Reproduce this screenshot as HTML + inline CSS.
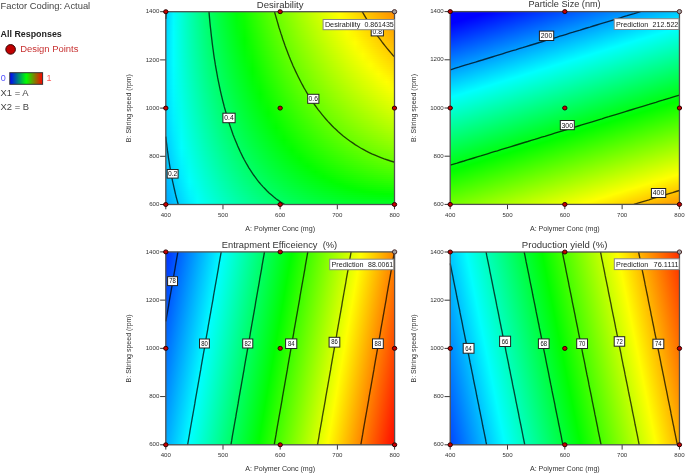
<!DOCTYPE html>
<html><head><meta charset="utf-8"><style>html,body{margin:0;padding:0;background:#fff;}svg{display:block;font-family:"Liberation Sans", sans-serif;filter:blur(0.35px);}</style></head>
<body><svg width="685" height="473" viewBox="0 0 685 473"><defs><linearGradient id="gd0" x1="0" x2="1" y1="0" y2="0"><stop offset="0.000" stop-color="#00c8ff"/><stop offset="0.034" stop-color="#00fbff"/><stop offset="0.069" stop-color="#00ffd9"/><stop offset="0.103" stop-color="#00ffb5"/><stop offset="0.138" stop-color="#00ff93"/><stop offset="0.172" stop-color="#00ff74"/><stop offset="0.207" stop-color="#00ff57"/><stop offset="0.241" stop-color="#00ff3b"/><stop offset="0.276" stop-color="#00ff21"/><stop offset="0.310" stop-color="#00ff08"/><stop offset="0.345" stop-color="#11ff00"/><stop offset="0.379" stop-color="#28ff00"/><stop offset="0.414" stop-color="#3fff00"/><stop offset="0.448" stop-color="#55ff00"/><stop offset="0.483" stop-color="#6aff00"/><stop offset="0.517" stop-color="#7fff00"/><stop offset="0.552" stop-color="#93ff00"/><stop offset="0.586" stop-color="#a7ff00"/><stop offset="0.621" stop-color="#baff00"/><stop offset="0.655" stop-color="#ccff00"/><stop offset="0.690" stop-color="#dfff00"/><stop offset="0.724" stop-color="#f0ff00"/><stop offset="0.759" stop-color="#fffd00"/><stop offset="0.793" stop-color="#ffec00"/><stop offset="0.828" stop-color="#ffdb00"/><stop offset="0.862" stop-color="#ffcb00"/><stop offset="0.897" stop-color="#ffbb00"/><stop offset="0.931" stop-color="#ffac00"/><stop offset="0.966" stop-color="#ff9d00"/><stop offset="1.000" stop-color="#ff8e00"/></linearGradient><linearGradient id="gd1" x1="0" x2="1" y1="0" y2="0"><stop offset="0.000" stop-color="#00c9ff"/><stop offset="0.034" stop-color="#00fbff"/><stop offset="0.069" stop-color="#00ffd9"/><stop offset="0.103" stop-color="#00ffb5"/><stop offset="0.138" stop-color="#00ff94"/><stop offset="0.172" stop-color="#00ff75"/><stop offset="0.207" stop-color="#00ff58"/><stop offset="0.241" stop-color="#00ff3c"/><stop offset="0.276" stop-color="#00ff22"/><stop offset="0.310" stop-color="#00ff09"/><stop offset="0.345" stop-color="#10ff00"/><stop offset="0.379" stop-color="#27ff00"/><stop offset="0.414" stop-color="#3eff00"/><stop offset="0.448" stop-color="#54ff00"/><stop offset="0.483" stop-color="#69ff00"/><stop offset="0.517" stop-color="#7dff00"/><stop offset="0.552" stop-color="#91ff00"/><stop offset="0.586" stop-color="#a5ff00"/><stop offset="0.621" stop-color="#b8ff00"/><stop offset="0.655" stop-color="#cbff00"/><stop offset="0.690" stop-color="#ddff00"/><stop offset="0.724" stop-color="#eeff00"/><stop offset="0.759" stop-color="#ffff00"/><stop offset="0.793" stop-color="#ffee00"/><stop offset="0.828" stop-color="#ffdd00"/><stop offset="0.862" stop-color="#ffcd00"/><stop offset="0.897" stop-color="#ffbe00"/><stop offset="0.931" stop-color="#ffae00"/><stop offset="0.966" stop-color="#ff9f00"/><stop offset="1.000" stop-color="#ff9100"/></linearGradient><linearGradient id="gd2" x1="0" x2="1" y1="0" y2="0"><stop offset="0.000" stop-color="#00caff"/><stop offset="0.034" stop-color="#00fcff"/><stop offset="0.069" stop-color="#00ffd9"/><stop offset="0.103" stop-color="#00ffb5"/><stop offset="0.138" stop-color="#00ff94"/><stop offset="0.172" stop-color="#00ff75"/><stop offset="0.207" stop-color="#00ff58"/><stop offset="0.241" stop-color="#00ff3d"/><stop offset="0.276" stop-color="#00ff23"/><stop offset="0.310" stop-color="#00ff0a"/><stop offset="0.345" stop-color="#0eff00"/><stop offset="0.379" stop-color="#26ff00"/><stop offset="0.414" stop-color="#3cff00"/><stop offset="0.448" stop-color="#52ff00"/><stop offset="0.483" stop-color="#67ff00"/><stop offset="0.517" stop-color="#7cff00"/><stop offset="0.552" stop-color="#90ff00"/><stop offset="0.586" stop-color="#a3ff00"/><stop offset="0.621" stop-color="#b6ff00"/><stop offset="0.655" stop-color="#c9ff00"/><stop offset="0.690" stop-color="#dbff00"/><stop offset="0.724" stop-color="#ecff00"/><stop offset="0.759" stop-color="#fdff00"/><stop offset="0.793" stop-color="#fff000"/><stop offset="0.828" stop-color="#ffe000"/><stop offset="0.862" stop-color="#ffd000"/><stop offset="0.897" stop-color="#ffc000"/><stop offset="0.931" stop-color="#ffb100"/><stop offset="0.966" stop-color="#ffa200"/><stop offset="1.000" stop-color="#ff9300"/></linearGradient><linearGradient id="gd3" x1="0" x2="1" y1="0" y2="0"><stop offset="0.000" stop-color="#00cbff"/><stop offset="0.034" stop-color="#00fcff"/><stop offset="0.069" stop-color="#00ffd9"/><stop offset="0.103" stop-color="#00ffb5"/><stop offset="0.138" stop-color="#00ff94"/><stop offset="0.172" stop-color="#00ff76"/><stop offset="0.207" stop-color="#00ff59"/><stop offset="0.241" stop-color="#00ff3e"/><stop offset="0.276" stop-color="#00ff24"/><stop offset="0.310" stop-color="#00ff0b"/><stop offset="0.345" stop-color="#0dff00"/><stop offset="0.379" stop-color="#25ff00"/><stop offset="0.414" stop-color="#3bff00"/><stop offset="0.448" stop-color="#51ff00"/><stop offset="0.483" stop-color="#66ff00"/><stop offset="0.517" stop-color="#7aff00"/><stop offset="0.552" stop-color="#8eff00"/><stop offset="0.586" stop-color="#a2ff00"/><stop offset="0.621" stop-color="#b4ff00"/><stop offset="0.655" stop-color="#c7ff00"/><stop offset="0.690" stop-color="#d9ff00"/><stop offset="0.724" stop-color="#eaff00"/><stop offset="0.759" stop-color="#fbff00"/><stop offset="0.793" stop-color="#fff200"/><stop offset="0.828" stop-color="#ffe200"/><stop offset="0.862" stop-color="#ffd200"/><stop offset="0.897" stop-color="#ffc200"/><stop offset="0.931" stop-color="#ffb300"/><stop offset="0.966" stop-color="#ffa400"/><stop offset="1.000" stop-color="#ff9600"/></linearGradient><linearGradient id="gd4" x1="0" x2="1" y1="0" y2="0"><stop offset="0.000" stop-color="#00cdff"/><stop offset="0.034" stop-color="#00fdff"/><stop offset="0.069" stop-color="#00ffd9"/><stop offset="0.103" stop-color="#00ffb6"/><stop offset="0.138" stop-color="#00ff95"/><stop offset="0.172" stop-color="#00ff77"/><stop offset="0.207" stop-color="#00ff5a"/><stop offset="0.241" stop-color="#00ff3f"/><stop offset="0.276" stop-color="#00ff25"/><stop offset="0.310" stop-color="#00ff0c"/><stop offset="0.345" stop-color="#0cff00"/><stop offset="0.379" stop-color="#23ff00"/><stop offset="0.414" stop-color="#3aff00"/><stop offset="0.448" stop-color="#4fff00"/><stop offset="0.483" stop-color="#64ff00"/><stop offset="0.517" stop-color="#79ff00"/><stop offset="0.552" stop-color="#8dff00"/><stop offset="0.586" stop-color="#a0ff00"/><stop offset="0.621" stop-color="#b3ff00"/><stop offset="0.655" stop-color="#c5ff00"/><stop offset="0.690" stop-color="#d7ff00"/><stop offset="0.724" stop-color="#e8ff00"/><stop offset="0.759" stop-color="#f9ff00"/><stop offset="0.793" stop-color="#fff400"/><stop offset="0.828" stop-color="#ffe400"/><stop offset="0.862" stop-color="#ffd400"/><stop offset="0.897" stop-color="#ffc500"/><stop offset="0.931" stop-color="#ffb600"/><stop offset="0.966" stop-color="#ffa700"/><stop offset="1.000" stop-color="#ff9900"/></linearGradient><linearGradient id="gd5" x1="0" x2="1" y1="0" y2="0"><stop offset="0.000" stop-color="#00ceff"/><stop offset="0.034" stop-color="#00fdff"/><stop offset="0.069" stop-color="#00ffd9"/><stop offset="0.103" stop-color="#00ffb6"/><stop offset="0.138" stop-color="#00ff95"/><stop offset="0.172" stop-color="#00ff77"/><stop offset="0.207" stop-color="#00ff5b"/><stop offset="0.241" stop-color="#00ff40"/><stop offset="0.276" stop-color="#00ff26"/><stop offset="0.310" stop-color="#00ff0d"/><stop offset="0.345" stop-color="#0bff00"/><stop offset="0.379" stop-color="#22ff00"/><stop offset="0.414" stop-color="#38ff00"/><stop offset="0.448" stop-color="#4eff00"/><stop offset="0.483" stop-color="#63ff00"/><stop offset="0.517" stop-color="#77ff00"/><stop offset="0.552" stop-color="#8bff00"/><stop offset="0.586" stop-color="#9eff00"/><stop offset="0.621" stop-color="#b1ff00"/><stop offset="0.655" stop-color="#c3ff00"/><stop offset="0.690" stop-color="#d5ff00"/><stop offset="0.724" stop-color="#e6ff00"/><stop offset="0.759" stop-color="#f7ff00"/><stop offset="0.793" stop-color="#fff600"/><stop offset="0.828" stop-color="#ffe600"/><stop offset="0.862" stop-color="#ffd700"/><stop offset="0.897" stop-color="#ffc700"/><stop offset="0.931" stop-color="#ffb800"/><stop offset="0.966" stop-color="#ffaa00"/><stop offset="1.000" stop-color="#ff9b00"/></linearGradient><linearGradient id="gd6" x1="0" x2="1" y1="0" y2="0"><stop offset="0.000" stop-color="#00cfff"/><stop offset="0.034" stop-color="#00fdff"/><stop offset="0.069" stop-color="#00ffd9"/><stop offset="0.103" stop-color="#00ffb6"/><stop offset="0.138" stop-color="#00ff96"/><stop offset="0.172" stop-color="#00ff78"/><stop offset="0.207" stop-color="#00ff5b"/><stop offset="0.241" stop-color="#00ff40"/><stop offset="0.276" stop-color="#00ff27"/><stop offset="0.310" stop-color="#00ff0e"/><stop offset="0.345" stop-color="#0aff00"/><stop offset="0.379" stop-color="#21ff00"/><stop offset="0.414" stop-color="#37ff00"/><stop offset="0.448" stop-color="#4dff00"/><stop offset="0.483" stop-color="#61ff00"/><stop offset="0.517" stop-color="#76ff00"/><stop offset="0.552" stop-color="#89ff00"/><stop offset="0.586" stop-color="#9cff00"/><stop offset="0.621" stop-color="#afff00"/><stop offset="0.655" stop-color="#c1ff00"/><stop offset="0.690" stop-color="#d3ff00"/><stop offset="0.724" stop-color="#e4ff00"/><stop offset="0.759" stop-color="#f5ff00"/><stop offset="0.793" stop-color="#fff900"/><stop offset="0.828" stop-color="#ffe900"/><stop offset="0.862" stop-color="#ffd900"/><stop offset="0.897" stop-color="#ffca00"/><stop offset="0.931" stop-color="#ffbb00"/><stop offset="0.966" stop-color="#ffac00"/><stop offset="1.000" stop-color="#ff9e00"/></linearGradient><linearGradient id="gd7" x1="0" x2="1" y1="0" y2="0"><stop offset="0.000" stop-color="#00d0ff"/><stop offset="0.034" stop-color="#00feff"/><stop offset="0.069" stop-color="#00ffd9"/><stop offset="0.103" stop-color="#00ffb6"/><stop offset="0.138" stop-color="#00ff96"/><stop offset="0.172" stop-color="#00ff78"/><stop offset="0.207" stop-color="#00ff5c"/><stop offset="0.241" stop-color="#00ff41"/><stop offset="0.276" stop-color="#00ff28"/><stop offset="0.310" stop-color="#00ff0f"/><stop offset="0.345" stop-color="#09ff00"/><stop offset="0.379" stop-color="#20ff00"/><stop offset="0.414" stop-color="#36ff00"/><stop offset="0.448" stop-color="#4bff00"/><stop offset="0.483" stop-color="#60ff00"/><stop offset="0.517" stop-color="#74ff00"/><stop offset="0.552" stop-color="#88ff00"/><stop offset="0.586" stop-color="#9bff00"/><stop offset="0.621" stop-color="#adff00"/><stop offset="0.655" stop-color="#bfff00"/><stop offset="0.690" stop-color="#d1ff00"/><stop offset="0.724" stop-color="#e2ff00"/><stop offset="0.759" stop-color="#f3ff00"/><stop offset="0.793" stop-color="#fffb00"/><stop offset="0.828" stop-color="#ffeb00"/><stop offset="0.862" stop-color="#ffdb00"/><stop offset="0.897" stop-color="#ffcc00"/><stop offset="0.931" stop-color="#ffbd00"/><stop offset="0.966" stop-color="#ffaf00"/><stop offset="1.000" stop-color="#ffa000"/></linearGradient><linearGradient id="gd8" x1="0" x2="1" y1="0" y2="0"><stop offset="0.000" stop-color="#00d1ff"/><stop offset="0.034" stop-color="#00feff"/><stop offset="0.069" stop-color="#00ffd9"/><stop offset="0.103" stop-color="#00ffb7"/><stop offset="0.138" stop-color="#00ff97"/><stop offset="0.172" stop-color="#00ff79"/><stop offset="0.207" stop-color="#00ff5d"/><stop offset="0.241" stop-color="#00ff42"/><stop offset="0.276" stop-color="#00ff29"/><stop offset="0.310" stop-color="#00ff10"/><stop offset="0.345" stop-color="#08ff00"/><stop offset="0.379" stop-color="#1eff00"/><stop offset="0.414" stop-color="#34ff00"/><stop offset="0.448" stop-color="#4aff00"/><stop offset="0.483" stop-color="#5eff00"/><stop offset="0.517" stop-color="#72ff00"/><stop offset="0.552" stop-color="#86ff00"/><stop offset="0.586" stop-color="#99ff00"/><stop offset="0.621" stop-color="#abff00"/><stop offset="0.655" stop-color="#bdff00"/><stop offset="0.690" stop-color="#cfff00"/><stop offset="0.724" stop-color="#e0ff00"/><stop offset="0.759" stop-color="#f1ff00"/><stop offset="0.793" stop-color="#fffd00"/><stop offset="0.828" stop-color="#ffed00"/><stop offset="0.862" stop-color="#ffde00"/><stop offset="0.897" stop-color="#ffce00"/><stop offset="0.931" stop-color="#ffc000"/><stop offset="0.966" stop-color="#ffb100"/><stop offset="1.000" stop-color="#ffa300"/></linearGradient><linearGradient id="gd9" x1="0" x2="1" y1="0" y2="0"><stop offset="0.000" stop-color="#00d1ff"/><stop offset="0.034" stop-color="#00feff"/><stop offset="0.069" stop-color="#00ffd9"/><stop offset="0.103" stop-color="#00ffb7"/><stop offset="0.138" stop-color="#00ff97"/><stop offset="0.172" stop-color="#00ff7a"/><stop offset="0.207" stop-color="#00ff5e"/><stop offset="0.241" stop-color="#00ff43"/><stop offset="0.276" stop-color="#00ff2a"/><stop offset="0.310" stop-color="#00ff11"/><stop offset="0.345" stop-color="#06ff00"/><stop offset="0.379" stop-color="#1dff00"/><stop offset="0.414" stop-color="#33ff00"/><stop offset="0.448" stop-color="#48ff00"/><stop offset="0.483" stop-color="#5dff00"/><stop offset="0.517" stop-color="#71ff00"/><stop offset="0.552" stop-color="#84ff00"/><stop offset="0.586" stop-color="#97ff00"/><stop offset="0.621" stop-color="#aaff00"/><stop offset="0.655" stop-color="#bbff00"/><stop offset="0.690" stop-color="#cdff00"/><stop offset="0.724" stop-color="#deff00"/><stop offset="0.759" stop-color="#efff00"/><stop offset="0.793" stop-color="#ffff00"/><stop offset="0.828" stop-color="#ffef00"/><stop offset="0.862" stop-color="#ffe000"/><stop offset="0.897" stop-color="#ffd100"/><stop offset="0.931" stop-color="#ffc200"/><stop offset="0.966" stop-color="#ffb400"/><stop offset="1.000" stop-color="#ffa600"/></linearGradient><linearGradient id="gd10" x1="0" x2="1" y1="0" y2="0"><stop offset="0.000" stop-color="#00d2ff"/><stop offset="0.034" stop-color="#00ffff"/><stop offset="0.069" stop-color="#00ffd9"/><stop offset="0.103" stop-color="#00ffb7"/><stop offset="0.138" stop-color="#00ff98"/><stop offset="0.172" stop-color="#00ff7a"/><stop offset="0.207" stop-color="#00ff5e"/><stop offset="0.241" stop-color="#00ff44"/><stop offset="0.276" stop-color="#00ff2b"/><stop offset="0.310" stop-color="#00ff12"/><stop offset="0.345" stop-color="#05ff00"/><stop offset="0.379" stop-color="#1cff00"/><stop offset="0.414" stop-color="#32ff00"/><stop offset="0.448" stop-color="#47ff00"/><stop offset="0.483" stop-color="#5bff00"/><stop offset="0.517" stop-color="#6fff00"/><stop offset="0.552" stop-color="#82ff00"/><stop offset="0.586" stop-color="#95ff00"/><stop offset="0.621" stop-color="#a8ff00"/><stop offset="0.655" stop-color="#b9ff00"/><stop offset="0.690" stop-color="#cbff00"/><stop offset="0.724" stop-color="#dcff00"/><stop offset="0.759" stop-color="#ecff00"/><stop offset="0.793" stop-color="#fcff00"/><stop offset="0.828" stop-color="#fff200"/><stop offset="0.862" stop-color="#ffe200"/><stop offset="0.897" stop-color="#ffd300"/><stop offset="0.931" stop-color="#ffc500"/><stop offset="0.966" stop-color="#ffb700"/><stop offset="1.000" stop-color="#ffa900"/></linearGradient><linearGradient id="gd11" x1="0" x2="1" y1="0" y2="0"><stop offset="0.000" stop-color="#00d3ff"/><stop offset="0.034" stop-color="#00ffff"/><stop offset="0.069" stop-color="#00ffd9"/><stop offset="0.103" stop-color="#00ffb8"/><stop offset="0.138" stop-color="#00ff98"/><stop offset="0.172" stop-color="#00ff7b"/><stop offset="0.207" stop-color="#00ff5f"/><stop offset="0.241" stop-color="#00ff45"/><stop offset="0.276" stop-color="#00ff2c"/><stop offset="0.310" stop-color="#00ff13"/><stop offset="0.345" stop-color="#04ff00"/><stop offset="0.379" stop-color="#1aff00"/><stop offset="0.414" stop-color="#30ff00"/><stop offset="0.448" stop-color="#45ff00"/><stop offset="0.483" stop-color="#5aff00"/><stop offset="0.517" stop-color="#6dff00"/><stop offset="0.552" stop-color="#81ff00"/><stop offset="0.586" stop-color="#94ff00"/><stop offset="0.621" stop-color="#a6ff00"/><stop offset="0.655" stop-color="#b8ff00"/><stop offset="0.690" stop-color="#c9ff00"/><stop offset="0.724" stop-color="#daff00"/><stop offset="0.759" stop-color="#eaff00"/><stop offset="0.793" stop-color="#faff00"/><stop offset="0.828" stop-color="#fff400"/><stop offset="0.862" stop-color="#ffe500"/><stop offset="0.897" stop-color="#ffd600"/><stop offset="0.931" stop-color="#ffc700"/><stop offset="0.966" stop-color="#ffb900"/><stop offset="1.000" stop-color="#ffab00"/></linearGradient><linearGradient id="gd12" x1="0" x2="1" y1="0" y2="0"><stop offset="0.000" stop-color="#00d4ff"/><stop offset="0.034" stop-color="#00ffff"/><stop offset="0.069" stop-color="#00ffda"/><stop offset="0.103" stop-color="#00ffb8"/><stop offset="0.138" stop-color="#00ff99"/><stop offset="0.172" stop-color="#00ff7c"/><stop offset="0.207" stop-color="#00ff60"/><stop offset="0.241" stop-color="#00ff46"/><stop offset="0.276" stop-color="#00ff2d"/><stop offset="0.310" stop-color="#00ff15"/><stop offset="0.345" stop-color="#03ff00"/><stop offset="0.379" stop-color="#19ff00"/><stop offset="0.414" stop-color="#2fff00"/><stop offset="0.448" stop-color="#44ff00"/><stop offset="0.483" stop-color="#58ff00"/><stop offset="0.517" stop-color="#6cff00"/><stop offset="0.552" stop-color="#7fff00"/><stop offset="0.586" stop-color="#92ff00"/><stop offset="0.621" stop-color="#a4ff00"/><stop offset="0.655" stop-color="#b6ff00"/><stop offset="0.690" stop-color="#c7ff00"/><stop offset="0.724" stop-color="#d8ff00"/><stop offset="0.759" stop-color="#e8ff00"/><stop offset="0.793" stop-color="#f8ff00"/><stop offset="0.828" stop-color="#fff600"/><stop offset="0.862" stop-color="#ffe700"/><stop offset="0.897" stop-color="#ffd800"/><stop offset="0.931" stop-color="#ffca00"/><stop offset="0.966" stop-color="#ffbc00"/><stop offset="1.000" stop-color="#ffae00"/></linearGradient><linearGradient id="gd13" x1="0" x2="1" y1="0" y2="0"><stop offset="0.000" stop-color="#00d4ff"/><stop offset="0.034" stop-color="#00ffff"/><stop offset="0.069" stop-color="#00ffda"/><stop offset="0.103" stop-color="#00ffb8"/><stop offset="0.138" stop-color="#00ff99"/><stop offset="0.172" stop-color="#00ff7c"/><stop offset="0.207" stop-color="#00ff61"/><stop offset="0.241" stop-color="#00ff47"/><stop offset="0.276" stop-color="#00ff2e"/><stop offset="0.310" stop-color="#00ff16"/><stop offset="0.345" stop-color="#01ff00"/><stop offset="0.379" stop-color="#18ff00"/><stop offset="0.414" stop-color="#2dff00"/><stop offset="0.448" stop-color="#42ff00"/><stop offset="0.483" stop-color="#56ff00"/><stop offset="0.517" stop-color="#6aff00"/><stop offset="0.552" stop-color="#7dff00"/><stop offset="0.586" stop-color="#90ff00"/><stop offset="0.621" stop-color="#a2ff00"/><stop offset="0.655" stop-color="#b4ff00"/><stop offset="0.690" stop-color="#c5ff00"/><stop offset="0.724" stop-color="#d5ff00"/><stop offset="0.759" stop-color="#e6ff00"/><stop offset="0.793" stop-color="#f6ff00"/><stop offset="0.828" stop-color="#fff900"/><stop offset="0.862" stop-color="#ffea00"/><stop offset="0.897" stop-color="#ffdb00"/><stop offset="0.931" stop-color="#ffcd00"/><stop offset="0.966" stop-color="#ffbf00"/><stop offset="1.000" stop-color="#ffb100"/></linearGradient><linearGradient id="gd14" x1="0" x2="1" y1="0" y2="0"><stop offset="0.000" stop-color="#00d5ff"/><stop offset="0.034" stop-color="#00ffff"/><stop offset="0.069" stop-color="#00ffda"/><stop offset="0.103" stop-color="#00ffb9"/><stop offset="0.138" stop-color="#00ff9a"/><stop offset="0.172" stop-color="#00ff7d"/><stop offset="0.207" stop-color="#00ff62"/><stop offset="0.241" stop-color="#00ff48"/><stop offset="0.276" stop-color="#00ff2f"/><stop offset="0.310" stop-color="#00ff17"/><stop offset="0.345" stop-color="#00ff00"/><stop offset="0.379" stop-color="#16ff00"/><stop offset="0.414" stop-color="#2cff00"/><stop offset="0.448" stop-color="#41ff00"/><stop offset="0.483" stop-color="#55ff00"/><stop offset="0.517" stop-color="#68ff00"/><stop offset="0.552" stop-color="#7cff00"/><stop offset="0.586" stop-color="#8eff00"/><stop offset="0.621" stop-color="#a0ff00"/><stop offset="0.655" stop-color="#b2ff00"/><stop offset="0.690" stop-color="#c3ff00"/><stop offset="0.724" stop-color="#d3ff00"/><stop offset="0.759" stop-color="#e4ff00"/><stop offset="0.793" stop-color="#f3ff00"/><stop offset="0.828" stop-color="#fffb00"/><stop offset="0.862" stop-color="#ffec00"/><stop offset="0.897" stop-color="#ffde00"/><stop offset="0.931" stop-color="#ffcf00"/><stop offset="0.966" stop-color="#ffc100"/><stop offset="1.000" stop-color="#ffb400"/></linearGradient><linearGradient id="gd15" x1="0" x2="1" y1="0" y2="0"><stop offset="0.000" stop-color="#00d5ff"/><stop offset="0.034" stop-color="#00ffff"/><stop offset="0.069" stop-color="#00ffda"/><stop offset="0.103" stop-color="#00ffb9"/><stop offset="0.138" stop-color="#00ff9a"/><stop offset="0.172" stop-color="#00ff7e"/><stop offset="0.207" stop-color="#00ff63"/><stop offset="0.241" stop-color="#00ff49"/><stop offset="0.276" stop-color="#00ff30"/><stop offset="0.310" stop-color="#00ff18"/><stop offset="0.345" stop-color="#00ff01"/><stop offset="0.379" stop-color="#15ff00"/><stop offset="0.414" stop-color="#2aff00"/><stop offset="0.448" stop-color="#3fff00"/><stop offset="0.483" stop-color="#53ff00"/><stop offset="0.517" stop-color="#67ff00"/><stop offset="0.552" stop-color="#7aff00"/><stop offset="0.586" stop-color="#8cff00"/><stop offset="0.621" stop-color="#9eff00"/><stop offset="0.655" stop-color="#b0ff00"/><stop offset="0.690" stop-color="#c1ff00"/><stop offset="0.724" stop-color="#d1ff00"/><stop offset="0.759" stop-color="#e1ff00"/><stop offset="0.793" stop-color="#f1ff00"/><stop offset="0.828" stop-color="#fffe00"/><stop offset="0.862" stop-color="#ffef00"/><stop offset="0.897" stop-color="#ffe000"/><stop offset="0.931" stop-color="#ffd200"/><stop offset="0.966" stop-color="#ffc400"/><stop offset="1.000" stop-color="#ffb600"/></linearGradient><linearGradient id="gd16" x1="0" x2="1" y1="0" y2="0"><stop offset="0.000" stop-color="#00d6ff"/><stop offset="0.034" stop-color="#00ffff"/><stop offset="0.069" stop-color="#00ffda"/><stop offset="0.103" stop-color="#00ffba"/><stop offset="0.138" stop-color="#00ff9b"/><stop offset="0.172" stop-color="#00ff7e"/><stop offset="0.207" stop-color="#00ff63"/><stop offset="0.241" stop-color="#00ff4a"/><stop offset="0.276" stop-color="#00ff31"/><stop offset="0.310" stop-color="#00ff19"/><stop offset="0.345" stop-color="#00ff02"/><stop offset="0.379" stop-color="#14ff00"/><stop offset="0.414" stop-color="#29ff00"/><stop offset="0.448" stop-color="#3eff00"/><stop offset="0.483" stop-color="#52ff00"/><stop offset="0.517" stop-color="#65ff00"/><stop offset="0.552" stop-color="#78ff00"/><stop offset="0.586" stop-color="#8aff00"/><stop offset="0.621" stop-color="#9cff00"/><stop offset="0.655" stop-color="#aeff00"/><stop offset="0.690" stop-color="#beff00"/><stop offset="0.724" stop-color="#cfff00"/><stop offset="0.759" stop-color="#dfff00"/><stop offset="0.793" stop-color="#efff00"/><stop offset="0.828" stop-color="#feff00"/><stop offset="0.862" stop-color="#fff100"/><stop offset="0.897" stop-color="#ffe300"/><stop offset="0.931" stop-color="#ffd500"/><stop offset="0.966" stop-color="#ffc700"/><stop offset="1.000" stop-color="#ffb900"/></linearGradient><linearGradient id="gd17" x1="0" x2="1" y1="0" y2="0"><stop offset="0.000" stop-color="#00d7ff"/><stop offset="0.034" stop-color="#00ffff"/><stop offset="0.069" stop-color="#00ffdb"/><stop offset="0.103" stop-color="#00ffba"/><stop offset="0.138" stop-color="#00ff9c"/><stop offset="0.172" stop-color="#00ff7f"/><stop offset="0.207" stop-color="#00ff64"/><stop offset="0.241" stop-color="#00ff4b"/><stop offset="0.276" stop-color="#00ff32"/><stop offset="0.310" stop-color="#00ff1a"/><stop offset="0.345" stop-color="#00ff04"/><stop offset="0.379" stop-color="#12ff00"/><stop offset="0.414" stop-color="#28ff00"/><stop offset="0.448" stop-color="#3cff00"/><stop offset="0.483" stop-color="#50ff00"/><stop offset="0.517" stop-color="#63ff00"/><stop offset="0.552" stop-color="#76ff00"/><stop offset="0.586" stop-color="#88ff00"/><stop offset="0.621" stop-color="#9aff00"/><stop offset="0.655" stop-color="#abff00"/><stop offset="0.690" stop-color="#bcff00"/><stop offset="0.724" stop-color="#cdff00"/><stop offset="0.759" stop-color="#ddff00"/><stop offset="0.793" stop-color="#ecff00"/><stop offset="0.828" stop-color="#fbff00"/><stop offset="0.862" stop-color="#fff400"/><stop offset="0.897" stop-color="#ffe500"/><stop offset="0.931" stop-color="#ffd700"/><stop offset="0.966" stop-color="#ffc900"/><stop offset="1.000" stop-color="#ffbc00"/></linearGradient><linearGradient id="gd18" x1="0" x2="1" y1="0" y2="0"><stop offset="0.000" stop-color="#00d7ff"/><stop offset="0.034" stop-color="#00fffe"/><stop offset="0.069" stop-color="#00ffdb"/><stop offset="0.103" stop-color="#00ffba"/><stop offset="0.138" stop-color="#00ff9c"/><stop offset="0.172" stop-color="#00ff80"/><stop offset="0.207" stop-color="#00ff65"/><stop offset="0.241" stop-color="#00ff4c"/><stop offset="0.276" stop-color="#00ff33"/><stop offset="0.310" stop-color="#00ff1c"/><stop offset="0.345" stop-color="#00ff05"/><stop offset="0.379" stop-color="#11ff00"/><stop offset="0.414" stop-color="#26ff00"/><stop offset="0.448" stop-color="#3aff00"/><stop offset="0.483" stop-color="#4eff00"/><stop offset="0.517" stop-color="#62ff00"/><stop offset="0.552" stop-color="#74ff00"/><stop offset="0.586" stop-color="#86ff00"/><stop offset="0.621" stop-color="#98ff00"/><stop offset="0.655" stop-color="#a9ff00"/><stop offset="0.690" stop-color="#baff00"/><stop offset="0.724" stop-color="#caff00"/><stop offset="0.759" stop-color="#daff00"/><stop offset="0.793" stop-color="#eaff00"/><stop offset="0.828" stop-color="#f9ff00"/><stop offset="0.862" stop-color="#fff600"/><stop offset="0.897" stop-color="#ffe800"/><stop offset="0.931" stop-color="#ffda00"/><stop offset="0.966" stop-color="#ffcc00"/><stop offset="1.000" stop-color="#ffbf00"/></linearGradient><linearGradient id="gd19" x1="0" x2="1" y1="0" y2="0"><stop offset="0.000" stop-color="#00d7ff"/><stop offset="0.034" stop-color="#00ffff"/><stop offset="0.069" stop-color="#00ffdb"/><stop offset="0.103" stop-color="#00ffbb"/><stop offset="0.138" stop-color="#00ff9d"/><stop offset="0.172" stop-color="#00ff81"/><stop offset="0.207" stop-color="#00ff66"/><stop offset="0.241" stop-color="#00ff4d"/><stop offset="0.276" stop-color="#00ff34"/><stop offset="0.310" stop-color="#00ff1d"/><stop offset="0.345" stop-color="#00ff06"/><stop offset="0.379" stop-color="#0fff00"/><stop offset="0.414" stop-color="#25ff00"/><stop offset="0.448" stop-color="#39ff00"/><stop offset="0.483" stop-color="#4dff00"/><stop offset="0.517" stop-color="#60ff00"/><stop offset="0.552" stop-color="#72ff00"/><stop offset="0.586" stop-color="#85ff00"/><stop offset="0.621" stop-color="#96ff00"/><stop offset="0.655" stop-color="#a7ff00"/><stop offset="0.690" stop-color="#b8ff00"/><stop offset="0.724" stop-color="#c8ff00"/><stop offset="0.759" stop-color="#d8ff00"/><stop offset="0.793" stop-color="#e7ff00"/><stop offset="0.828" stop-color="#f7ff00"/><stop offset="0.862" stop-color="#fff900"/><stop offset="0.897" stop-color="#ffeb00"/><stop offset="0.931" stop-color="#ffdd00"/><stop offset="0.966" stop-color="#ffcf00"/><stop offset="1.000" stop-color="#ffc200"/></linearGradient><linearGradient id="gd20" x1="0" x2="1" y1="0" y2="0"><stop offset="0.000" stop-color="#00d8ff"/><stop offset="0.034" stop-color="#00ffff"/><stop offset="0.069" stop-color="#00ffdb"/><stop offset="0.103" stop-color="#00ffbb"/><stop offset="0.138" stop-color="#00ff9e"/><stop offset="0.172" stop-color="#00ff82"/><stop offset="0.207" stop-color="#00ff67"/><stop offset="0.241" stop-color="#00ff4e"/><stop offset="0.276" stop-color="#00ff35"/><stop offset="0.310" stop-color="#00ff1e"/><stop offset="0.345" stop-color="#00ff08"/><stop offset="0.379" stop-color="#0eff00"/><stop offset="0.414" stop-color="#23ff00"/><stop offset="0.448" stop-color="#37ff00"/><stop offset="0.483" stop-color="#4bff00"/><stop offset="0.517" stop-color="#5eff00"/><stop offset="0.552" stop-color="#71ff00"/><stop offset="0.586" stop-color="#83ff00"/><stop offset="0.621" stop-color="#94ff00"/><stop offset="0.655" stop-color="#a5ff00"/><stop offset="0.690" stop-color="#b6ff00"/><stop offset="0.724" stop-color="#c6ff00"/><stop offset="0.759" stop-color="#d6ff00"/><stop offset="0.793" stop-color="#e5ff00"/><stop offset="0.828" stop-color="#f4ff00"/><stop offset="0.862" stop-color="#fffb00"/><stop offset="0.897" stop-color="#ffed00"/><stop offset="0.931" stop-color="#ffdf00"/><stop offset="0.966" stop-color="#ffd200"/><stop offset="1.000" stop-color="#ffc500"/></linearGradient><linearGradient id="gd21" x1="0" x2="1" y1="0" y2="0"><stop offset="0.000" stop-color="#00d8ff"/><stop offset="0.034" stop-color="#00ffff"/><stop offset="0.069" stop-color="#00ffdc"/><stop offset="0.103" stop-color="#00ffbc"/><stop offset="0.138" stop-color="#00ff9e"/><stop offset="0.172" stop-color="#00ff82"/><stop offset="0.207" stop-color="#00ff68"/><stop offset="0.241" stop-color="#00ff4f"/><stop offset="0.276" stop-color="#00ff37"/><stop offset="0.310" stop-color="#00ff1f"/><stop offset="0.345" stop-color="#00ff09"/><stop offset="0.379" stop-color="#0dff00"/><stop offset="0.414" stop-color="#22ff00"/><stop offset="0.448" stop-color="#36ff00"/><stop offset="0.483" stop-color="#49ff00"/><stop offset="0.517" stop-color="#5cff00"/><stop offset="0.552" stop-color="#6fff00"/><stop offset="0.586" stop-color="#81ff00"/><stop offset="0.621" stop-color="#92ff00"/><stop offset="0.655" stop-color="#a3ff00"/><stop offset="0.690" stop-color="#b4ff00"/><stop offset="0.724" stop-color="#c4ff00"/><stop offset="0.759" stop-color="#d3ff00"/><stop offset="0.793" stop-color="#e3ff00"/><stop offset="0.828" stop-color="#f2ff00"/><stop offset="0.862" stop-color="#fffe00"/><stop offset="0.897" stop-color="#fff000"/><stop offset="0.931" stop-color="#ffe200"/><stop offset="0.966" stop-color="#ffd500"/><stop offset="1.000" stop-color="#ffc800"/></linearGradient><linearGradient id="gd22" x1="0" x2="1" y1="0" y2="0"><stop offset="0.000" stop-color="#00d8ff"/><stop offset="0.034" stop-color="#00ffff"/><stop offset="0.069" stop-color="#00ffdc"/><stop offset="0.103" stop-color="#00ffbc"/><stop offset="0.138" stop-color="#00ff9f"/><stop offset="0.172" stop-color="#00ff83"/><stop offset="0.207" stop-color="#00ff69"/><stop offset="0.241" stop-color="#00ff50"/><stop offset="0.276" stop-color="#00ff38"/><stop offset="0.310" stop-color="#00ff21"/><stop offset="0.345" stop-color="#00ff0a"/><stop offset="0.379" stop-color="#0bff00"/><stop offset="0.414" stop-color="#20ff00"/><stop offset="0.448" stop-color="#34ff00"/><stop offset="0.483" stop-color="#48ff00"/><stop offset="0.517" stop-color="#5bff00"/><stop offset="0.552" stop-color="#6dff00"/><stop offset="0.586" stop-color="#7fff00"/><stop offset="0.621" stop-color="#90ff00"/><stop offset="0.655" stop-color="#a1ff00"/><stop offset="0.690" stop-color="#b1ff00"/><stop offset="0.724" stop-color="#c1ff00"/><stop offset="0.759" stop-color="#d1ff00"/><stop offset="0.793" stop-color="#e0ff00"/><stop offset="0.828" stop-color="#efff00"/><stop offset="0.862" stop-color="#fdff00"/><stop offset="0.897" stop-color="#fff300"/><stop offset="0.931" stop-color="#ffe500"/><stop offset="0.966" stop-color="#ffd800"/><stop offset="1.000" stop-color="#ffcb00"/></linearGradient><linearGradient id="gd23" x1="0" x2="1" y1="0" y2="0"><stop offset="0.000" stop-color="#00d9ff"/><stop offset="0.034" stop-color="#00ffff"/><stop offset="0.069" stop-color="#00ffdc"/><stop offset="0.103" stop-color="#00ffbd"/><stop offset="0.138" stop-color="#00ffa0"/><stop offset="0.172" stop-color="#00ff84"/><stop offset="0.207" stop-color="#00ff6a"/><stop offset="0.241" stop-color="#00ff51"/><stop offset="0.276" stop-color="#00ff39"/><stop offset="0.310" stop-color="#00ff22"/><stop offset="0.345" stop-color="#00ff0c"/><stop offset="0.379" stop-color="#0aff00"/><stop offset="0.414" stop-color="#1eff00"/><stop offset="0.448" stop-color="#32ff00"/><stop offset="0.483" stop-color="#46ff00"/><stop offset="0.517" stop-color="#59ff00"/><stop offset="0.552" stop-color="#6bff00"/><stop offset="0.586" stop-color="#7dff00"/><stop offset="0.621" stop-color="#8eff00"/><stop offset="0.655" stop-color="#9fff00"/><stop offset="0.690" stop-color="#afff00"/><stop offset="0.724" stop-color="#bfff00"/><stop offset="0.759" stop-color="#cfff00"/><stop offset="0.793" stop-color="#deff00"/><stop offset="0.828" stop-color="#ecff00"/><stop offset="0.862" stop-color="#fbff00"/><stop offset="0.897" stop-color="#fff500"/><stop offset="0.931" stop-color="#ffe800"/><stop offset="0.966" stop-color="#ffdb00"/><stop offset="1.000" stop-color="#ffce00"/></linearGradient><linearGradient id="gd24" x1="0" x2="1" y1="0" y2="0"><stop offset="0.000" stop-color="#00d9ff"/><stop offset="0.034" stop-color="#00ffff"/><stop offset="0.069" stop-color="#00ffdd"/><stop offset="0.103" stop-color="#00ffbe"/><stop offset="0.138" stop-color="#00ffa0"/><stop offset="0.172" stop-color="#00ff85"/><stop offset="0.207" stop-color="#00ff6b"/><stop offset="0.241" stop-color="#00ff52"/><stop offset="0.276" stop-color="#00ff3a"/><stop offset="0.310" stop-color="#00ff23"/><stop offset="0.345" stop-color="#00ff0d"/><stop offset="0.379" stop-color="#08ff00"/><stop offset="0.414" stop-color="#1dff00"/><stop offset="0.448" stop-color="#31ff00"/><stop offset="0.483" stop-color="#44ff00"/><stop offset="0.517" stop-color="#57ff00"/><stop offset="0.552" stop-color="#69ff00"/><stop offset="0.586" stop-color="#7bff00"/><stop offset="0.621" stop-color="#8cff00"/><stop offset="0.655" stop-color="#9dff00"/><stop offset="0.690" stop-color="#adff00"/><stop offset="0.724" stop-color="#bdff00"/><stop offset="0.759" stop-color="#ccff00"/><stop offset="0.793" stop-color="#dbff00"/><stop offset="0.828" stop-color="#eaff00"/><stop offset="0.862" stop-color="#f8ff00"/><stop offset="0.897" stop-color="#fff800"/><stop offset="0.931" stop-color="#ffeb00"/><stop offset="0.966" stop-color="#ffdd00"/><stop offset="1.000" stop-color="#ffd100"/></linearGradient><linearGradient id="gd25" x1="0" x2="1" y1="0" y2="0"><stop offset="0.000" stop-color="#00d9ff"/><stop offset="0.034" stop-color="#00ffff"/><stop offset="0.069" stop-color="#00ffdd"/><stop offset="0.103" stop-color="#00ffbe"/><stop offset="0.138" stop-color="#00ffa1"/><stop offset="0.172" stop-color="#00ff86"/><stop offset="0.207" stop-color="#00ff6c"/><stop offset="0.241" stop-color="#00ff53"/><stop offset="0.276" stop-color="#00ff3b"/><stop offset="0.310" stop-color="#00ff24"/><stop offset="0.345" stop-color="#00ff0e"/><stop offset="0.379" stop-color="#07ff00"/><stop offset="0.414" stop-color="#1bff00"/><stop offset="0.448" stop-color="#2fff00"/><stop offset="0.483" stop-color="#42ff00"/><stop offset="0.517" stop-color="#55ff00"/><stop offset="0.552" stop-color="#67ff00"/><stop offset="0.586" stop-color="#79ff00"/><stop offset="0.621" stop-color="#8aff00"/><stop offset="0.655" stop-color="#9bff00"/><stop offset="0.690" stop-color="#abff00"/><stop offset="0.724" stop-color="#baff00"/><stop offset="0.759" stop-color="#caff00"/><stop offset="0.793" stop-color="#d9ff00"/><stop offset="0.828" stop-color="#e7ff00"/><stop offset="0.862" stop-color="#f5ff00"/><stop offset="0.897" stop-color="#fffb00"/><stop offset="0.931" stop-color="#ffed00"/><stop offset="0.966" stop-color="#ffe000"/><stop offset="1.000" stop-color="#ffd400"/></linearGradient><linearGradient id="gd26" x1="0" x2="1" y1="0" y2="0"><stop offset="0.000" stop-color="#00d9ff"/><stop offset="0.034" stop-color="#00ffff"/><stop offset="0.069" stop-color="#00ffde"/><stop offset="0.103" stop-color="#00ffbf"/><stop offset="0.138" stop-color="#00ffa2"/><stop offset="0.172" stop-color="#00ff87"/><stop offset="0.207" stop-color="#00ff6d"/><stop offset="0.241" stop-color="#00ff54"/><stop offset="0.276" stop-color="#00ff3c"/><stop offset="0.310" stop-color="#00ff26"/><stop offset="0.345" stop-color="#00ff10"/><stop offset="0.379" stop-color="#05ff00"/><stop offset="0.414" stop-color="#1aff00"/><stop offset="0.448" stop-color="#2dff00"/><stop offset="0.483" stop-color="#41ff00"/><stop offset="0.517" stop-color="#53ff00"/><stop offset="0.552" stop-color="#65ff00"/><stop offset="0.586" stop-color="#77ff00"/><stop offset="0.621" stop-color="#88ff00"/><stop offset="0.655" stop-color="#98ff00"/><stop offset="0.690" stop-color="#a8ff00"/><stop offset="0.724" stop-color="#b8ff00"/><stop offset="0.759" stop-color="#c7ff00"/><stop offset="0.793" stop-color="#d6ff00"/><stop offset="0.828" stop-color="#e5ff00"/><stop offset="0.862" stop-color="#f3ff00"/><stop offset="0.897" stop-color="#fffe00"/><stop offset="0.931" stop-color="#fff000"/><stop offset="0.966" stop-color="#ffe300"/><stop offset="1.000" stop-color="#ffd700"/></linearGradient><linearGradient id="gd27" x1="0" x2="1" y1="0" y2="0"><stop offset="0.000" stop-color="#00d9ff"/><stop offset="0.034" stop-color="#00ffff"/><stop offset="0.069" stop-color="#00ffde"/><stop offset="0.103" stop-color="#00ffbf"/><stop offset="0.138" stop-color="#00ffa3"/><stop offset="0.172" stop-color="#00ff88"/><stop offset="0.207" stop-color="#00ff6e"/><stop offset="0.241" stop-color="#00ff55"/><stop offset="0.276" stop-color="#00ff3e"/><stop offset="0.310" stop-color="#00ff27"/><stop offset="0.345" stop-color="#00ff11"/><stop offset="0.379" stop-color="#04ff00"/><stop offset="0.414" stop-color="#18ff00"/><stop offset="0.448" stop-color="#2cff00"/><stop offset="0.483" stop-color="#3fff00"/><stop offset="0.517" stop-color="#51ff00"/><stop offset="0.552" stop-color="#63ff00"/><stop offset="0.586" stop-color="#75ff00"/><stop offset="0.621" stop-color="#86ff00"/><stop offset="0.655" stop-color="#96ff00"/><stop offset="0.690" stop-color="#a6ff00"/><stop offset="0.724" stop-color="#b6ff00"/><stop offset="0.759" stop-color="#c5ff00"/><stop offset="0.793" stop-color="#d4ff00"/><stop offset="0.828" stop-color="#e2ff00"/><stop offset="0.862" stop-color="#f0ff00"/><stop offset="0.897" stop-color="#feff00"/><stop offset="0.931" stop-color="#fff300"/><stop offset="0.966" stop-color="#ffe600"/><stop offset="1.000" stop-color="#ffda00"/></linearGradient><linearGradient id="gd28" x1="0" x2="1" y1="0" y2="0"><stop offset="0.000" stop-color="#00d9ff"/><stop offset="0.034" stop-color="#00feff"/><stop offset="0.069" stop-color="#00ffdf"/><stop offset="0.103" stop-color="#00ffc0"/><stop offset="0.138" stop-color="#00ffa3"/><stop offset="0.172" stop-color="#00ff88"/><stop offset="0.207" stop-color="#00ff6f"/><stop offset="0.241" stop-color="#00ff56"/><stop offset="0.276" stop-color="#00ff3f"/><stop offset="0.310" stop-color="#00ff28"/><stop offset="0.345" stop-color="#00ff13"/><stop offset="0.379" stop-color="#02ff00"/><stop offset="0.414" stop-color="#16ff00"/><stop offset="0.448" stop-color="#2aff00"/><stop offset="0.483" stop-color="#3dff00"/><stop offset="0.517" stop-color="#4fff00"/><stop offset="0.552" stop-color="#61ff00"/><stop offset="0.586" stop-color="#73ff00"/><stop offset="0.621" stop-color="#84ff00"/><stop offset="0.655" stop-color="#94ff00"/><stop offset="0.690" stop-color="#a4ff00"/><stop offset="0.724" stop-color="#b3ff00"/><stop offset="0.759" stop-color="#c2ff00"/><stop offset="0.793" stop-color="#d1ff00"/><stop offset="0.828" stop-color="#dfff00"/><stop offset="0.862" stop-color="#edff00"/><stop offset="0.897" stop-color="#fbff00"/><stop offset="0.931" stop-color="#fff600"/><stop offset="0.966" stop-color="#ffe900"/><stop offset="1.000" stop-color="#ffdd00"/></linearGradient><linearGradient id="gd29" x1="0" x2="1" y1="0" y2="0"><stop offset="0.000" stop-color="#00d9ff"/><stop offset="0.034" stop-color="#00feff"/><stop offset="0.069" stop-color="#00ffdf"/><stop offset="0.103" stop-color="#00ffc1"/><stop offset="0.138" stop-color="#00ffa4"/><stop offset="0.172" stop-color="#00ff89"/><stop offset="0.207" stop-color="#00ff70"/><stop offset="0.241" stop-color="#00ff58"/><stop offset="0.276" stop-color="#00ff40"/><stop offset="0.310" stop-color="#00ff2a"/><stop offset="0.345" stop-color="#00ff14"/><stop offset="0.379" stop-color="#01ff00"/><stop offset="0.414" stop-color="#15ff00"/><stop offset="0.448" stop-color="#28ff00"/><stop offset="0.483" stop-color="#3bff00"/><stop offset="0.517" stop-color="#4eff00"/><stop offset="0.552" stop-color="#5fff00"/><stop offset="0.586" stop-color="#71ff00"/><stop offset="0.621" stop-color="#81ff00"/><stop offset="0.655" stop-color="#92ff00"/><stop offset="0.690" stop-color="#a2ff00"/><stop offset="0.724" stop-color="#b1ff00"/><stop offset="0.759" stop-color="#c0ff00"/><stop offset="0.793" stop-color="#cfff00"/><stop offset="0.828" stop-color="#ddff00"/><stop offset="0.862" stop-color="#eaff00"/><stop offset="0.897" stop-color="#f8ff00"/><stop offset="0.931" stop-color="#fff900"/><stop offset="0.966" stop-color="#ffec00"/><stop offset="1.000" stop-color="#ffe000"/></linearGradient><linearGradient id="gd30" x1="0" x2="1" y1="0" y2="0"><stop offset="0.000" stop-color="#00d9ff"/><stop offset="0.034" stop-color="#00feff"/><stop offset="0.069" stop-color="#00ffe0"/><stop offset="0.103" stop-color="#00ffc1"/><stop offset="0.138" stop-color="#00ffa5"/><stop offset="0.172" stop-color="#00ff8a"/><stop offset="0.207" stop-color="#00ff71"/><stop offset="0.241" stop-color="#00ff59"/><stop offset="0.276" stop-color="#00ff41"/><stop offset="0.310" stop-color="#00ff2b"/><stop offset="0.345" stop-color="#00ff16"/><stop offset="0.379" stop-color="#00ff01"/><stop offset="0.414" stop-color="#13ff00"/><stop offset="0.448" stop-color="#27ff00"/><stop offset="0.483" stop-color="#39ff00"/><stop offset="0.517" stop-color="#4cff00"/><stop offset="0.552" stop-color="#5dff00"/><stop offset="0.586" stop-color="#6fff00"/><stop offset="0.621" stop-color="#7fff00"/><stop offset="0.655" stop-color="#8fff00"/><stop offset="0.690" stop-color="#9fff00"/><stop offset="0.724" stop-color="#afff00"/><stop offset="0.759" stop-color="#bdff00"/><stop offset="0.793" stop-color="#ccff00"/><stop offset="0.828" stop-color="#daff00"/><stop offset="0.862" stop-color="#e8ff00"/><stop offset="0.897" stop-color="#f5ff00"/><stop offset="0.931" stop-color="#fffc00"/><stop offset="0.966" stop-color="#ffef00"/><stop offset="1.000" stop-color="#ffe300"/></linearGradient><linearGradient id="gd31" x1="0" x2="1" y1="0" y2="0"><stop offset="0.000" stop-color="#00d9ff"/><stop offset="0.034" stop-color="#00fdff"/><stop offset="0.069" stop-color="#00ffe0"/><stop offset="0.103" stop-color="#00ffc2"/><stop offset="0.138" stop-color="#00ffa6"/><stop offset="0.172" stop-color="#00ff8b"/><stop offset="0.207" stop-color="#00ff72"/><stop offset="0.241" stop-color="#00ff5a"/><stop offset="0.276" stop-color="#00ff43"/><stop offset="0.310" stop-color="#00ff2c"/><stop offset="0.345" stop-color="#00ff17"/><stop offset="0.379" stop-color="#00ff02"/><stop offset="0.414" stop-color="#12ff00"/><stop offset="0.448" stop-color="#25ff00"/><stop offset="0.483" stop-color="#38ff00"/><stop offset="0.517" stop-color="#4aff00"/><stop offset="0.552" stop-color="#5bff00"/><stop offset="0.586" stop-color="#6cff00"/><stop offset="0.621" stop-color="#7dff00"/><stop offset="0.655" stop-color="#8dff00"/><stop offset="0.690" stop-color="#9dff00"/><stop offset="0.724" stop-color="#acff00"/><stop offset="0.759" stop-color="#bbff00"/><stop offset="0.793" stop-color="#c9ff00"/><stop offset="0.828" stop-color="#d7ff00"/><stop offset="0.862" stop-color="#e5ff00"/><stop offset="0.897" stop-color="#f2ff00"/><stop offset="0.931" stop-color="#ffff00"/><stop offset="0.966" stop-color="#fff200"/><stop offset="1.000" stop-color="#ffe600"/></linearGradient><linearGradient id="gd32" x1="0" x2="1" y1="0" y2="0"><stop offset="0.000" stop-color="#00d9ff"/><stop offset="0.034" stop-color="#00fdff"/><stop offset="0.069" stop-color="#00ffe1"/><stop offset="0.103" stop-color="#00ffc3"/><stop offset="0.138" stop-color="#00ffa7"/><stop offset="0.172" stop-color="#00ff8c"/><stop offset="0.207" stop-color="#00ff73"/><stop offset="0.241" stop-color="#00ff5b"/><stop offset="0.276" stop-color="#00ff44"/><stop offset="0.310" stop-color="#00ff2e"/><stop offset="0.345" stop-color="#00ff19"/><stop offset="0.379" stop-color="#00ff04"/><stop offset="0.414" stop-color="#10ff00"/><stop offset="0.448" stop-color="#23ff00"/><stop offset="0.483" stop-color="#36ff00"/><stop offset="0.517" stop-color="#48ff00"/><stop offset="0.552" stop-color="#59ff00"/><stop offset="0.586" stop-color="#6aff00"/><stop offset="0.621" stop-color="#7bff00"/><stop offset="0.655" stop-color="#8bff00"/><stop offset="0.690" stop-color="#9aff00"/><stop offset="0.724" stop-color="#aaff00"/><stop offset="0.759" stop-color="#b8ff00"/><stop offset="0.793" stop-color="#c7ff00"/><stop offset="0.828" stop-color="#d5ff00"/><stop offset="0.862" stop-color="#e2ff00"/><stop offset="0.897" stop-color="#efff00"/><stop offset="0.931" stop-color="#fcff00"/><stop offset="0.966" stop-color="#fff600"/><stop offset="1.000" stop-color="#ffea00"/></linearGradient><linearGradient id="gd33" x1="0" x2="1" y1="0" y2="0"><stop offset="0.000" stop-color="#00d9ff"/><stop offset="0.034" stop-color="#00fdff"/><stop offset="0.069" stop-color="#00ffe1"/><stop offset="0.103" stop-color="#00ffc3"/><stop offset="0.138" stop-color="#00ffa8"/><stop offset="0.172" stop-color="#00ff8d"/><stop offset="0.207" stop-color="#00ff74"/><stop offset="0.241" stop-color="#00ff5c"/><stop offset="0.276" stop-color="#00ff45"/><stop offset="0.310" stop-color="#00ff2f"/><stop offset="0.345" stop-color="#00ff1a"/><stop offset="0.379" stop-color="#00ff06"/><stop offset="0.414" stop-color="#0eff00"/><stop offset="0.448" stop-color="#21ff00"/><stop offset="0.483" stop-color="#34ff00"/><stop offset="0.517" stop-color="#46ff00"/><stop offset="0.552" stop-color="#57ff00"/><stop offset="0.586" stop-color="#68ff00"/><stop offset="0.621" stop-color="#79ff00"/><stop offset="0.655" stop-color="#89ff00"/><stop offset="0.690" stop-color="#98ff00"/><stop offset="0.724" stop-color="#a7ff00"/><stop offset="0.759" stop-color="#b6ff00"/><stop offset="0.793" stop-color="#c4ff00"/><stop offset="0.828" stop-color="#d2ff00"/><stop offset="0.862" stop-color="#dfff00"/><stop offset="0.897" stop-color="#ecff00"/><stop offset="0.931" stop-color="#f9ff00"/><stop offset="0.966" stop-color="#fff900"/><stop offset="1.000" stop-color="#ffed00"/></linearGradient><linearGradient id="gd34" x1="0" x2="1" y1="0" y2="0"><stop offset="0.000" stop-color="#00d9ff"/><stop offset="0.034" stop-color="#00fcff"/><stop offset="0.069" stop-color="#00ffe2"/><stop offset="0.103" stop-color="#00ffc4"/><stop offset="0.138" stop-color="#00ffa8"/><stop offset="0.172" stop-color="#00ff8e"/><stop offset="0.207" stop-color="#00ff75"/><stop offset="0.241" stop-color="#00ff5d"/><stop offset="0.276" stop-color="#00ff47"/><stop offset="0.310" stop-color="#00ff31"/><stop offset="0.345" stop-color="#00ff1c"/><stop offset="0.379" stop-color="#00ff07"/><stop offset="0.414" stop-color="#0dff00"/><stop offset="0.448" stop-color="#20ff00"/><stop offset="0.483" stop-color="#32ff00"/><stop offset="0.517" stop-color="#44ff00"/><stop offset="0.552" stop-color="#55ff00"/><stop offset="0.586" stop-color="#66ff00"/><stop offset="0.621" stop-color="#76ff00"/><stop offset="0.655" stop-color="#86ff00"/><stop offset="0.690" stop-color="#96ff00"/><stop offset="0.724" stop-color="#a5ff00"/><stop offset="0.759" stop-color="#b3ff00"/><stop offset="0.793" stop-color="#c1ff00"/><stop offset="0.828" stop-color="#cfff00"/><stop offset="0.862" stop-color="#dcff00"/><stop offset="0.897" stop-color="#e9ff00"/><stop offset="0.931" stop-color="#f6ff00"/><stop offset="0.966" stop-color="#fffc00"/><stop offset="1.000" stop-color="#fff000"/></linearGradient><linearGradient id="gd35" x1="0" x2="1" y1="0" y2="0"><stop offset="0.000" stop-color="#00d9ff"/><stop offset="0.034" stop-color="#00fcff"/><stop offset="0.069" stop-color="#00ffe2"/><stop offset="0.103" stop-color="#00ffc5"/><stop offset="0.138" stop-color="#00ffa9"/><stop offset="0.172" stop-color="#00ff8f"/><stop offset="0.207" stop-color="#00ff76"/><stop offset="0.241" stop-color="#00ff5f"/><stop offset="0.276" stop-color="#00ff48"/><stop offset="0.310" stop-color="#00ff32"/><stop offset="0.345" stop-color="#00ff1d"/><stop offset="0.379" stop-color="#00ff09"/><stop offset="0.414" stop-color="#0bff00"/><stop offset="0.448" stop-color="#1eff00"/><stop offset="0.483" stop-color="#30ff00"/><stop offset="0.517" stop-color="#42ff00"/><stop offset="0.552" stop-color="#53ff00"/><stop offset="0.586" stop-color="#64ff00"/><stop offset="0.621" stop-color="#74ff00"/><stop offset="0.655" stop-color="#84ff00"/><stop offset="0.690" stop-color="#93ff00"/><stop offset="0.724" stop-color="#a2ff00"/><stop offset="0.759" stop-color="#b1ff00"/><stop offset="0.793" stop-color="#bfff00"/><stop offset="0.828" stop-color="#ccff00"/><stop offset="0.862" stop-color="#d9ff00"/><stop offset="0.897" stop-color="#e6ff00"/><stop offset="0.931" stop-color="#f3ff00"/><stop offset="0.966" stop-color="#ffff00"/><stop offset="1.000" stop-color="#fff300"/></linearGradient><linearGradient id="gd36" x1="0" x2="1" y1="0" y2="0"><stop offset="0.000" stop-color="#00d9ff"/><stop offset="0.034" stop-color="#00fcff"/><stop offset="0.069" stop-color="#00ffe3"/><stop offset="0.103" stop-color="#00ffc6"/><stop offset="0.138" stop-color="#00ffaa"/><stop offset="0.172" stop-color="#00ff90"/><stop offset="0.207" stop-color="#00ff78"/><stop offset="0.241" stop-color="#00ff60"/><stop offset="0.276" stop-color="#00ff49"/><stop offset="0.310" stop-color="#00ff34"/><stop offset="0.345" stop-color="#00ff1f"/><stop offset="0.379" stop-color="#00ff0a"/><stop offset="0.414" stop-color="#09ff00"/><stop offset="0.448" stop-color="#1cff00"/><stop offset="0.483" stop-color="#2eff00"/><stop offset="0.517" stop-color="#40ff00"/><stop offset="0.552" stop-color="#51ff00"/><stop offset="0.586" stop-color="#62ff00"/><stop offset="0.621" stop-color="#72ff00"/><stop offset="0.655" stop-color="#82ff00"/><stop offset="0.690" stop-color="#91ff00"/><stop offset="0.724" stop-color="#a0ff00"/><stop offset="0.759" stop-color="#aeff00"/><stop offset="0.793" stop-color="#bcff00"/><stop offset="0.828" stop-color="#c9ff00"/><stop offset="0.862" stop-color="#d7ff00"/><stop offset="0.897" stop-color="#e3ff00"/><stop offset="0.931" stop-color="#f0ff00"/><stop offset="0.966" stop-color="#fcff00"/><stop offset="1.000" stop-color="#fff700"/></linearGradient><linearGradient id="gd37" x1="0" x2="1" y1="0" y2="0"><stop offset="0.000" stop-color="#00d9ff"/><stop offset="0.034" stop-color="#00fbff"/><stop offset="0.069" stop-color="#00ffe3"/><stop offset="0.103" stop-color="#00ffc6"/><stop offset="0.138" stop-color="#00ffab"/><stop offset="0.172" stop-color="#00ff91"/><stop offset="0.207" stop-color="#00ff79"/><stop offset="0.241" stop-color="#00ff61"/><stop offset="0.276" stop-color="#00ff4b"/><stop offset="0.310" stop-color="#00ff35"/><stop offset="0.345" stop-color="#00ff20"/><stop offset="0.379" stop-color="#00ff0c"/><stop offset="0.414" stop-color="#07ff00"/><stop offset="0.448" stop-color="#1aff00"/><stop offset="0.483" stop-color="#2cff00"/><stop offset="0.517" stop-color="#3eff00"/><stop offset="0.552" stop-color="#4fff00"/><stop offset="0.586" stop-color="#5fff00"/><stop offset="0.621" stop-color="#70ff00"/><stop offset="0.655" stop-color="#7fff00"/><stop offset="0.690" stop-color="#8eff00"/><stop offset="0.724" stop-color="#9dff00"/><stop offset="0.759" stop-color="#abff00"/><stop offset="0.793" stop-color="#b9ff00"/><stop offset="0.828" stop-color="#c7ff00"/><stop offset="0.862" stop-color="#d4ff00"/><stop offset="0.897" stop-color="#e0ff00"/><stop offset="0.931" stop-color="#edff00"/><stop offset="0.966" stop-color="#f8ff00"/><stop offset="1.000" stop-color="#fffa00"/></linearGradient><linearGradient id="gd38" x1="0" x2="1" y1="0" y2="0"><stop offset="0.000" stop-color="#00d9ff"/><stop offset="0.034" stop-color="#00fbff"/><stop offset="0.069" stop-color="#00ffe4"/><stop offset="0.103" stop-color="#00ffc7"/><stop offset="0.138" stop-color="#00ffac"/><stop offset="0.172" stop-color="#00ff92"/><stop offset="0.207" stop-color="#00ff7a"/><stop offset="0.241" stop-color="#00ff62"/><stop offset="0.276" stop-color="#00ff4c"/><stop offset="0.310" stop-color="#00ff37"/><stop offset="0.345" stop-color="#00ff22"/><stop offset="0.379" stop-color="#00ff0e"/><stop offset="0.414" stop-color="#06ff00"/><stop offset="0.448" stop-color="#18ff00"/><stop offset="0.483" stop-color="#2aff00"/><stop offset="0.517" stop-color="#3cff00"/><stop offset="0.552" stop-color="#4dff00"/><stop offset="0.586" stop-color="#5dff00"/><stop offset="0.621" stop-color="#6dff00"/><stop offset="0.655" stop-color="#7dff00"/><stop offset="0.690" stop-color="#8cff00"/><stop offset="0.724" stop-color="#9aff00"/><stop offset="0.759" stop-color="#a9ff00"/><stop offset="0.793" stop-color="#b6ff00"/><stop offset="0.828" stop-color="#c4ff00"/><stop offset="0.862" stop-color="#d1ff00"/><stop offset="0.897" stop-color="#ddff00"/><stop offset="0.931" stop-color="#e9ff00"/><stop offset="0.966" stop-color="#f5ff00"/><stop offset="1.000" stop-color="#fffd00"/></linearGradient><linearGradient id="gd39" x1="0" x2="1" y1="0" y2="0"><stop offset="0.000" stop-color="#00d8ff"/><stop offset="0.034" stop-color="#00faff"/><stop offset="0.069" stop-color="#00ffe5"/><stop offset="0.103" stop-color="#00ffc8"/><stop offset="0.138" stop-color="#00ffad"/><stop offset="0.172" stop-color="#00ff93"/><stop offset="0.207" stop-color="#00ff7b"/><stop offset="0.241" stop-color="#00ff64"/><stop offset="0.276" stop-color="#00ff4d"/><stop offset="0.310" stop-color="#00ff38"/><stop offset="0.345" stop-color="#00ff23"/><stop offset="0.379" stop-color="#00ff0f"/><stop offset="0.414" stop-color="#04ff00"/><stop offset="0.448" stop-color="#16ff00"/><stop offset="0.483" stop-color="#28ff00"/><stop offset="0.517" stop-color="#3aff00"/><stop offset="0.552" stop-color="#4bff00"/><stop offset="0.586" stop-color="#5bff00"/><stop offset="0.621" stop-color="#6bff00"/><stop offset="0.655" stop-color="#7aff00"/><stop offset="0.690" stop-color="#89ff00"/><stop offset="0.724" stop-color="#98ff00"/><stop offset="0.759" stop-color="#a6ff00"/><stop offset="0.793" stop-color="#b4ff00"/><stop offset="0.828" stop-color="#c1ff00"/><stop offset="0.862" stop-color="#ceff00"/><stop offset="0.897" stop-color="#daff00"/><stop offset="0.931" stop-color="#e6ff00"/><stop offset="0.966" stop-color="#f2ff00"/><stop offset="1.000" stop-color="#fdff00"/></linearGradient><linearGradient id="gd40" x1="0" x2="1" y1="0" y2="0"><stop offset="0.000" stop-color="#00d8ff"/><stop offset="0.034" stop-color="#00faff"/><stop offset="0.069" stop-color="#00ffe5"/><stop offset="0.103" stop-color="#00ffc9"/><stop offset="0.138" stop-color="#00ffae"/><stop offset="0.172" stop-color="#00ff94"/><stop offset="0.207" stop-color="#00ff7c"/><stop offset="0.241" stop-color="#00ff65"/><stop offset="0.276" stop-color="#00ff4f"/><stop offset="0.310" stop-color="#00ff39"/><stop offset="0.345" stop-color="#00ff25"/><stop offset="0.379" stop-color="#00ff11"/><stop offset="0.414" stop-color="#02ff00"/><stop offset="0.448" stop-color="#14ff00"/><stop offset="0.483" stop-color="#26ff00"/><stop offset="0.517" stop-color="#38ff00"/><stop offset="0.552" stop-color="#49ff00"/><stop offset="0.586" stop-color="#59ff00"/><stop offset="0.621" stop-color="#69ff00"/><stop offset="0.655" stop-color="#78ff00"/><stop offset="0.690" stop-color="#87ff00"/><stop offset="0.724" stop-color="#95ff00"/><stop offset="0.759" stop-color="#a3ff00"/><stop offset="0.793" stop-color="#b1ff00"/><stop offset="0.828" stop-color="#beff00"/><stop offset="0.862" stop-color="#cbff00"/><stop offset="0.897" stop-color="#d7ff00"/><stop offset="0.931" stop-color="#e3ff00"/><stop offset="0.966" stop-color="#efff00"/><stop offset="1.000" stop-color="#faff00"/></linearGradient><linearGradient id="gd41" x1="0" x2="1" y1="0" y2="0"><stop offset="0.000" stop-color="#00d8ff"/><stop offset="0.034" stop-color="#00f9ff"/><stop offset="0.069" stop-color="#00ffe6"/><stop offset="0.103" stop-color="#00ffca"/><stop offset="0.138" stop-color="#00ffaf"/><stop offset="0.172" stop-color="#00ff96"/><stop offset="0.207" stop-color="#00ff7d"/><stop offset="0.241" stop-color="#00ff66"/><stop offset="0.276" stop-color="#00ff50"/><stop offset="0.310" stop-color="#00ff3b"/><stop offset="0.345" stop-color="#00ff27"/><stop offset="0.379" stop-color="#00ff13"/><stop offset="0.414" stop-color="#00ff00"/><stop offset="0.448" stop-color="#13ff00"/><stop offset="0.483" stop-color="#24ff00"/><stop offset="0.517" stop-color="#36ff00"/><stop offset="0.552" stop-color="#46ff00"/><stop offset="0.586" stop-color="#57ff00"/><stop offset="0.621" stop-color="#66ff00"/><stop offset="0.655" stop-color="#75ff00"/><stop offset="0.690" stop-color="#84ff00"/><stop offset="0.724" stop-color="#92ff00"/><stop offset="0.759" stop-color="#a0ff00"/><stop offset="0.793" stop-color="#aeff00"/><stop offset="0.828" stop-color="#bbff00"/><stop offset="0.862" stop-color="#c8ff00"/><stop offset="0.897" stop-color="#d4ff00"/><stop offset="0.931" stop-color="#e0ff00"/><stop offset="0.966" stop-color="#ebff00"/><stop offset="1.000" stop-color="#f6ff00"/></linearGradient><linearGradient id="gd42" x1="0" x2="1" y1="0" y2="0"><stop offset="0.000" stop-color="#00d8ff"/><stop offset="0.034" stop-color="#00f9ff"/><stop offset="0.069" stop-color="#00ffe7"/><stop offset="0.103" stop-color="#00ffcb"/><stop offset="0.138" stop-color="#00ffb0"/><stop offset="0.172" stop-color="#00ff97"/><stop offset="0.207" stop-color="#00ff7f"/><stop offset="0.241" stop-color="#00ff68"/><stop offset="0.276" stop-color="#00ff52"/><stop offset="0.310" stop-color="#00ff3d"/><stop offset="0.345" stop-color="#00ff28"/><stop offset="0.379" stop-color="#00ff15"/><stop offset="0.414" stop-color="#00ff02"/><stop offset="0.448" stop-color="#11ff00"/><stop offset="0.483" stop-color="#22ff00"/><stop offset="0.517" stop-color="#34ff00"/><stop offset="0.552" stop-color="#44ff00"/><stop offset="0.586" stop-color="#54ff00"/><stop offset="0.621" stop-color="#64ff00"/><stop offset="0.655" stop-color="#73ff00"/><stop offset="0.690" stop-color="#82ff00"/><stop offset="0.724" stop-color="#90ff00"/><stop offset="0.759" stop-color="#9eff00"/><stop offset="0.793" stop-color="#abff00"/><stop offset="0.828" stop-color="#b8ff00"/><stop offset="0.862" stop-color="#c4ff00"/><stop offset="0.897" stop-color="#d1ff00"/><stop offset="0.931" stop-color="#dcff00"/><stop offset="0.966" stop-color="#e8ff00"/><stop offset="1.000" stop-color="#f3ff00"/></linearGradient><linearGradient id="gd43" x1="0" x2="1" y1="0" y2="0"><stop offset="0.000" stop-color="#00d7ff"/><stop offset="0.034" stop-color="#00f8ff"/><stop offset="0.069" stop-color="#00ffe8"/><stop offset="0.103" stop-color="#00ffcb"/><stop offset="0.138" stop-color="#00ffb1"/><stop offset="0.172" stop-color="#00ff98"/><stop offset="0.207" stop-color="#00ff80"/><stop offset="0.241" stop-color="#00ff69"/><stop offset="0.276" stop-color="#00ff53"/><stop offset="0.310" stop-color="#00ff3e"/><stop offset="0.345" stop-color="#00ff2a"/><stop offset="0.379" stop-color="#00ff16"/><stop offset="0.414" stop-color="#00ff03"/><stop offset="0.448" stop-color="#0fff00"/><stop offset="0.483" stop-color="#20ff00"/><stop offset="0.517" stop-color="#31ff00"/><stop offset="0.552" stop-color="#42ff00"/><stop offset="0.586" stop-color="#52ff00"/><stop offset="0.621" stop-color="#61ff00"/><stop offset="0.655" stop-color="#70ff00"/><stop offset="0.690" stop-color="#7fff00"/><stop offset="0.724" stop-color="#8dff00"/><stop offset="0.759" stop-color="#9bff00"/><stop offset="0.793" stop-color="#a8ff00"/><stop offset="0.828" stop-color="#b5ff00"/><stop offset="0.862" stop-color="#c1ff00"/><stop offset="0.897" stop-color="#cdff00"/><stop offset="0.931" stop-color="#d9ff00"/><stop offset="0.966" stop-color="#e4ff00"/><stop offset="1.000" stop-color="#efff00"/></linearGradient><linearGradient id="gd44" x1="0" x2="1" y1="0" y2="0"><stop offset="0.000" stop-color="#00d7ff"/><stop offset="0.034" stop-color="#00f8ff"/><stop offset="0.069" stop-color="#00ffe8"/><stop offset="0.103" stop-color="#00ffcc"/><stop offset="0.138" stop-color="#00ffb2"/><stop offset="0.172" stop-color="#00ff99"/><stop offset="0.207" stop-color="#00ff81"/><stop offset="0.241" stop-color="#00ff6a"/><stop offset="0.276" stop-color="#00ff55"/><stop offset="0.310" stop-color="#00ff40"/><stop offset="0.345" stop-color="#00ff2b"/><stop offset="0.379" stop-color="#00ff18"/><stop offset="0.414" stop-color="#00ff05"/><stop offset="0.448" stop-color="#0dff00"/><stop offset="0.483" stop-color="#1eff00"/><stop offset="0.517" stop-color="#2fff00"/><stop offset="0.552" stop-color="#40ff00"/><stop offset="0.586" stop-color="#50ff00"/><stop offset="0.621" stop-color="#5fff00"/><stop offset="0.655" stop-color="#6eff00"/><stop offset="0.690" stop-color="#7cff00"/><stop offset="0.724" stop-color="#8aff00"/><stop offset="0.759" stop-color="#98ff00"/><stop offset="0.793" stop-color="#a5ff00"/><stop offset="0.828" stop-color="#b2ff00"/><stop offset="0.862" stop-color="#beff00"/><stop offset="0.897" stop-color="#caff00"/><stop offset="0.931" stop-color="#d6ff00"/><stop offset="0.966" stop-color="#e1ff00"/><stop offset="1.000" stop-color="#ecff00"/></linearGradient><linearGradient id="gd45" x1="0" x2="1" y1="0" y2="0"><stop offset="0.000" stop-color="#00d6ff"/><stop offset="0.034" stop-color="#00f7ff"/><stop offset="0.069" stop-color="#00ffe9"/><stop offset="0.103" stop-color="#00ffcd"/><stop offset="0.138" stop-color="#00ffb3"/><stop offset="0.172" stop-color="#00ff9a"/><stop offset="0.207" stop-color="#00ff82"/><stop offset="0.241" stop-color="#00ff6c"/><stop offset="0.276" stop-color="#00ff56"/><stop offset="0.310" stop-color="#00ff41"/><stop offset="0.345" stop-color="#00ff2d"/><stop offset="0.379" stop-color="#00ff1a"/><stop offset="0.414" stop-color="#00ff07"/><stop offset="0.448" stop-color="#0bff00"/><stop offset="0.483" stop-color="#1cff00"/><stop offset="0.517" stop-color="#2dff00"/><stop offset="0.552" stop-color="#3dff00"/><stop offset="0.586" stop-color="#4dff00"/><stop offset="0.621" stop-color="#5dff00"/><stop offset="0.655" stop-color="#6bff00"/><stop offset="0.690" stop-color="#7aff00"/><stop offset="0.724" stop-color="#88ff00"/><stop offset="0.759" stop-color="#95ff00"/><stop offset="0.793" stop-color="#a2ff00"/><stop offset="0.828" stop-color="#afff00"/><stop offset="0.862" stop-color="#bbff00"/><stop offset="0.897" stop-color="#c7ff00"/><stop offset="0.931" stop-color="#d2ff00"/><stop offset="0.966" stop-color="#ddff00"/><stop offset="1.000" stop-color="#e8ff00"/></linearGradient><linearGradient id="gd46" x1="0" x2="1" y1="0" y2="0"><stop offset="0.000" stop-color="#00d6ff"/><stop offset="0.034" stop-color="#00f6ff"/><stop offset="0.069" stop-color="#00ffea"/><stop offset="0.103" stop-color="#00ffce"/><stop offset="0.138" stop-color="#00ffb4"/><stop offset="0.172" stop-color="#00ff9b"/><stop offset="0.207" stop-color="#00ff84"/><stop offset="0.241" stop-color="#00ff6d"/><stop offset="0.276" stop-color="#00ff58"/><stop offset="0.310" stop-color="#00ff43"/><stop offset="0.345" stop-color="#00ff2f"/><stop offset="0.379" stop-color="#00ff1c"/><stop offset="0.414" stop-color="#00ff09"/><stop offset="0.448" stop-color="#09ff00"/><stop offset="0.483" stop-color="#1aff00"/><stop offset="0.517" stop-color="#2bff00"/><stop offset="0.552" stop-color="#3bff00"/><stop offset="0.586" stop-color="#4bff00"/><stop offset="0.621" stop-color="#5aff00"/><stop offset="0.655" stop-color="#69ff00"/><stop offset="0.690" stop-color="#77ff00"/><stop offset="0.724" stop-color="#85ff00"/><stop offset="0.759" stop-color="#92ff00"/><stop offset="0.793" stop-color="#9fff00"/><stop offset="0.828" stop-color="#acff00"/><stop offset="0.862" stop-color="#b8ff00"/><stop offset="0.897" stop-color="#c4ff00"/><stop offset="0.931" stop-color="#cfff00"/><stop offset="0.966" stop-color="#daff00"/><stop offset="1.000" stop-color="#e5ff00"/></linearGradient><linearGradient id="gd47" x1="0" x2="1" y1="0" y2="0"><stop offset="0.000" stop-color="#00d6ff"/><stop offset="0.034" stop-color="#00f6ff"/><stop offset="0.069" stop-color="#00ffeb"/><stop offset="0.103" stop-color="#00ffcf"/><stop offset="0.138" stop-color="#00ffb5"/><stop offset="0.172" stop-color="#00ff9c"/><stop offset="0.207" stop-color="#00ff85"/><stop offset="0.241" stop-color="#00ff6f"/><stop offset="0.276" stop-color="#00ff59"/><stop offset="0.310" stop-color="#00ff44"/><stop offset="0.345" stop-color="#00ff31"/><stop offset="0.379" stop-color="#00ff1d"/><stop offset="0.414" stop-color="#00ff0b"/><stop offset="0.448" stop-color="#07ff00"/><stop offset="0.483" stop-color="#18ff00"/><stop offset="0.517" stop-color="#29ff00"/><stop offset="0.552" stop-color="#39ff00"/><stop offset="0.586" stop-color="#48ff00"/><stop offset="0.621" stop-color="#58ff00"/><stop offset="0.655" stop-color="#66ff00"/><stop offset="0.690" stop-color="#74ff00"/><stop offset="0.724" stop-color="#82ff00"/><stop offset="0.759" stop-color="#8fff00"/><stop offset="0.793" stop-color="#9cff00"/><stop offset="0.828" stop-color="#a9ff00"/><stop offset="0.862" stop-color="#b5ff00"/><stop offset="0.897" stop-color="#c0ff00"/><stop offset="0.931" stop-color="#ccff00"/><stop offset="0.966" stop-color="#d6ff00"/><stop offset="1.000" stop-color="#e1ff00"/></linearGradient><linearGradient id="gd48" x1="0" x2="1" y1="0" y2="0"><stop offset="0.000" stop-color="#00d5ff"/><stop offset="0.034" stop-color="#00f5ff"/><stop offset="0.069" stop-color="#00ffeb"/><stop offset="0.103" stop-color="#00ffd0"/><stop offset="0.138" stop-color="#00ffb6"/><stop offset="0.172" stop-color="#00ff9e"/><stop offset="0.207" stop-color="#00ff86"/><stop offset="0.241" stop-color="#00ff70"/><stop offset="0.276" stop-color="#00ff5b"/><stop offset="0.310" stop-color="#00ff46"/><stop offset="0.345" stop-color="#00ff32"/><stop offset="0.379" stop-color="#00ff1f"/><stop offset="0.414" stop-color="#00ff0d"/><stop offset="0.448" stop-color="#05ff00"/><stop offset="0.483" stop-color="#16ff00"/><stop offset="0.517" stop-color="#27ff00"/><stop offset="0.552" stop-color="#37ff00"/><stop offset="0.586" stop-color="#46ff00"/><stop offset="0.621" stop-color="#55ff00"/><stop offset="0.655" stop-color="#64ff00"/><stop offset="0.690" stop-color="#72ff00"/><stop offset="0.724" stop-color="#7fff00"/><stop offset="0.759" stop-color="#8cff00"/><stop offset="0.793" stop-color="#99ff00"/><stop offset="0.828" stop-color="#a5ff00"/><stop offset="0.862" stop-color="#b1ff00"/><stop offset="0.897" stop-color="#bdff00"/><stop offset="0.931" stop-color="#c8ff00"/><stop offset="0.966" stop-color="#d3ff00"/><stop offset="1.000" stop-color="#ddff00"/></linearGradient><linearGradient id="gd49" x1="0" x2="1" y1="0" y2="0"><stop offset="0.000" stop-color="#00d5ff"/><stop offset="0.034" stop-color="#00f4ff"/><stop offset="0.069" stop-color="#00ffec"/><stop offset="0.103" stop-color="#00ffd1"/><stop offset="0.138" stop-color="#00ffb7"/><stop offset="0.172" stop-color="#00ff9f"/><stop offset="0.207" stop-color="#00ff88"/><stop offset="0.241" stop-color="#00ff71"/><stop offset="0.276" stop-color="#00ff5c"/><stop offset="0.310" stop-color="#00ff48"/><stop offset="0.345" stop-color="#00ff34"/><stop offset="0.379" stop-color="#00ff21"/><stop offset="0.414" stop-color="#00ff0f"/><stop offset="0.448" stop-color="#03ff00"/><stop offset="0.483" stop-color="#14ff00"/><stop offset="0.517" stop-color="#24ff00"/><stop offset="0.552" stop-color="#34ff00"/><stop offset="0.586" stop-color="#44ff00"/><stop offset="0.621" stop-color="#52ff00"/><stop offset="0.655" stop-color="#61ff00"/><stop offset="0.690" stop-color="#6fff00"/><stop offset="0.724" stop-color="#7cff00"/><stop offset="0.759" stop-color="#89ff00"/><stop offset="0.793" stop-color="#96ff00"/><stop offset="0.828" stop-color="#a2ff00"/><stop offset="0.862" stop-color="#aeff00"/><stop offset="0.897" stop-color="#baff00"/><stop offset="0.931" stop-color="#c5ff00"/><stop offset="0.966" stop-color="#cfff00"/><stop offset="1.000" stop-color="#d9ff00"/></linearGradient><linearGradient id="gd50" x1="0" x2="1" y1="0" y2="0"><stop offset="0.000" stop-color="#00d4ff"/><stop offset="0.034" stop-color="#00f4ff"/><stop offset="0.069" stop-color="#00ffed"/><stop offset="0.103" stop-color="#00ffd2"/><stop offset="0.138" stop-color="#00ffb8"/><stop offset="0.172" stop-color="#00ffa0"/><stop offset="0.207" stop-color="#00ff89"/><stop offset="0.241" stop-color="#00ff73"/><stop offset="0.276" stop-color="#00ff5e"/><stop offset="0.310" stop-color="#00ff49"/><stop offset="0.345" stop-color="#00ff36"/><stop offset="0.379" stop-color="#00ff23"/><stop offset="0.414" stop-color="#00ff11"/><stop offset="0.448" stop-color="#01ff00"/><stop offset="0.483" stop-color="#12ff00"/><stop offset="0.517" stop-color="#22ff00"/><stop offset="0.552" stop-color="#32ff00"/><stop offset="0.586" stop-color="#41ff00"/><stop offset="0.621" stop-color="#50ff00"/><stop offset="0.655" stop-color="#5eff00"/><stop offset="0.690" stop-color="#6cff00"/><stop offset="0.724" stop-color="#7aff00"/><stop offset="0.759" stop-color="#86ff00"/><stop offset="0.793" stop-color="#93ff00"/><stop offset="0.828" stop-color="#9fff00"/><stop offset="0.862" stop-color="#abff00"/><stop offset="0.897" stop-color="#b6ff00"/><stop offset="0.931" stop-color="#c1ff00"/><stop offset="0.966" stop-color="#ccff00"/><stop offset="1.000" stop-color="#d6ff00"/></linearGradient><linearGradient id="gd51" x1="0" x2="1" y1="0" y2="0"><stop offset="0.000" stop-color="#00d4ff"/><stop offset="0.034" stop-color="#00f3ff"/><stop offset="0.069" stop-color="#00ffee"/><stop offset="0.103" stop-color="#00ffd3"/><stop offset="0.138" stop-color="#00ffb9"/><stop offset="0.172" stop-color="#00ffa1"/><stop offset="0.207" stop-color="#00ff8a"/><stop offset="0.241" stop-color="#00ff74"/><stop offset="0.276" stop-color="#00ff5f"/><stop offset="0.310" stop-color="#00ff4b"/><stop offset="0.345" stop-color="#00ff38"/><stop offset="0.379" stop-color="#00ff25"/><stop offset="0.414" stop-color="#00ff13"/><stop offset="0.448" stop-color="#00ff01"/><stop offset="0.483" stop-color="#0fff00"/><stop offset="0.517" stop-color="#20ff00"/><stop offset="0.552" stop-color="#2fff00"/><stop offset="0.586" stop-color="#3fff00"/><stop offset="0.621" stop-color="#4dff00"/><stop offset="0.655" stop-color="#5cff00"/><stop offset="0.690" stop-color="#69ff00"/><stop offset="0.724" stop-color="#77ff00"/><stop offset="0.759" stop-color="#83ff00"/><stop offset="0.793" stop-color="#90ff00"/><stop offset="0.828" stop-color="#9cff00"/><stop offset="0.862" stop-color="#a7ff00"/><stop offset="0.897" stop-color="#b3ff00"/><stop offset="0.931" stop-color="#bdff00"/><stop offset="0.966" stop-color="#c8ff00"/><stop offset="1.000" stop-color="#d2ff00"/></linearGradient><linearGradient id="gd52" x1="0" x2="1" y1="0" y2="0"><stop offset="0.000" stop-color="#00d3ff"/><stop offset="0.034" stop-color="#00f2ff"/><stop offset="0.069" stop-color="#00ffef"/><stop offset="0.103" stop-color="#00ffd4"/><stop offset="0.138" stop-color="#00ffbb"/><stop offset="0.172" stop-color="#00ffa3"/><stop offset="0.207" stop-color="#00ff8c"/><stop offset="0.241" stop-color="#00ff76"/><stop offset="0.276" stop-color="#00ff61"/><stop offset="0.310" stop-color="#00ff4d"/><stop offset="0.345" stop-color="#00ff39"/><stop offset="0.379" stop-color="#00ff27"/><stop offset="0.414" stop-color="#00ff15"/><stop offset="0.448" stop-color="#00ff03"/><stop offset="0.483" stop-color="#0dff00"/><stop offset="0.517" stop-color="#1dff00"/><stop offset="0.552" stop-color="#2dff00"/><stop offset="0.586" stop-color="#3cff00"/><stop offset="0.621" stop-color="#4bff00"/><stop offset="0.655" stop-color="#59ff00"/><stop offset="0.690" stop-color="#66ff00"/><stop offset="0.724" stop-color="#74ff00"/><stop offset="0.759" stop-color="#80ff00"/><stop offset="0.793" stop-color="#8dff00"/><stop offset="0.828" stop-color="#99ff00"/><stop offset="0.862" stop-color="#a4ff00"/><stop offset="0.897" stop-color="#afff00"/><stop offset="0.931" stop-color="#baff00"/><stop offset="0.966" stop-color="#c4ff00"/><stop offset="1.000" stop-color="#ceff00"/></linearGradient><linearGradient id="gd53" x1="0" x2="1" y1="0" y2="0"><stop offset="0.000" stop-color="#00d3ff"/><stop offset="0.034" stop-color="#00f2ff"/><stop offset="0.069" stop-color="#00fff0"/><stop offset="0.103" stop-color="#00ffd5"/><stop offset="0.138" stop-color="#00ffbc"/><stop offset="0.172" stop-color="#00ffa4"/><stop offset="0.207" stop-color="#00ff8d"/><stop offset="0.241" stop-color="#00ff77"/><stop offset="0.276" stop-color="#00ff62"/><stop offset="0.310" stop-color="#00ff4e"/><stop offset="0.345" stop-color="#00ff3b"/><stop offset="0.379" stop-color="#00ff29"/><stop offset="0.414" stop-color="#00ff17"/><stop offset="0.448" stop-color="#00ff06"/><stop offset="0.483" stop-color="#0bff00"/><stop offset="0.517" stop-color="#1bff00"/><stop offset="0.552" stop-color="#2bff00"/><stop offset="0.586" stop-color="#3aff00"/><stop offset="0.621" stop-color="#48ff00"/><stop offset="0.655" stop-color="#56ff00"/><stop offset="0.690" stop-color="#64ff00"/><stop offset="0.724" stop-color="#71ff00"/><stop offset="0.759" stop-color="#7dff00"/><stop offset="0.793" stop-color="#8aff00"/><stop offset="0.828" stop-color="#95ff00"/><stop offset="0.862" stop-color="#a1ff00"/><stop offset="0.897" stop-color="#acff00"/><stop offset="0.931" stop-color="#b6ff00"/><stop offset="0.966" stop-color="#c0ff00"/><stop offset="1.000" stop-color="#caff00"/></linearGradient><linearGradient id="gd54" x1="0" x2="1" y1="0" y2="0"><stop offset="0.000" stop-color="#00d2ff"/><stop offset="0.034" stop-color="#00f1ff"/><stop offset="0.069" stop-color="#00fff1"/><stop offset="0.103" stop-color="#00ffd6"/><stop offset="0.138" stop-color="#00ffbd"/><stop offset="0.172" stop-color="#00ffa5"/><stop offset="0.207" stop-color="#00ff8e"/><stop offset="0.241" stop-color="#00ff79"/><stop offset="0.276" stop-color="#00ff64"/><stop offset="0.310" stop-color="#00ff50"/><stop offset="0.345" stop-color="#00ff3d"/><stop offset="0.379" stop-color="#00ff2b"/><stop offset="0.414" stop-color="#00ff19"/><stop offset="0.448" stop-color="#00ff08"/><stop offset="0.483" stop-color="#09ff00"/><stop offset="0.517" stop-color="#19ff00"/><stop offset="0.552" stop-color="#28ff00"/><stop offset="0.586" stop-color="#37ff00"/><stop offset="0.621" stop-color="#45ff00"/><stop offset="0.655" stop-color="#53ff00"/><stop offset="0.690" stop-color="#61ff00"/><stop offset="0.724" stop-color="#6eff00"/><stop offset="0.759" stop-color="#7aff00"/><stop offset="0.793" stop-color="#86ff00"/><stop offset="0.828" stop-color="#92ff00"/><stop offset="0.862" stop-color="#9dff00"/><stop offset="0.897" stop-color="#a8ff00"/><stop offset="0.931" stop-color="#b2ff00"/><stop offset="0.966" stop-color="#bcff00"/><stop offset="1.000" stop-color="#c6ff00"/></linearGradient><linearGradient id="gd55" x1="0" x2="1" y1="0" y2="0"><stop offset="0.000" stop-color="#00d1ff"/><stop offset="0.034" stop-color="#00f0ff"/><stop offset="0.069" stop-color="#00fff2"/><stop offset="0.103" stop-color="#00ffd7"/><stop offset="0.138" stop-color="#00ffbe"/><stop offset="0.172" stop-color="#00ffa6"/><stop offset="0.207" stop-color="#00ff90"/><stop offset="0.241" stop-color="#00ff7a"/><stop offset="0.276" stop-color="#00ff66"/><stop offset="0.310" stop-color="#00ff52"/><stop offset="0.345" stop-color="#00ff3f"/><stop offset="0.379" stop-color="#00ff2c"/><stop offset="0.414" stop-color="#00ff1b"/><stop offset="0.448" stop-color="#00ff0a"/><stop offset="0.483" stop-color="#07ff00"/><stop offset="0.517" stop-color="#16ff00"/><stop offset="0.552" stop-color="#26ff00"/><stop offset="0.586" stop-color="#34ff00"/><stop offset="0.621" stop-color="#43ff00"/><stop offset="0.655" stop-color="#51ff00"/><stop offset="0.690" stop-color="#5eff00"/><stop offset="0.724" stop-color="#6bff00"/><stop offset="0.759" stop-color="#77ff00"/><stop offset="0.793" stop-color="#83ff00"/><stop offset="0.828" stop-color="#8fff00"/><stop offset="0.862" stop-color="#9aff00"/><stop offset="0.897" stop-color="#a4ff00"/><stop offset="0.931" stop-color="#afff00"/><stop offset="0.966" stop-color="#b9ff00"/><stop offset="1.000" stop-color="#c2ff00"/></linearGradient><linearGradient id="gd56" x1="0" x2="1" y1="0" y2="0"><stop offset="0.000" stop-color="#00d1ff"/><stop offset="0.034" stop-color="#00efff"/><stop offset="0.069" stop-color="#00fff3"/><stop offset="0.103" stop-color="#00ffd8"/><stop offset="0.138" stop-color="#00ffbf"/><stop offset="0.172" stop-color="#00ffa8"/><stop offset="0.207" stop-color="#00ff91"/><stop offset="0.241" stop-color="#00ff7c"/><stop offset="0.276" stop-color="#00ff67"/><stop offset="0.310" stop-color="#00ff54"/><stop offset="0.345" stop-color="#00ff41"/><stop offset="0.379" stop-color="#00ff2e"/><stop offset="0.414" stop-color="#00ff1d"/><stop offset="0.448" stop-color="#00ff0c"/><stop offset="0.483" stop-color="#04ff00"/><stop offset="0.517" stop-color="#14ff00"/><stop offset="0.552" stop-color="#23ff00"/><stop offset="0.586" stop-color="#32ff00"/><stop offset="0.621" stop-color="#40ff00"/><stop offset="0.655" stop-color="#4eff00"/><stop offset="0.690" stop-color="#5bff00"/><stop offset="0.724" stop-color="#68ff00"/><stop offset="0.759" stop-color="#74ff00"/><stop offset="0.793" stop-color="#80ff00"/><stop offset="0.828" stop-color="#8bff00"/><stop offset="0.862" stop-color="#96ff00"/><stop offset="0.897" stop-color="#a1ff00"/><stop offset="0.931" stop-color="#abff00"/><stop offset="0.966" stop-color="#b5ff00"/><stop offset="1.000" stop-color="#beff00"/></linearGradient><linearGradient id="gd57" x1="0" x2="1" y1="0" y2="0"><stop offset="0.000" stop-color="#00d0ff"/><stop offset="0.034" stop-color="#00eeff"/><stop offset="0.069" stop-color="#00fff4"/><stop offset="0.103" stop-color="#00ffd9"/><stop offset="0.138" stop-color="#00ffc1"/><stop offset="0.172" stop-color="#00ffa9"/><stop offset="0.207" stop-color="#00ff93"/><stop offset="0.241" stop-color="#00ff7d"/><stop offset="0.276" stop-color="#00ff69"/><stop offset="0.310" stop-color="#00ff55"/><stop offset="0.345" stop-color="#00ff43"/><stop offset="0.379" stop-color="#00ff30"/><stop offset="0.414" stop-color="#00ff1f"/><stop offset="0.448" stop-color="#00ff0e"/><stop offset="0.483" stop-color="#02ff00"/><stop offset="0.517" stop-color="#12ff00"/><stop offset="0.552" stop-color="#21ff00"/><stop offset="0.586" stop-color="#2fff00"/><stop offset="0.621" stop-color="#3dff00"/><stop offset="0.655" stop-color="#4bff00"/><stop offset="0.690" stop-color="#58ff00"/><stop offset="0.724" stop-color="#65ff00"/><stop offset="0.759" stop-color="#71ff00"/><stop offset="0.793" stop-color="#7cff00"/><stop offset="0.828" stop-color="#88ff00"/><stop offset="0.862" stop-color="#93ff00"/><stop offset="0.897" stop-color="#9dff00"/><stop offset="0.931" stop-color="#a7ff00"/><stop offset="0.966" stop-color="#b1ff00"/><stop offset="1.000" stop-color="#baff00"/></linearGradient><linearGradient id="gd58" x1="0" x2="1" y1="0" y2="0"><stop offset="0.000" stop-color="#00cfff"/><stop offset="0.034" stop-color="#00edff"/><stop offset="0.069" stop-color="#00fff5"/><stop offset="0.103" stop-color="#00ffda"/><stop offset="0.138" stop-color="#00ffc2"/><stop offset="0.172" stop-color="#00ffaa"/><stop offset="0.207" stop-color="#00ff94"/><stop offset="0.241" stop-color="#00ff7f"/><stop offset="0.276" stop-color="#00ff6b"/><stop offset="0.310" stop-color="#00ff57"/><stop offset="0.345" stop-color="#00ff44"/><stop offset="0.379" stop-color="#00ff32"/><stop offset="0.414" stop-color="#00ff21"/><stop offset="0.448" stop-color="#00ff10"/><stop offset="0.483" stop-color="#00ff00"/><stop offset="0.517" stop-color="#0fff00"/><stop offset="0.552" stop-color="#1eff00"/><stop offset="0.586" stop-color="#2dff00"/><stop offset="0.621" stop-color="#3bff00"/><stop offset="0.655" stop-color="#48ff00"/><stop offset="0.690" stop-color="#55ff00"/><stop offset="0.724" stop-color="#61ff00"/><stop offset="0.759" stop-color="#6eff00"/><stop offset="0.793" stop-color="#79ff00"/><stop offset="0.828" stop-color="#84ff00"/><stop offset="0.862" stop-color="#8fff00"/><stop offset="0.897" stop-color="#99ff00"/><stop offset="0.931" stop-color="#a3ff00"/><stop offset="0.966" stop-color="#adff00"/><stop offset="1.000" stop-color="#b6ff00"/></linearGradient><linearGradient id="gd59" x1="0" x2="1" y1="0" y2="0"><stop offset="0.000" stop-color="#00cfff"/><stop offset="0.034" stop-color="#00edff"/><stop offset="0.069" stop-color="#00fff6"/><stop offset="0.103" stop-color="#00ffdc"/><stop offset="0.138" stop-color="#00ffc3"/><stop offset="0.172" stop-color="#00ffac"/><stop offset="0.207" stop-color="#00ff96"/><stop offset="0.241" stop-color="#00ff81"/><stop offset="0.276" stop-color="#00ff6c"/><stop offset="0.310" stop-color="#00ff59"/><stop offset="0.345" stop-color="#00ff46"/><stop offset="0.379" stop-color="#00ff34"/><stop offset="0.414" stop-color="#00ff23"/><stop offset="0.448" stop-color="#00ff13"/><stop offset="0.483" stop-color="#00ff03"/><stop offset="0.517" stop-color="#0dff00"/><stop offset="0.552" stop-color="#1cff00"/><stop offset="0.586" stop-color="#2aff00"/><stop offset="0.621" stop-color="#38ff00"/><stop offset="0.655" stop-color="#45ff00"/><stop offset="0.690" stop-color="#52ff00"/><stop offset="0.724" stop-color="#5eff00"/><stop offset="0.759" stop-color="#6aff00"/><stop offset="0.793" stop-color="#76ff00"/><stop offset="0.828" stop-color="#81ff00"/><stop offset="0.862" stop-color="#8bff00"/><stop offset="0.897" stop-color="#96ff00"/><stop offset="0.931" stop-color="#9fff00"/><stop offset="0.966" stop-color="#a9ff00"/><stop offset="1.000" stop-color="#b2ff00"/></linearGradient><linearGradient id="gd60" x1="0" x2="1" y1="0" y2="0"><stop offset="0.000" stop-color="#00ceff"/><stop offset="0.034" stop-color="#00ecff"/><stop offset="0.069" stop-color="#00fff7"/><stop offset="0.103" stop-color="#00ffdd"/><stop offset="0.138" stop-color="#00ffc4"/><stop offset="0.172" stop-color="#00ffad"/><stop offset="0.207" stop-color="#00ff97"/><stop offset="0.241" stop-color="#00ff82"/><stop offset="0.276" stop-color="#00ff6e"/><stop offset="0.310" stop-color="#00ff5b"/><stop offset="0.345" stop-color="#00ff48"/><stop offset="0.379" stop-color="#00ff37"/><stop offset="0.414" stop-color="#00ff25"/><stop offset="0.448" stop-color="#00ff15"/><stop offset="0.483" stop-color="#00ff05"/><stop offset="0.517" stop-color="#0aff00"/><stop offset="0.552" stop-color="#19ff00"/><stop offset="0.586" stop-color="#27ff00"/><stop offset="0.621" stop-color="#35ff00"/><stop offset="0.655" stop-color="#42ff00"/><stop offset="0.690" stop-color="#4fff00"/><stop offset="0.724" stop-color="#5bff00"/><stop offset="0.759" stop-color="#67ff00"/><stop offset="0.793" stop-color="#72ff00"/><stop offset="0.828" stop-color="#7dff00"/><stop offset="0.862" stop-color="#88ff00"/><stop offset="0.897" stop-color="#92ff00"/><stop offset="0.931" stop-color="#9bff00"/><stop offset="0.966" stop-color="#a5ff00"/><stop offset="1.000" stop-color="#adff00"/></linearGradient><linearGradient id="gd61" x1="0" x2="1" y1="0" y2="0"><stop offset="0.000" stop-color="#00cdff"/><stop offset="0.034" stop-color="#00ebff"/><stop offset="0.069" stop-color="#00fff8"/><stop offset="0.103" stop-color="#00ffde"/><stop offset="0.138" stop-color="#00ffc6"/><stop offset="0.172" stop-color="#00ffaf"/><stop offset="0.207" stop-color="#00ff99"/><stop offset="0.241" stop-color="#00ff84"/><stop offset="0.276" stop-color="#00ff70"/><stop offset="0.310" stop-color="#00ff5d"/><stop offset="0.345" stop-color="#00ff4a"/><stop offset="0.379" stop-color="#00ff39"/><stop offset="0.414" stop-color="#00ff28"/><stop offset="0.448" stop-color="#00ff17"/><stop offset="0.483" stop-color="#00ff07"/><stop offset="0.517" stop-color="#08ff00"/><stop offset="0.552" stop-color="#16ff00"/><stop offset="0.586" stop-color="#24ff00"/><stop offset="0.621" stop-color="#32ff00"/><stop offset="0.655" stop-color="#3fff00"/><stop offset="0.690" stop-color="#4cff00"/><stop offset="0.724" stop-color="#58ff00"/><stop offset="0.759" stop-color="#64ff00"/><stop offset="0.793" stop-color="#6fff00"/><stop offset="0.828" stop-color="#7aff00"/><stop offset="0.862" stop-color="#84ff00"/><stop offset="0.897" stop-color="#8eff00"/><stop offset="0.931" stop-color="#97ff00"/><stop offset="0.966" stop-color="#a0ff00"/><stop offset="1.000" stop-color="#a9ff00"/></linearGradient><linearGradient id="gd62" x1="0" x2="1" y1="0" y2="0"><stop offset="0.000" stop-color="#00ccff"/><stop offset="0.034" stop-color="#00eaff"/><stop offset="0.069" stop-color="#00fff9"/><stop offset="0.103" stop-color="#00ffdf"/><stop offset="0.138" stop-color="#00ffc7"/><stop offset="0.172" stop-color="#00ffb0"/><stop offset="0.207" stop-color="#00ff9a"/><stop offset="0.241" stop-color="#00ff85"/><stop offset="0.276" stop-color="#00ff72"/><stop offset="0.310" stop-color="#00ff5e"/><stop offset="0.345" stop-color="#00ff4c"/><stop offset="0.379" stop-color="#00ff3b"/><stop offset="0.414" stop-color="#00ff2a"/><stop offset="0.448" stop-color="#00ff1a"/><stop offset="0.483" stop-color="#00ff0a"/><stop offset="0.517" stop-color="#05ff00"/><stop offset="0.552" stop-color="#14ff00"/><stop offset="0.586" stop-color="#22ff00"/><stop offset="0.621" stop-color="#2fff00"/><stop offset="0.655" stop-color="#3cff00"/><stop offset="0.690" stop-color="#49ff00"/><stop offset="0.724" stop-color="#55ff00"/><stop offset="0.759" stop-color="#60ff00"/><stop offset="0.793" stop-color="#6bff00"/><stop offset="0.828" stop-color="#76ff00"/><stop offset="0.862" stop-color="#80ff00"/><stop offset="0.897" stop-color="#8aff00"/><stop offset="0.931" stop-color="#93ff00"/><stop offset="0.966" stop-color="#9cff00"/><stop offset="1.000" stop-color="#a5ff00"/></linearGradient><linearGradient id="gd63" x1="0" x2="1" y1="0" y2="0"><stop offset="0.000" stop-color="#00cbff"/><stop offset="0.034" stop-color="#00e9ff"/><stop offset="0.069" stop-color="#00fffa"/><stop offset="0.103" stop-color="#00ffe0"/><stop offset="0.138" stop-color="#00ffc8"/><stop offset="0.172" stop-color="#00ffb1"/><stop offset="0.207" stop-color="#00ff9c"/><stop offset="0.241" stop-color="#00ff87"/><stop offset="0.276" stop-color="#00ff73"/><stop offset="0.310" stop-color="#00ff60"/><stop offset="0.345" stop-color="#00ff4e"/><stop offset="0.379" stop-color="#00ff3d"/><stop offset="0.414" stop-color="#00ff2c"/><stop offset="0.448" stop-color="#00ff1c"/><stop offset="0.483" stop-color="#00ff0c"/><stop offset="0.517" stop-color="#03ff00"/><stop offset="0.552" stop-color="#11ff00"/><stop offset="0.586" stop-color="#1fff00"/><stop offset="0.621" stop-color="#2cff00"/><stop offset="0.655" stop-color="#39ff00"/><stop offset="0.690" stop-color="#46ff00"/><stop offset="0.724" stop-color="#51ff00"/><stop offset="0.759" stop-color="#5dff00"/><stop offset="0.793" stop-color="#68ff00"/><stop offset="0.828" stop-color="#72ff00"/><stop offset="0.862" stop-color="#7cff00"/><stop offset="0.897" stop-color="#86ff00"/><stop offset="0.931" stop-color="#8fff00"/><stop offset="0.966" stop-color="#98ff00"/><stop offset="1.000" stop-color="#a0ff00"/></linearGradient><linearGradient id="gd64" x1="0" x2="1" y1="0" y2="0"><stop offset="0.000" stop-color="#00cbff"/><stop offset="0.034" stop-color="#00e8ff"/><stop offset="0.069" stop-color="#00fffb"/><stop offset="0.103" stop-color="#00ffe1"/><stop offset="0.138" stop-color="#00ffca"/><stop offset="0.172" stop-color="#00ffb3"/><stop offset="0.207" stop-color="#00ff9d"/><stop offset="0.241" stop-color="#00ff89"/><stop offset="0.276" stop-color="#00ff75"/><stop offset="0.310" stop-color="#00ff62"/><stop offset="0.345" stop-color="#00ff50"/><stop offset="0.379" stop-color="#00ff3f"/><stop offset="0.414" stop-color="#00ff2e"/><stop offset="0.448" stop-color="#00ff1e"/><stop offset="0.483" stop-color="#00ff0f"/><stop offset="0.517" stop-color="#00ff00"/><stop offset="0.552" stop-color="#0eff00"/><stop offset="0.586" stop-color="#1cff00"/><stop offset="0.621" stop-color="#29ff00"/><stop offset="0.655" stop-color="#36ff00"/><stop offset="0.690" stop-color="#42ff00"/><stop offset="0.724" stop-color="#4eff00"/><stop offset="0.759" stop-color="#59ff00"/><stop offset="0.793" stop-color="#64ff00"/><stop offset="0.828" stop-color="#6fff00"/><stop offset="0.862" stop-color="#79ff00"/><stop offset="0.897" stop-color="#82ff00"/><stop offset="0.931" stop-color="#8bff00"/><stop offset="0.966" stop-color="#94ff00"/><stop offset="1.000" stop-color="#9cff00"/></linearGradient><linearGradient id="gd65" x1="0" x2="1" y1="0" y2="0"><stop offset="0.000" stop-color="#00caff"/><stop offset="0.034" stop-color="#00e7ff"/><stop offset="0.069" stop-color="#00fffc"/><stop offset="0.103" stop-color="#00ffe3"/><stop offset="0.138" stop-color="#00ffcb"/><stop offset="0.172" stop-color="#00ffb4"/><stop offset="0.207" stop-color="#00ff9f"/><stop offset="0.241" stop-color="#00ff8a"/><stop offset="0.276" stop-color="#00ff77"/><stop offset="0.310" stop-color="#00ff64"/><stop offset="0.345" stop-color="#00ff52"/><stop offset="0.379" stop-color="#00ff41"/><stop offset="0.414" stop-color="#00ff30"/><stop offset="0.448" stop-color="#00ff21"/><stop offset="0.483" stop-color="#00ff11"/><stop offset="0.517" stop-color="#00ff03"/><stop offset="0.552" stop-color="#0cff00"/><stop offset="0.586" stop-color="#19ff00"/><stop offset="0.621" stop-color="#26ff00"/><stop offset="0.655" stop-color="#33ff00"/><stop offset="0.690" stop-color="#3fff00"/><stop offset="0.724" stop-color="#4bff00"/><stop offset="0.759" stop-color="#56ff00"/><stop offset="0.793" stop-color="#61ff00"/><stop offset="0.828" stop-color="#6bff00"/><stop offset="0.862" stop-color="#75ff00"/><stop offset="0.897" stop-color="#7eff00"/><stop offset="0.931" stop-color="#87ff00"/><stop offset="0.966" stop-color="#8fff00"/><stop offset="1.000" stop-color="#97ff00"/></linearGradient><linearGradient id="gd66" x1="0" x2="1" y1="0" y2="0"><stop offset="0.000" stop-color="#00c9ff"/><stop offset="0.034" stop-color="#00e6ff"/><stop offset="0.069" stop-color="#00fffd"/><stop offset="0.103" stop-color="#00ffe4"/><stop offset="0.138" stop-color="#00ffcc"/><stop offset="0.172" stop-color="#00ffb6"/><stop offset="0.207" stop-color="#00ffa0"/><stop offset="0.241" stop-color="#00ff8c"/><stop offset="0.276" stop-color="#00ff79"/><stop offset="0.310" stop-color="#00ff66"/><stop offset="0.345" stop-color="#00ff54"/><stop offset="0.379" stop-color="#00ff43"/><stop offset="0.414" stop-color="#00ff33"/><stop offset="0.448" stop-color="#00ff23"/><stop offset="0.483" stop-color="#00ff14"/><stop offset="0.517" stop-color="#00ff05"/><stop offset="0.552" stop-color="#09ff00"/><stop offset="0.586" stop-color="#16ff00"/><stop offset="0.621" stop-color="#23ff00"/><stop offset="0.655" stop-color="#30ff00"/><stop offset="0.690" stop-color="#3cff00"/><stop offset="0.724" stop-color="#47ff00"/><stop offset="0.759" stop-color="#52ff00"/><stop offset="0.793" stop-color="#5dff00"/><stop offset="0.828" stop-color="#67ff00"/><stop offset="0.862" stop-color="#71ff00"/><stop offset="0.897" stop-color="#7aff00"/><stop offset="0.931" stop-color="#83ff00"/><stop offset="0.966" stop-color="#8bff00"/><stop offset="1.000" stop-color="#93ff00"/></linearGradient><linearGradient id="gd67" x1="0" x2="1" y1="0" y2="0"><stop offset="0.000" stop-color="#00c8ff"/><stop offset="0.034" stop-color="#00e5ff"/><stop offset="0.069" stop-color="#00fffe"/><stop offset="0.103" stop-color="#00ffe5"/><stop offset="0.138" stop-color="#00ffce"/><stop offset="0.172" stop-color="#00ffb7"/><stop offset="0.207" stop-color="#00ffa2"/><stop offset="0.241" stop-color="#00ff8e"/><stop offset="0.276" stop-color="#00ff7b"/><stop offset="0.310" stop-color="#00ff68"/><stop offset="0.345" stop-color="#00ff56"/><stop offset="0.379" stop-color="#00ff45"/><stop offset="0.414" stop-color="#00ff35"/><stop offset="0.448" stop-color="#00ff25"/><stop offset="0.483" stop-color="#00ff16"/><stop offset="0.517" stop-color="#00ff08"/><stop offset="0.552" stop-color="#06ff00"/><stop offset="0.586" stop-color="#13ff00"/><stop offset="0.621" stop-color="#20ff00"/><stop offset="0.655" stop-color="#2dff00"/><stop offset="0.690" stop-color="#39ff00"/><stop offset="0.724" stop-color="#44ff00"/><stop offset="0.759" stop-color="#4fff00"/><stop offset="0.793" stop-color="#59ff00"/><stop offset="0.828" stop-color="#63ff00"/><stop offset="0.862" stop-color="#6dff00"/><stop offset="0.897" stop-color="#76ff00"/><stop offset="0.931" stop-color="#7eff00"/><stop offset="0.966" stop-color="#86ff00"/><stop offset="1.000" stop-color="#8eff00"/></linearGradient><linearGradient id="gd68" x1="0" x2="1" y1="0" y2="0"><stop offset="0.000" stop-color="#00c7ff"/><stop offset="0.034" stop-color="#00e4ff"/><stop offset="0.069" stop-color="#00ffff"/><stop offset="0.103" stop-color="#00ffe7"/><stop offset="0.138" stop-color="#00ffcf"/><stop offset="0.172" stop-color="#00ffb9"/><stop offset="0.207" stop-color="#00ffa4"/><stop offset="0.241" stop-color="#00ff90"/><stop offset="0.276" stop-color="#00ff7c"/><stop offset="0.310" stop-color="#00ff6a"/><stop offset="0.345" stop-color="#00ff58"/><stop offset="0.379" stop-color="#00ff48"/><stop offset="0.414" stop-color="#00ff37"/><stop offset="0.448" stop-color="#00ff28"/><stop offset="0.483" stop-color="#00ff19"/><stop offset="0.517" stop-color="#00ff0b"/><stop offset="0.552" stop-color="#03ff00"/><stop offset="0.586" stop-color="#11ff00"/><stop offset="0.621" stop-color="#1dff00"/><stop offset="0.655" stop-color="#29ff00"/><stop offset="0.690" stop-color="#35ff00"/><stop offset="0.724" stop-color="#40ff00"/><stop offset="0.759" stop-color="#4bff00"/><stop offset="0.793" stop-color="#55ff00"/><stop offset="0.828" stop-color="#5fff00"/><stop offset="0.862" stop-color="#69ff00"/><stop offset="0.897" stop-color="#72ff00"/><stop offset="0.931" stop-color="#7aff00"/><stop offset="0.966" stop-color="#82ff00"/><stop offset="1.000" stop-color="#89ff00"/></linearGradient><linearGradient id="gd69" x1="0" x2="1" y1="0" y2="0"><stop offset="0.000" stop-color="#00c6ff"/><stop offset="0.034" stop-color="#00e3ff"/><stop offset="0.069" stop-color="#00fdff"/><stop offset="0.103" stop-color="#00ffe8"/><stop offset="0.138" stop-color="#00ffd0"/><stop offset="0.172" stop-color="#00ffba"/><stop offset="0.207" stop-color="#00ffa5"/><stop offset="0.241" stop-color="#00ff91"/><stop offset="0.276" stop-color="#00ff7e"/><stop offset="0.310" stop-color="#00ff6c"/><stop offset="0.345" stop-color="#00ff5b"/><stop offset="0.379" stop-color="#00ff4a"/><stop offset="0.414" stop-color="#00ff3a"/><stop offset="0.448" stop-color="#00ff2a"/><stop offset="0.483" stop-color="#00ff1b"/><stop offset="0.517" stop-color="#00ff0d"/><stop offset="0.552" stop-color="#00ff00"/><stop offset="0.586" stop-color="#0eff00"/><stop offset="0.621" stop-color="#1aff00"/><stop offset="0.655" stop-color="#26ff00"/><stop offset="0.690" stop-color="#32ff00"/><stop offset="0.724" stop-color="#3dff00"/><stop offset="0.759" stop-color="#48ff00"/><stop offset="0.793" stop-color="#52ff00"/><stop offset="0.828" stop-color="#5bff00"/><stop offset="0.862" stop-color="#65ff00"/><stop offset="0.897" stop-color="#6dff00"/><stop offset="0.931" stop-color="#76ff00"/><stop offset="0.966" stop-color="#7dff00"/><stop offset="1.000" stop-color="#85ff00"/></linearGradient><linearGradient id="gd70" x1="0" x2="1" y1="0" y2="0"><stop offset="0.000" stop-color="#00c5ff"/><stop offset="0.034" stop-color="#00e2ff"/><stop offset="0.069" stop-color="#00fcff"/><stop offset="0.103" stop-color="#00ffe9"/><stop offset="0.138" stop-color="#00ffd2"/><stop offset="0.172" stop-color="#00ffbc"/><stop offset="0.207" stop-color="#00ffa7"/><stop offset="0.241" stop-color="#00ff93"/><stop offset="0.276" stop-color="#00ff80"/><stop offset="0.310" stop-color="#00ff6e"/><stop offset="0.345" stop-color="#00ff5d"/><stop offset="0.379" stop-color="#00ff4c"/><stop offset="0.414" stop-color="#00ff3c"/><stop offset="0.448" stop-color="#00ff2d"/><stop offset="0.483" stop-color="#00ff1e"/><stop offset="0.517" stop-color="#00ff10"/><stop offset="0.552" stop-color="#00ff02"/><stop offset="0.586" stop-color="#0bff00"/><stop offset="0.621" stop-color="#17ff00"/><stop offset="0.655" stop-color="#23ff00"/><stop offset="0.690" stop-color="#2eff00"/><stop offset="0.724" stop-color="#39ff00"/><stop offset="0.759" stop-color="#44ff00"/><stop offset="0.793" stop-color="#4eff00"/><stop offset="0.828" stop-color="#57ff00"/><stop offset="0.862" stop-color="#60ff00"/><stop offset="0.897" stop-color="#69ff00"/><stop offset="0.931" stop-color="#71ff00"/><stop offset="0.966" stop-color="#79ff00"/><stop offset="1.000" stop-color="#80ff00"/></linearGradient><linearGradient id="gd71" x1="0" x2="1" y1="0" y2="0"><stop offset="0.000" stop-color="#00c4ff"/><stop offset="0.034" stop-color="#00e1ff"/><stop offset="0.069" stop-color="#00fbff"/><stop offset="0.103" stop-color="#00ffea"/><stop offset="0.138" stop-color="#00ffd3"/><stop offset="0.172" stop-color="#00ffbd"/><stop offset="0.207" stop-color="#00ffa9"/><stop offset="0.241" stop-color="#00ff95"/><stop offset="0.276" stop-color="#00ff82"/><stop offset="0.310" stop-color="#00ff70"/><stop offset="0.345" stop-color="#00ff5f"/><stop offset="0.379" stop-color="#00ff4e"/><stop offset="0.414" stop-color="#00ff3f"/><stop offset="0.448" stop-color="#00ff2f"/><stop offset="0.483" stop-color="#00ff21"/><stop offset="0.517" stop-color="#00ff13"/><stop offset="0.552" stop-color="#00ff05"/><stop offset="0.586" stop-color="#07ff00"/><stop offset="0.621" stop-color="#14ff00"/><stop offset="0.655" stop-color="#20ff00"/><stop offset="0.690" stop-color="#2bff00"/><stop offset="0.724" stop-color="#36ff00"/><stop offset="0.759" stop-color="#40ff00"/><stop offset="0.793" stop-color="#4aff00"/><stop offset="0.828" stop-color="#53ff00"/><stop offset="0.862" stop-color="#5cff00"/><stop offset="0.897" stop-color="#65ff00"/><stop offset="0.931" stop-color="#6cff00"/><stop offset="0.966" stop-color="#74ff00"/><stop offset="1.000" stop-color="#7bff00"/></linearGradient><linearGradient id="gd72" x1="0" x2="1" y1="0" y2="0"><stop offset="0.000" stop-color="#00c3ff"/><stop offset="0.034" stop-color="#00dfff"/><stop offset="0.069" stop-color="#00faff"/><stop offset="0.103" stop-color="#00ffec"/><stop offset="0.138" stop-color="#00ffd5"/><stop offset="0.172" stop-color="#00ffbf"/><stop offset="0.207" stop-color="#00ffaa"/><stop offset="0.241" stop-color="#00ff97"/><stop offset="0.276" stop-color="#00ff84"/><stop offset="0.310" stop-color="#00ff72"/><stop offset="0.345" stop-color="#00ff61"/><stop offset="0.379" stop-color="#00ff51"/><stop offset="0.414" stop-color="#00ff41"/><stop offset="0.448" stop-color="#00ff32"/><stop offset="0.483" stop-color="#00ff23"/><stop offset="0.517" stop-color="#00ff16"/><stop offset="0.552" stop-color="#00ff08"/><stop offset="0.586" stop-color="#04ff00"/><stop offset="0.621" stop-color="#11ff00"/><stop offset="0.655" stop-color="#1cff00"/><stop offset="0.690" stop-color="#27ff00"/><stop offset="0.724" stop-color="#32ff00"/><stop offset="0.759" stop-color="#3cff00"/><stop offset="0.793" stop-color="#46ff00"/><stop offset="0.828" stop-color="#4fff00"/><stop offset="0.862" stop-color="#58ff00"/><stop offset="0.897" stop-color="#60ff00"/><stop offset="0.931" stop-color="#68ff00"/><stop offset="0.966" stop-color="#6fff00"/><stop offset="1.000" stop-color="#76ff00"/></linearGradient><linearGradient id="gd73" x1="0" x2="1" y1="0" y2="0"><stop offset="0.000" stop-color="#00c2ff"/><stop offset="0.034" stop-color="#00deff"/><stop offset="0.069" stop-color="#00f8ff"/><stop offset="0.103" stop-color="#00ffed"/><stop offset="0.138" stop-color="#00ffd6"/><stop offset="0.172" stop-color="#00ffc1"/><stop offset="0.207" stop-color="#00ffac"/><stop offset="0.241" stop-color="#00ff99"/><stop offset="0.276" stop-color="#00ff86"/><stop offset="0.310" stop-color="#00ff74"/><stop offset="0.345" stop-color="#00ff63"/><stop offset="0.379" stop-color="#00ff53"/><stop offset="0.414" stop-color="#00ff43"/><stop offset="0.448" stop-color="#00ff34"/><stop offset="0.483" stop-color="#00ff26"/><stop offset="0.517" stop-color="#00ff18"/><stop offset="0.552" stop-color="#00ff0b"/><stop offset="0.586" stop-color="#01ff00"/><stop offset="0.621" stop-color="#0dff00"/><stop offset="0.655" stop-color="#19ff00"/><stop offset="0.690" stop-color="#24ff00"/><stop offset="0.724" stop-color="#2eff00"/><stop offset="0.759" stop-color="#38ff00"/><stop offset="0.793" stop-color="#42ff00"/><stop offset="0.828" stop-color="#4bff00"/><stop offset="0.862" stop-color="#54ff00"/><stop offset="0.897" stop-color="#5cff00"/><stop offset="0.931" stop-color="#63ff00"/><stop offset="0.966" stop-color="#6aff00"/><stop offset="1.000" stop-color="#71ff00"/></linearGradient><linearGradient id="gd74" x1="0" x2="1" y1="0" y2="0"><stop offset="0.000" stop-color="#00c1ff"/><stop offset="0.034" stop-color="#00ddff"/><stop offset="0.069" stop-color="#00f7ff"/><stop offset="0.103" stop-color="#00ffef"/><stop offset="0.138" stop-color="#00ffd8"/><stop offset="0.172" stop-color="#00ffc2"/><stop offset="0.207" stop-color="#00ffae"/><stop offset="0.241" stop-color="#00ff9b"/><stop offset="0.276" stop-color="#00ff88"/><stop offset="0.310" stop-color="#00ff76"/><stop offset="0.345" stop-color="#00ff66"/><stop offset="0.379" stop-color="#00ff55"/><stop offset="0.414" stop-color="#00ff46"/><stop offset="0.448" stop-color="#00ff37"/><stop offset="0.483" stop-color="#00ff29"/><stop offset="0.517" stop-color="#00ff1b"/><stop offset="0.552" stop-color="#00ff0e"/><stop offset="0.586" stop-color="#00ff02"/><stop offset="0.621" stop-color="#0aff00"/><stop offset="0.655" stop-color="#15ff00"/><stop offset="0.690" stop-color="#20ff00"/><stop offset="0.724" stop-color="#2bff00"/><stop offset="0.759" stop-color="#35ff00"/><stop offset="0.793" stop-color="#3eff00"/><stop offset="0.828" stop-color="#47ff00"/><stop offset="0.862" stop-color="#4fff00"/><stop offset="0.897" stop-color="#57ff00"/><stop offset="0.931" stop-color="#5eff00"/><stop offset="0.966" stop-color="#65ff00"/><stop offset="1.000" stop-color="#6cff00"/></linearGradient><linearGradient id="gd75" x1="0" x2="1" y1="0" y2="0"><stop offset="0.000" stop-color="#00c0ff"/><stop offset="0.034" stop-color="#00dcff"/><stop offset="0.069" stop-color="#00f6ff"/><stop offset="0.103" stop-color="#00fff0"/><stop offset="0.138" stop-color="#00ffd9"/><stop offset="0.172" stop-color="#00ffc4"/><stop offset="0.207" stop-color="#00ffb0"/><stop offset="0.241" stop-color="#00ff9c"/><stop offset="0.276" stop-color="#00ff8a"/><stop offset="0.310" stop-color="#00ff79"/><stop offset="0.345" stop-color="#00ff68"/><stop offset="0.379" stop-color="#00ff58"/><stop offset="0.414" stop-color="#00ff48"/><stop offset="0.448" stop-color="#00ff3a"/><stop offset="0.483" stop-color="#00ff2c"/><stop offset="0.517" stop-color="#00ff1e"/><stop offset="0.552" stop-color="#00ff11"/><stop offset="0.586" stop-color="#00ff05"/><stop offset="0.621" stop-color="#07ff00"/><stop offset="0.655" stop-color="#12ff00"/><stop offset="0.690" stop-color="#1dff00"/><stop offset="0.724" stop-color="#27ff00"/><stop offset="0.759" stop-color="#31ff00"/><stop offset="0.793" stop-color="#3aff00"/><stop offset="0.828" stop-color="#42ff00"/><stop offset="0.862" stop-color="#4bff00"/><stop offset="0.897" stop-color="#52ff00"/><stop offset="0.931" stop-color="#5aff00"/><stop offset="0.966" stop-color="#60ff00"/><stop offset="1.000" stop-color="#66ff00"/></linearGradient><linearGradient id="gd76" x1="0" x2="1" y1="0" y2="0"><stop offset="0.000" stop-color="#00bfff"/><stop offset="0.034" stop-color="#00dbff"/><stop offset="0.069" stop-color="#00f5ff"/><stop offset="0.103" stop-color="#00fff1"/><stop offset="0.138" stop-color="#00ffdb"/><stop offset="0.172" stop-color="#00ffc6"/><stop offset="0.207" stop-color="#00ffb1"/><stop offset="0.241" stop-color="#00ff9e"/><stop offset="0.276" stop-color="#00ff8c"/><stop offset="0.310" stop-color="#00ff7b"/><stop offset="0.345" stop-color="#00ff6a"/><stop offset="0.379" stop-color="#00ff5a"/><stop offset="0.414" stop-color="#00ff4b"/><stop offset="0.448" stop-color="#00ff3c"/><stop offset="0.483" stop-color="#00ff2f"/><stop offset="0.517" stop-color="#00ff21"/><stop offset="0.552" stop-color="#00ff14"/><stop offset="0.586" stop-color="#00ff08"/><stop offset="0.621" stop-color="#03ff00"/><stop offset="0.655" stop-color="#0eff00"/><stop offset="0.690" stop-color="#19ff00"/><stop offset="0.724" stop-color="#23ff00"/><stop offset="0.759" stop-color="#2dff00"/><stop offset="0.793" stop-color="#36ff00"/><stop offset="0.828" stop-color="#3eff00"/><stop offset="0.862" stop-color="#46ff00"/><stop offset="0.897" stop-color="#4eff00"/><stop offset="0.931" stop-color="#55ff00"/><stop offset="0.966" stop-color="#5bff00"/><stop offset="1.000" stop-color="#61ff00"/></linearGradient><linearGradient id="gd77" x1="0" x2="1" y1="0" y2="0"><stop offset="0.000" stop-color="#00beff"/><stop offset="0.034" stop-color="#00daff"/><stop offset="0.069" stop-color="#00f3ff"/><stop offset="0.103" stop-color="#00fff3"/><stop offset="0.138" stop-color="#00ffdc"/><stop offset="0.172" stop-color="#00ffc7"/><stop offset="0.207" stop-color="#00ffb3"/><stop offset="0.241" stop-color="#00ffa0"/><stop offset="0.276" stop-color="#00ff8e"/><stop offset="0.310" stop-color="#00ff7d"/><stop offset="0.345" stop-color="#00ff6c"/><stop offset="0.379" stop-color="#00ff5d"/><stop offset="0.414" stop-color="#00ff4e"/><stop offset="0.448" stop-color="#00ff3f"/><stop offset="0.483" stop-color="#00ff31"/><stop offset="0.517" stop-color="#00ff24"/><stop offset="0.552" stop-color="#00ff18"/><stop offset="0.586" stop-color="#00ff0c"/><stop offset="0.621" stop-color="#00ff00"/><stop offset="0.655" stop-color="#0bff00"/><stop offset="0.690" stop-color="#15ff00"/><stop offset="0.724" stop-color="#1fff00"/><stop offset="0.759" stop-color="#28ff00"/><stop offset="0.793" stop-color="#31ff00"/><stop offset="0.828" stop-color="#3aff00"/><stop offset="0.862" stop-color="#41ff00"/><stop offset="0.897" stop-color="#49ff00"/><stop offset="0.931" stop-color="#50ff00"/><stop offset="0.966" stop-color="#56ff00"/><stop offset="1.000" stop-color="#5cff00"/></linearGradient><linearGradient id="gd78" x1="0" x2="1" y1="0" y2="0"><stop offset="0.000" stop-color="#00bdff"/><stop offset="0.034" stop-color="#00d8ff"/><stop offset="0.069" stop-color="#00f2ff"/><stop offset="0.103" stop-color="#00fff4"/><stop offset="0.138" stop-color="#00ffde"/><stop offset="0.172" stop-color="#00ffc9"/><stop offset="0.207" stop-color="#00ffb5"/><stop offset="0.241" stop-color="#00ffa2"/><stop offset="0.276" stop-color="#00ff90"/><stop offset="0.310" stop-color="#00ff7f"/><stop offset="0.345" stop-color="#00ff6f"/><stop offset="0.379" stop-color="#00ff5f"/><stop offset="0.414" stop-color="#00ff50"/><stop offset="0.448" stop-color="#00ff42"/><stop offset="0.483" stop-color="#00ff34"/><stop offset="0.517" stop-color="#00ff27"/><stop offset="0.552" stop-color="#00ff1b"/><stop offset="0.586" stop-color="#00ff0f"/><stop offset="0.621" stop-color="#00ff04"/><stop offset="0.655" stop-color="#07ff00"/><stop offset="0.690" stop-color="#11ff00"/><stop offset="0.724" stop-color="#1bff00"/><stop offset="0.759" stop-color="#24ff00"/><stop offset="0.793" stop-color="#2dff00"/><stop offset="0.828" stop-color="#35ff00"/><stop offset="0.862" stop-color="#3dff00"/><stop offset="0.897" stop-color="#44ff00"/><stop offset="0.931" stop-color="#4bff00"/><stop offset="0.966" stop-color="#51ff00"/><stop offset="1.000" stop-color="#56ff00"/></linearGradient><linearGradient id="gd79" x1="0" x2="1" y1="0" y2="0"><stop offset="0.000" stop-color="#00bbff"/><stop offset="0.034" stop-color="#00d7ff"/><stop offset="0.069" stop-color="#00f0ff"/><stop offset="0.103" stop-color="#00fff6"/><stop offset="0.138" stop-color="#00ffe0"/><stop offset="0.172" stop-color="#00ffcb"/><stop offset="0.207" stop-color="#00ffb7"/><stop offset="0.241" stop-color="#00ffa4"/><stop offset="0.276" stop-color="#00ff92"/><stop offset="0.310" stop-color="#00ff81"/><stop offset="0.345" stop-color="#00ff71"/><stop offset="0.379" stop-color="#00ff62"/><stop offset="0.414" stop-color="#00ff53"/><stop offset="0.448" stop-color="#00ff45"/><stop offset="0.483" stop-color="#00ff37"/><stop offset="0.517" stop-color="#00ff2a"/><stop offset="0.552" stop-color="#00ff1e"/><stop offset="0.586" stop-color="#00ff12"/><stop offset="0.621" stop-color="#00ff07"/><stop offset="0.655" stop-color="#04ff00"/><stop offset="0.690" stop-color="#0eff00"/><stop offset="0.724" stop-color="#17ff00"/><stop offset="0.759" stop-color="#20ff00"/><stop offset="0.793" stop-color="#29ff00"/><stop offset="0.828" stop-color="#31ff00"/><stop offset="0.862" stop-color="#38ff00"/><stop offset="0.897" stop-color="#3fff00"/><stop offset="0.931" stop-color="#45ff00"/><stop offset="0.966" stop-color="#4bff00"/><stop offset="1.000" stop-color="#50ff00"/></linearGradient><linearGradient id="gd80" x1="0" x2="1" y1="0" y2="0"><stop offset="0.000" stop-color="#00baff"/><stop offset="0.034" stop-color="#00d6ff"/><stop offset="0.069" stop-color="#00efff"/><stop offset="0.103" stop-color="#00fff7"/><stop offset="0.138" stop-color="#00ffe1"/><stop offset="0.172" stop-color="#00ffcd"/><stop offset="0.207" stop-color="#00ffb9"/><stop offset="0.241" stop-color="#00ffa6"/><stop offset="0.276" stop-color="#00ff94"/><stop offset="0.310" stop-color="#00ff84"/><stop offset="0.345" stop-color="#00ff73"/><stop offset="0.379" stop-color="#00ff64"/><stop offset="0.414" stop-color="#00ff55"/><stop offset="0.448" stop-color="#00ff47"/><stop offset="0.483" stop-color="#00ff3a"/><stop offset="0.517" stop-color="#00ff2d"/><stop offset="0.552" stop-color="#00ff21"/><stop offset="0.586" stop-color="#00ff16"/><stop offset="0.621" stop-color="#00ff0b"/><stop offset="0.655" stop-color="#00ff00"/><stop offset="0.690" stop-color="#0aff00"/><stop offset="0.724" stop-color="#13ff00"/><stop offset="0.759" stop-color="#1cff00"/><stop offset="0.793" stop-color="#24ff00"/><stop offset="0.828" stop-color="#2cff00"/><stop offset="0.862" stop-color="#33ff00"/><stop offset="0.897" stop-color="#3aff00"/><stop offset="0.931" stop-color="#40ff00"/><stop offset="0.966" stop-color="#46ff00"/><stop offset="1.000" stop-color="#4bff00"/></linearGradient><linearGradient id="gd81" x1="0" x2="1" y1="0" y2="0"><stop offset="0.000" stop-color="#00b9ff"/><stop offset="0.034" stop-color="#00d4ff"/><stop offset="0.069" stop-color="#00eeff"/><stop offset="0.103" stop-color="#00fff9"/><stop offset="0.138" stop-color="#00ffe3"/><stop offset="0.172" stop-color="#00ffce"/><stop offset="0.207" stop-color="#00ffbb"/><stop offset="0.241" stop-color="#00ffa8"/><stop offset="0.276" stop-color="#00ff97"/><stop offset="0.310" stop-color="#00ff86"/><stop offset="0.345" stop-color="#00ff76"/><stop offset="0.379" stop-color="#00ff67"/><stop offset="0.414" stop-color="#00ff58"/><stop offset="0.448" stop-color="#00ff4a"/><stop offset="0.483" stop-color="#00ff3d"/><stop offset="0.517" stop-color="#00ff31"/><stop offset="0.552" stop-color="#00ff25"/><stop offset="0.586" stop-color="#00ff19"/><stop offset="0.621" stop-color="#00ff0e"/><stop offset="0.655" stop-color="#00ff04"/><stop offset="0.690" stop-color="#06ff00"/><stop offset="0.724" stop-color="#0fff00"/><stop offset="0.759" stop-color="#18ff00"/><stop offset="0.793" stop-color="#20ff00"/><stop offset="0.828" stop-color="#27ff00"/><stop offset="0.862" stop-color="#2eff00"/><stop offset="0.897" stop-color="#35ff00"/><stop offset="0.931" stop-color="#3bff00"/><stop offset="0.966" stop-color="#40ff00"/><stop offset="1.000" stop-color="#45ff00"/></linearGradient><linearGradient id="gd82" x1="0" x2="1" y1="0" y2="0"><stop offset="0.000" stop-color="#00b8ff"/><stop offset="0.034" stop-color="#00d3ff"/><stop offset="0.069" stop-color="#00ecff"/><stop offset="0.103" stop-color="#00fffa"/><stop offset="0.138" stop-color="#00ffe5"/><stop offset="0.172" stop-color="#00ffd0"/><stop offset="0.207" stop-color="#00ffbd"/><stop offset="0.241" stop-color="#00ffaa"/><stop offset="0.276" stop-color="#00ff99"/><stop offset="0.310" stop-color="#00ff88"/><stop offset="0.345" stop-color="#00ff78"/><stop offset="0.379" stop-color="#00ff69"/><stop offset="0.414" stop-color="#00ff5b"/><stop offset="0.448" stop-color="#00ff4d"/><stop offset="0.483" stop-color="#00ff40"/><stop offset="0.517" stop-color="#00ff34"/><stop offset="0.552" stop-color="#00ff28"/><stop offset="0.586" stop-color="#00ff1d"/><stop offset="0.621" stop-color="#00ff12"/><stop offset="0.655" stop-color="#00ff08"/><stop offset="0.690" stop-color="#02ff00"/><stop offset="0.724" stop-color="#0bff00"/><stop offset="0.759" stop-color="#13ff00"/><stop offset="0.793" stop-color="#1bff00"/><stop offset="0.828" stop-color="#22ff00"/><stop offset="0.862" stop-color="#29ff00"/><stop offset="0.897" stop-color="#30ff00"/><stop offset="0.931" stop-color="#35ff00"/><stop offset="0.966" stop-color="#3aff00"/><stop offset="1.000" stop-color="#3fff00"/></linearGradient><linearGradient id="gd83" x1="0" x2="1" y1="0" y2="0"><stop offset="0.000" stop-color="#00b6ff"/><stop offset="0.034" stop-color="#00d2ff"/><stop offset="0.069" stop-color="#00ebff"/><stop offset="0.103" stop-color="#00fffc"/><stop offset="0.138" stop-color="#00ffe6"/><stop offset="0.172" stop-color="#00ffd2"/><stop offset="0.207" stop-color="#00ffbf"/><stop offset="0.241" stop-color="#00ffac"/><stop offset="0.276" stop-color="#00ff9b"/><stop offset="0.310" stop-color="#00ff8b"/><stop offset="0.345" stop-color="#00ff7b"/><stop offset="0.379" stop-color="#00ff6c"/><stop offset="0.414" stop-color="#00ff5e"/><stop offset="0.448" stop-color="#00ff50"/><stop offset="0.483" stop-color="#00ff43"/><stop offset="0.517" stop-color="#00ff37"/><stop offset="0.552" stop-color="#00ff2b"/><stop offset="0.586" stop-color="#00ff20"/><stop offset="0.621" stop-color="#00ff16"/><stop offset="0.655" stop-color="#00ff0c"/><stop offset="0.690" stop-color="#00ff02"/><stop offset="0.724" stop-color="#06ff00"/><stop offset="0.759" stop-color="#0fff00"/><stop offset="0.793" stop-color="#16ff00"/><stop offset="0.828" stop-color="#1eff00"/><stop offset="0.862" stop-color="#24ff00"/><stop offset="0.897" stop-color="#2aff00"/><stop offset="0.931" stop-color="#30ff00"/><stop offset="0.966" stop-color="#35ff00"/><stop offset="1.000" stop-color="#39ff00"/></linearGradient><linearGradient id="gd84" x1="0" x2="1" y1="0" y2="0"><stop offset="0.000" stop-color="#00b5ff"/><stop offset="0.034" stop-color="#00d0ff"/><stop offset="0.069" stop-color="#00e9ff"/><stop offset="0.103" stop-color="#00fffe"/><stop offset="0.138" stop-color="#00ffe8"/><stop offset="0.172" stop-color="#00ffd4"/><stop offset="0.207" stop-color="#00ffc1"/><stop offset="0.241" stop-color="#00ffae"/><stop offset="0.276" stop-color="#00ff9d"/><stop offset="0.310" stop-color="#00ff8d"/><stop offset="0.345" stop-color="#00ff7d"/><stop offset="0.379" stop-color="#00ff6f"/><stop offset="0.414" stop-color="#00ff60"/><stop offset="0.448" stop-color="#00ff53"/><stop offset="0.483" stop-color="#00ff46"/><stop offset="0.517" stop-color="#00ff3a"/><stop offset="0.552" stop-color="#00ff2f"/><stop offset="0.586" stop-color="#00ff24"/><stop offset="0.621" stop-color="#00ff19"/><stop offset="0.655" stop-color="#00ff10"/><stop offset="0.690" stop-color="#00ff07"/><stop offset="0.724" stop-color="#02ff00"/><stop offset="0.759" stop-color="#0aff00"/><stop offset="0.793" stop-color="#12ff00"/><stop offset="0.828" stop-color="#19ff00"/><stop offset="0.862" stop-color="#1fff00"/><stop offset="0.897" stop-color="#25ff00"/><stop offset="0.931" stop-color="#2aff00"/><stop offset="0.966" stop-color="#2fff00"/><stop offset="1.000" stop-color="#33ff00"/></linearGradient><linearGradient id="gd85" x1="0" x2="1" y1="0" y2="0"><stop offset="0.000" stop-color="#00b4ff"/><stop offset="0.034" stop-color="#00cfff"/><stop offset="0.069" stop-color="#00e8ff"/><stop offset="0.103" stop-color="#00ffff"/><stop offset="0.138" stop-color="#00ffea"/><stop offset="0.172" stop-color="#00ffd6"/><stop offset="0.207" stop-color="#00ffc3"/><stop offset="0.241" stop-color="#00ffb1"/><stop offset="0.276" stop-color="#00ffa0"/><stop offset="0.310" stop-color="#00ff8f"/><stop offset="0.345" stop-color="#00ff80"/><stop offset="0.379" stop-color="#00ff71"/><stop offset="0.414" stop-color="#00ff63"/><stop offset="0.448" stop-color="#00ff56"/><stop offset="0.483" stop-color="#00ff49"/><stop offset="0.517" stop-color="#00ff3e"/><stop offset="0.552" stop-color="#00ff32"/><stop offset="0.586" stop-color="#00ff27"/><stop offset="0.621" stop-color="#00ff1d"/><stop offset="0.655" stop-color="#00ff14"/><stop offset="0.690" stop-color="#00ff0b"/><stop offset="0.724" stop-color="#00ff02"/><stop offset="0.759" stop-color="#06ff00"/><stop offset="0.793" stop-color="#0dff00"/><stop offset="0.828" stop-color="#14ff00"/><stop offset="0.862" stop-color="#1aff00"/><stop offset="0.897" stop-color="#1fff00"/><stop offset="0.931" stop-color="#24ff00"/><stop offset="0.966" stop-color="#29ff00"/><stop offset="1.000" stop-color="#2cff00"/></linearGradient><linearGradient id="gd86" x1="0" x2="1" y1="0" y2="0"><stop offset="0.000" stop-color="#00b3ff"/><stop offset="0.034" stop-color="#00ceff"/><stop offset="0.069" stop-color="#00e6ff"/><stop offset="0.103" stop-color="#00fdff"/><stop offset="0.138" stop-color="#00ffec"/><stop offset="0.172" stop-color="#00ffd7"/><stop offset="0.207" stop-color="#00ffc5"/><stop offset="0.241" stop-color="#00ffb3"/><stop offset="0.276" stop-color="#00ffa2"/><stop offset="0.310" stop-color="#00ff92"/><stop offset="0.345" stop-color="#00ff82"/><stop offset="0.379" stop-color="#00ff74"/><stop offset="0.414" stop-color="#00ff66"/><stop offset="0.448" stop-color="#00ff59"/><stop offset="0.483" stop-color="#00ff4d"/><stop offset="0.517" stop-color="#00ff41"/><stop offset="0.552" stop-color="#00ff36"/><stop offset="0.586" stop-color="#00ff2b"/><stop offset="0.621" stop-color="#00ff21"/><stop offset="0.655" stop-color="#00ff18"/><stop offset="0.690" stop-color="#00ff0f"/><stop offset="0.724" stop-color="#00ff07"/><stop offset="0.759" stop-color="#01ff00"/><stop offset="0.793" stop-color="#08ff00"/><stop offset="0.828" stop-color="#0eff00"/><stop offset="0.862" stop-color="#14ff00"/><stop offset="0.897" stop-color="#1aff00"/><stop offset="0.931" stop-color="#1eff00"/><stop offset="0.966" stop-color="#22ff00"/><stop offset="1.000" stop-color="#26ff00"/></linearGradient><linearGradient id="gd87" x1="0" x2="1" y1="0" y2="0"><stop offset="0.000" stop-color="#00b1ff"/><stop offset="0.034" stop-color="#00ccff"/><stop offset="0.069" stop-color="#00e5ff"/><stop offset="0.103" stop-color="#00fcff"/><stop offset="0.138" stop-color="#00ffed"/><stop offset="0.172" stop-color="#00ffd9"/><stop offset="0.207" stop-color="#00ffc7"/><stop offset="0.241" stop-color="#00ffb5"/><stop offset="0.276" stop-color="#00ffa4"/><stop offset="0.310" stop-color="#00ff94"/><stop offset="0.345" stop-color="#00ff85"/><stop offset="0.379" stop-color="#00ff77"/><stop offset="0.414" stop-color="#00ff69"/><stop offset="0.448" stop-color="#00ff5c"/><stop offset="0.483" stop-color="#00ff50"/><stop offset="0.517" stop-color="#00ff44"/><stop offset="0.552" stop-color="#00ff39"/><stop offset="0.586" stop-color="#00ff2f"/><stop offset="0.621" stop-color="#00ff25"/><stop offset="0.655" stop-color="#00ff1c"/><stop offset="0.690" stop-color="#00ff13"/><stop offset="0.724" stop-color="#00ff0b"/><stop offset="0.759" stop-color="#00ff04"/><stop offset="0.793" stop-color="#03ff00"/><stop offset="0.828" stop-color="#09ff00"/><stop offset="0.862" stop-color="#0fff00"/><stop offset="0.897" stop-color="#14ff00"/><stop offset="0.931" stop-color="#18ff00"/><stop offset="0.966" stop-color="#1cff00"/><stop offset="1.000" stop-color="#1fff00"/></linearGradient><linearGradient id="gd88" x1="0" x2="1" y1="0" y2="0"><stop offset="0.000" stop-color="#00b0ff"/><stop offset="0.034" stop-color="#00cbff"/><stop offset="0.069" stop-color="#00e3ff"/><stop offset="0.103" stop-color="#00faff"/><stop offset="0.138" stop-color="#00ffef"/><stop offset="0.172" stop-color="#00ffdb"/><stop offset="0.207" stop-color="#00ffc9"/><stop offset="0.241" stop-color="#00ffb7"/><stop offset="0.276" stop-color="#00ffa6"/><stop offset="0.310" stop-color="#00ff97"/><stop offset="0.345" stop-color="#00ff88"/><stop offset="0.379" stop-color="#00ff7a"/><stop offset="0.414" stop-color="#00ff6c"/><stop offset="0.448" stop-color="#00ff5f"/><stop offset="0.483" stop-color="#00ff53"/><stop offset="0.517" stop-color="#00ff48"/><stop offset="0.552" stop-color="#00ff3d"/><stop offset="0.586" stop-color="#00ff33"/><stop offset="0.621" stop-color="#00ff29"/><stop offset="0.655" stop-color="#00ff20"/><stop offset="0.690" stop-color="#00ff18"/><stop offset="0.724" stop-color="#00ff10"/><stop offset="0.759" stop-color="#00ff09"/><stop offset="0.793" stop-color="#00ff02"/><stop offset="0.828" stop-color="#04ff00"/><stop offset="0.862" stop-color="#09ff00"/><stop offset="0.897" stop-color="#0eff00"/><stop offset="0.931" stop-color="#12ff00"/><stop offset="0.966" stop-color="#15ff00"/><stop offset="1.000" stop-color="#18ff00"/></linearGradient><linearGradient id="gd89" x1="0" x2="1" y1="0" y2="0"><stop offset="0.000" stop-color="#00aeff"/><stop offset="0.034" stop-color="#00c9ff"/><stop offset="0.069" stop-color="#00e2ff"/><stop offset="0.103" stop-color="#00f8ff"/><stop offset="0.138" stop-color="#00fff1"/><stop offset="0.172" stop-color="#00ffdd"/><stop offset="0.207" stop-color="#00ffcb"/><stop offset="0.241" stop-color="#00ffb9"/><stop offset="0.276" stop-color="#00ffa9"/><stop offset="0.310" stop-color="#00ff99"/><stop offset="0.345" stop-color="#00ff8a"/><stop offset="0.379" stop-color="#00ff7c"/><stop offset="0.414" stop-color="#00ff6f"/><stop offset="0.448" stop-color="#00ff63"/><stop offset="0.483" stop-color="#00ff57"/><stop offset="0.517" stop-color="#00ff4b"/><stop offset="0.552" stop-color="#00ff41"/><stop offset="0.586" stop-color="#00ff37"/><stop offset="0.621" stop-color="#00ff2d"/><stop offset="0.655" stop-color="#00ff25"/><stop offset="0.690" stop-color="#00ff1c"/><stop offset="0.724" stop-color="#00ff15"/><stop offset="0.759" stop-color="#00ff0e"/><stop offset="0.793" stop-color="#00ff07"/><stop offset="0.828" stop-color="#00ff02"/><stop offset="0.862" stop-color="#03ff00"/><stop offset="0.897" stop-color="#08ff00"/><stop offset="0.931" stop-color="#0cff00"/><stop offset="0.966" stop-color="#0fff00"/><stop offset="1.000" stop-color="#11ff00"/></linearGradient><linearGradient id="gd90" x1="0" x2="1" y1="0" y2="0"><stop offset="0.000" stop-color="#00adff"/><stop offset="0.034" stop-color="#00c8ff"/><stop offset="0.069" stop-color="#00e0ff"/><stop offset="0.103" stop-color="#00f6ff"/><stop offset="0.138" stop-color="#00fff3"/><stop offset="0.172" stop-color="#00ffdf"/><stop offset="0.207" stop-color="#00ffcd"/><stop offset="0.241" stop-color="#00ffbc"/><stop offset="0.276" stop-color="#00ffab"/><stop offset="0.310" stop-color="#00ff9c"/><stop offset="0.345" stop-color="#00ff8d"/><stop offset="0.379" stop-color="#00ff7f"/><stop offset="0.414" stop-color="#00ff72"/><stop offset="0.448" stop-color="#00ff66"/><stop offset="0.483" stop-color="#00ff5a"/><stop offset="0.517" stop-color="#00ff4f"/><stop offset="0.552" stop-color="#00ff44"/><stop offset="0.586" stop-color="#00ff3b"/><stop offset="0.621" stop-color="#00ff31"/><stop offset="0.655" stop-color="#00ff29"/><stop offset="0.690" stop-color="#00ff21"/><stop offset="0.724" stop-color="#00ff1a"/><stop offset="0.759" stop-color="#00ff13"/><stop offset="0.793" stop-color="#00ff0d"/><stop offset="0.828" stop-color="#00ff07"/><stop offset="0.862" stop-color="#00ff02"/><stop offset="0.897" stop-color="#02ff00"/><stop offset="0.931" stop-color="#05ff00"/><stop offset="0.966" stop-color="#08ff00"/><stop offset="1.000" stop-color="#0aff00"/></linearGradient><linearGradient id="gd91" x1="0" x2="1" y1="0" y2="0"><stop offset="0.000" stop-color="#00acff"/><stop offset="0.034" stop-color="#00c6ff"/><stop offset="0.069" stop-color="#00deff"/><stop offset="0.103" stop-color="#00f5ff"/><stop offset="0.138" stop-color="#00fff5"/><stop offset="0.172" stop-color="#00ffe1"/><stop offset="0.207" stop-color="#00ffcf"/><stop offset="0.241" stop-color="#00ffbe"/><stop offset="0.276" stop-color="#00ffae"/><stop offset="0.310" stop-color="#00ff9e"/><stop offset="0.345" stop-color="#00ff90"/><stop offset="0.379" stop-color="#00ff82"/><stop offset="0.414" stop-color="#00ff75"/><stop offset="0.448" stop-color="#00ff69"/><stop offset="0.483" stop-color="#00ff5d"/><stop offset="0.517" stop-color="#00ff53"/><stop offset="0.552" stop-color="#00ff48"/><stop offset="0.586" stop-color="#00ff3f"/><stop offset="0.621" stop-color="#00ff36"/><stop offset="0.655" stop-color="#00ff2d"/><stop offset="0.690" stop-color="#00ff26"/><stop offset="0.724" stop-color="#00ff1f"/><stop offset="0.759" stop-color="#00ff18"/><stop offset="0.793" stop-color="#00ff12"/><stop offset="0.828" stop-color="#00ff0d"/><stop offset="0.862" stop-color="#00ff09"/><stop offset="0.897" stop-color="#00ff05"/><stop offset="0.931" stop-color="#00ff02"/><stop offset="0.966" stop-color="#01ff00"/><stop offset="1.000" stop-color="#03ff00"/></linearGradient><linearGradient id="gd92" x1="0" x2="1" y1="0" y2="0"><stop offset="0.000" stop-color="#00aaff"/><stop offset="0.034" stop-color="#00c5ff"/><stop offset="0.069" stop-color="#00ddff"/><stop offset="0.103" stop-color="#00f3ff"/><stop offset="0.138" stop-color="#00fff7"/><stop offset="0.172" stop-color="#00ffe3"/><stop offset="0.207" stop-color="#00ffd1"/><stop offset="0.241" stop-color="#00ffc0"/><stop offset="0.276" stop-color="#00ffb0"/><stop offset="0.310" stop-color="#00ffa1"/><stop offset="0.345" stop-color="#00ff93"/><stop offset="0.379" stop-color="#00ff85"/><stop offset="0.414" stop-color="#00ff78"/><stop offset="0.448" stop-color="#00ff6c"/><stop offset="0.483" stop-color="#00ff61"/><stop offset="0.517" stop-color="#00ff56"/><stop offset="0.552" stop-color="#00ff4c"/><stop offset="0.586" stop-color="#00ff43"/><stop offset="0.621" stop-color="#00ff3a"/><stop offset="0.655" stop-color="#00ff32"/><stop offset="0.690" stop-color="#00ff2a"/><stop offset="0.724" stop-color="#00ff24"/><stop offset="0.759" stop-color="#00ff1d"/><stop offset="0.793" stop-color="#00ff18"/><stop offset="0.828" stop-color="#00ff13"/><stop offset="0.862" stop-color="#00ff0f"/><stop offset="0.897" stop-color="#00ff0b"/><stop offset="0.931" stop-color="#00ff08"/><stop offset="0.966" stop-color="#00ff06"/><stop offset="1.000" stop-color="#00ff05"/></linearGradient><linearGradient id="gd93" x1="0" x2="1" y1="0" y2="0"><stop offset="0.000" stop-color="#00a9ff"/><stop offset="0.034" stop-color="#00c3ff"/><stop offset="0.069" stop-color="#00dbff"/><stop offset="0.103" stop-color="#00f1ff"/><stop offset="0.138" stop-color="#00fff8"/><stop offset="0.172" stop-color="#00ffe5"/><stop offset="0.207" stop-color="#00ffd3"/><stop offset="0.241" stop-color="#00ffc3"/><stop offset="0.276" stop-color="#00ffb3"/><stop offset="0.310" stop-color="#00ffa4"/><stop offset="0.345" stop-color="#00ff96"/><stop offset="0.379" stop-color="#00ff88"/><stop offset="0.414" stop-color="#00ff7c"/><stop offset="0.448" stop-color="#00ff70"/><stop offset="0.483" stop-color="#00ff65"/><stop offset="0.517" stop-color="#00ff5a"/><stop offset="0.552" stop-color="#00ff50"/><stop offset="0.586" stop-color="#00ff47"/><stop offset="0.621" stop-color="#00ff3e"/><stop offset="0.655" stop-color="#00ff37"/><stop offset="0.690" stop-color="#00ff2f"/><stop offset="0.724" stop-color="#00ff29"/><stop offset="0.759" stop-color="#00ff23"/><stop offset="0.793" stop-color="#00ff1d"/><stop offset="0.828" stop-color="#00ff19"/><stop offset="0.862" stop-color="#00ff15"/><stop offset="0.897" stop-color="#00ff12"/><stop offset="0.931" stop-color="#00ff0f"/><stop offset="0.966" stop-color="#00ff0e"/><stop offset="1.000" stop-color="#00ff0d"/></linearGradient><linearGradient id="gd94" x1="0" x2="1" y1="0" y2="0"><stop offset="0.000" stop-color="#00a7ff"/><stop offset="0.034" stop-color="#00c2ff"/><stop offset="0.069" stop-color="#00d9ff"/><stop offset="0.103" stop-color="#00efff"/><stop offset="0.138" stop-color="#00fffa"/><stop offset="0.172" stop-color="#00ffe7"/><stop offset="0.207" stop-color="#00ffd6"/><stop offset="0.241" stop-color="#00ffc5"/><stop offset="0.276" stop-color="#00ffb5"/><stop offset="0.310" stop-color="#00ffa6"/><stop offset="0.345" stop-color="#00ff98"/><stop offset="0.379" stop-color="#00ff8b"/><stop offset="0.414" stop-color="#00ff7f"/><stop offset="0.448" stop-color="#00ff73"/><stop offset="0.483" stop-color="#00ff68"/><stop offset="0.517" stop-color="#00ff5e"/><stop offset="0.552" stop-color="#00ff54"/><stop offset="0.586" stop-color="#00ff4b"/><stop offset="0.621" stop-color="#00ff43"/><stop offset="0.655" stop-color="#00ff3b"/><stop offset="0.690" stop-color="#00ff34"/><stop offset="0.724" stop-color="#00ff2e"/><stop offset="0.759" stop-color="#00ff28"/><stop offset="0.793" stop-color="#00ff23"/><stop offset="0.828" stop-color="#00ff1f"/><stop offset="0.862" stop-color="#00ff1b"/><stop offset="0.897" stop-color="#00ff19"/><stop offset="0.931" stop-color="#00ff17"/><stop offset="0.966" stop-color="#00ff15"/><stop offset="1.000" stop-color="#00ff15"/></linearGradient><linearGradient id="gd95" x1="0" x2="1" y1="0" y2="0"><stop offset="0.000" stop-color="#00a6ff"/><stop offset="0.034" stop-color="#00c0ff"/><stop offset="0.069" stop-color="#00d8ff"/><stop offset="0.103" stop-color="#00edff"/><stop offset="0.138" stop-color="#00fffc"/><stop offset="0.172" stop-color="#00ffea"/><stop offset="0.207" stop-color="#00ffd8"/><stop offset="0.241" stop-color="#00ffc7"/><stop offset="0.276" stop-color="#00ffb8"/><stop offset="0.310" stop-color="#00ffa9"/><stop offset="0.345" stop-color="#00ff9b"/><stop offset="0.379" stop-color="#00ff8e"/><stop offset="0.414" stop-color="#00ff82"/><stop offset="0.448" stop-color="#00ff77"/><stop offset="0.483" stop-color="#00ff6c"/><stop offset="0.517" stop-color="#00ff62"/><stop offset="0.552" stop-color="#00ff58"/><stop offset="0.586" stop-color="#00ff50"/><stop offset="0.621" stop-color="#00ff47"/><stop offset="0.655" stop-color="#00ff40"/><stop offset="0.690" stop-color="#00ff39"/><stop offset="0.724" stop-color="#00ff33"/><stop offset="0.759" stop-color="#00ff2e"/><stop offset="0.793" stop-color="#00ff29"/><stop offset="0.828" stop-color="#00ff25"/><stop offset="0.862" stop-color="#00ff22"/><stop offset="0.897" stop-color="#00ff20"/><stop offset="0.931" stop-color="#00ff1e"/><stop offset="0.966" stop-color="#00ff1d"/><stop offset="1.000" stop-color="#00ff1d"/></linearGradient><linearGradient id="gd96" x1="0" x2="1" y1="0" y2="0"><stop offset="0.000" stop-color="#00a4ff"/><stop offset="0.034" stop-color="#00beff"/><stop offset="0.069" stop-color="#00d6ff"/><stop offset="0.103" stop-color="#00ecff"/><stop offset="0.138" stop-color="#00fffe"/><stop offset="0.172" stop-color="#00ffec"/><stop offset="0.207" stop-color="#00ffda"/><stop offset="0.241" stop-color="#00ffca"/><stop offset="0.276" stop-color="#00ffba"/><stop offset="0.310" stop-color="#00ffac"/><stop offset="0.345" stop-color="#00ff9e"/><stop offset="0.379" stop-color="#00ff92"/><stop offset="0.414" stop-color="#00ff85"/><stop offset="0.448" stop-color="#00ff7a"/><stop offset="0.483" stop-color="#00ff70"/><stop offset="0.517" stop-color="#00ff66"/><stop offset="0.552" stop-color="#00ff5c"/><stop offset="0.586" stop-color="#00ff54"/><stop offset="0.621" stop-color="#00ff4c"/><stop offset="0.655" stop-color="#00ff45"/><stop offset="0.690" stop-color="#00ff3f"/><stop offset="0.724" stop-color="#00ff39"/><stop offset="0.759" stop-color="#00ff34"/><stop offset="0.793" stop-color="#00ff2f"/><stop offset="0.828" stop-color="#00ff2c"/><stop offset="0.862" stop-color="#00ff29"/><stop offset="0.897" stop-color="#00ff27"/><stop offset="0.931" stop-color="#00ff26"/><stop offset="0.966" stop-color="#00ff25"/><stop offset="1.000" stop-color="#00ff26"/></linearGradient><clipPath id="cD"><rect x="165.80" y="11.70" width="228.70" height="192.80"/></clipPath><linearGradient id="gPS" gradientUnits="userSpaceOnUse" x1="531.53" y1="-0.87" x2="613.71" y2="267.82"><stop offset="0.00" stop-color="#0000ff"/><stop offset="0.25" stop-color="#00ffff"/><stop offset="0.50" stop-color="#00ff00"/><stop offset="0.75" stop-color="#ffff00"/><stop offset="1.00" stop-color="#ff0000"/></linearGradient><linearGradient id="gEE" gradientUnits="userSpaceOnUse" x1="140.44" y1="324.01" x2="409.83" y2="370.93"><stop offset="0.00" stop-color="#0000ff"/><stop offset="0.25" stop-color="#00ffff"/><stop offset="0.50" stop-color="#00ff00"/><stop offset="0.75" stop-color="#ffff00"/><stop offset="1.00" stop-color="#ff0000"/></linearGradient><linearGradient id="gY" gradientUnits="userSpaceOnUse" x1="416.05" y1="378.28" x2="706.63" y2="319.92"><stop offset="0.00" stop-color="#0000ff"/><stop offset="0.25" stop-color="#00ffff"/><stop offset="0.50" stop-color="#00ff00"/><stop offset="0.75" stop-color="#ffff00"/><stop offset="1.00" stop-color="#ff0000"/></linearGradient><linearGradient id="leg"><stop offset="0" stop-color="#0000ff"/><stop offset="0.5" stop-color="#00ff00"/><stop offset="1" stop-color="#ff0000"/></linearGradient></defs><g clip-path="url(#cD)"><rect x="165.80" y="11" width="228.70" height="2.05" fill="url(#gd0)"/><rect x="165.80" y="13" width="228.70" height="2.05" fill="url(#gd1)"/><rect x="165.80" y="15" width="228.70" height="2.05" fill="url(#gd2)"/><rect x="165.80" y="17" width="228.70" height="2.05" fill="url(#gd3)"/><rect x="165.80" y="19" width="228.70" height="2.05" fill="url(#gd4)"/><rect x="165.80" y="21" width="228.70" height="2.05" fill="url(#gd5)"/><rect x="165.80" y="23" width="228.70" height="2.05" fill="url(#gd6)"/><rect x="165.80" y="25" width="228.70" height="2.05" fill="url(#gd7)"/><rect x="165.80" y="27" width="228.70" height="2.05" fill="url(#gd8)"/><rect x="165.80" y="29" width="228.70" height="2.05" fill="url(#gd9)"/><rect x="165.80" y="31" width="228.70" height="2.05" fill="url(#gd10)"/><rect x="165.80" y="33" width="228.70" height="2.05" fill="url(#gd11)"/><rect x="165.80" y="35" width="228.70" height="2.05" fill="url(#gd12)"/><rect x="165.80" y="37" width="228.70" height="2.05" fill="url(#gd13)"/><rect x="165.80" y="39" width="228.70" height="2.05" fill="url(#gd14)"/><rect x="165.80" y="41" width="228.70" height="2.05" fill="url(#gd15)"/><rect x="165.80" y="43" width="228.70" height="2.05" fill="url(#gd16)"/><rect x="165.80" y="45" width="228.70" height="2.05" fill="url(#gd17)"/><rect x="165.80" y="47" width="228.70" height="2.05" fill="url(#gd18)"/><rect x="165.80" y="49" width="228.70" height="2.05" fill="url(#gd19)"/><rect x="165.80" y="51" width="228.70" height="2.05" fill="url(#gd20)"/><rect x="165.80" y="53" width="228.70" height="2.05" fill="url(#gd21)"/><rect x="165.80" y="55" width="228.70" height="2.05" fill="url(#gd22)"/><rect x="165.80" y="57" width="228.70" height="2.05" fill="url(#gd23)"/><rect x="165.80" y="59" width="228.70" height="2.05" fill="url(#gd24)"/><rect x="165.80" y="61" width="228.70" height="2.05" fill="url(#gd25)"/><rect x="165.80" y="63" width="228.70" height="2.05" fill="url(#gd26)"/><rect x="165.80" y="65" width="228.70" height="2.05" fill="url(#gd27)"/><rect x="165.80" y="67" width="228.70" height="2.05" fill="url(#gd28)"/><rect x="165.80" y="69" width="228.70" height="2.05" fill="url(#gd29)"/><rect x="165.80" y="71" width="228.70" height="2.05" fill="url(#gd30)"/><rect x="165.80" y="73" width="228.70" height="2.05" fill="url(#gd31)"/><rect x="165.80" y="75" width="228.70" height="2.05" fill="url(#gd32)"/><rect x="165.80" y="77" width="228.70" height="2.05" fill="url(#gd33)"/><rect x="165.80" y="79" width="228.70" height="2.05" fill="url(#gd34)"/><rect x="165.80" y="81" width="228.70" height="2.05" fill="url(#gd35)"/><rect x="165.80" y="83" width="228.70" height="2.05" fill="url(#gd36)"/><rect x="165.80" y="85" width="228.70" height="2.05" fill="url(#gd37)"/><rect x="165.80" y="87" width="228.70" height="2.05" fill="url(#gd38)"/><rect x="165.80" y="89" width="228.70" height="2.05" fill="url(#gd39)"/><rect x="165.80" y="91" width="228.70" height="2.05" fill="url(#gd40)"/><rect x="165.80" y="93" width="228.70" height="2.05" fill="url(#gd41)"/><rect x="165.80" y="95" width="228.70" height="2.05" fill="url(#gd42)"/><rect x="165.80" y="97" width="228.70" height="2.05" fill="url(#gd43)"/><rect x="165.80" y="99" width="228.70" height="2.05" fill="url(#gd44)"/><rect x="165.80" y="101" width="228.70" height="2.05" fill="url(#gd45)"/><rect x="165.80" y="103" width="228.70" height="2.05" fill="url(#gd46)"/><rect x="165.80" y="105" width="228.70" height="2.05" fill="url(#gd47)"/><rect x="165.80" y="107" width="228.70" height="2.05" fill="url(#gd48)"/><rect x="165.80" y="109" width="228.70" height="2.05" fill="url(#gd49)"/><rect x="165.80" y="111" width="228.70" height="2.05" fill="url(#gd50)"/><rect x="165.80" y="113" width="228.70" height="2.05" fill="url(#gd51)"/><rect x="165.80" y="115" width="228.70" height="2.05" fill="url(#gd52)"/><rect x="165.80" y="117" width="228.70" height="2.05" fill="url(#gd53)"/><rect x="165.80" y="119" width="228.70" height="2.05" fill="url(#gd54)"/><rect x="165.80" y="121" width="228.70" height="2.05" fill="url(#gd55)"/><rect x="165.80" y="123" width="228.70" height="2.05" fill="url(#gd56)"/><rect x="165.80" y="125" width="228.70" height="2.05" fill="url(#gd57)"/><rect x="165.80" y="127" width="228.70" height="2.05" fill="url(#gd58)"/><rect x="165.80" y="129" width="228.70" height="2.05" fill="url(#gd59)"/><rect x="165.80" y="131" width="228.70" height="2.05" fill="url(#gd60)"/><rect x="165.80" y="133" width="228.70" height="2.05" fill="url(#gd61)"/><rect x="165.80" y="135" width="228.70" height="2.05" fill="url(#gd62)"/><rect x="165.80" y="137" width="228.70" height="2.05" fill="url(#gd63)"/><rect x="165.80" y="139" width="228.70" height="2.05" fill="url(#gd64)"/><rect x="165.80" y="141" width="228.70" height="2.05" fill="url(#gd65)"/><rect x="165.80" y="143" width="228.70" height="2.05" fill="url(#gd66)"/><rect x="165.80" y="145" width="228.70" height="2.05" fill="url(#gd67)"/><rect x="165.80" y="147" width="228.70" height="2.05" fill="url(#gd68)"/><rect x="165.80" y="149" width="228.70" height="2.05" fill="url(#gd69)"/><rect x="165.80" y="151" width="228.70" height="2.05" fill="url(#gd70)"/><rect x="165.80" y="153" width="228.70" height="2.05" fill="url(#gd71)"/><rect x="165.80" y="155" width="228.70" height="2.05" fill="url(#gd72)"/><rect x="165.80" y="157" width="228.70" height="2.05" fill="url(#gd73)"/><rect x="165.80" y="159" width="228.70" height="2.05" fill="url(#gd74)"/><rect x="165.80" y="161" width="228.70" height="2.05" fill="url(#gd75)"/><rect x="165.80" y="163" width="228.70" height="2.05" fill="url(#gd76)"/><rect x="165.80" y="165" width="228.70" height="2.05" fill="url(#gd77)"/><rect x="165.80" y="167" width="228.70" height="2.05" fill="url(#gd78)"/><rect x="165.80" y="169" width="228.70" height="2.05" fill="url(#gd79)"/><rect x="165.80" y="171" width="228.70" height="2.05" fill="url(#gd80)"/><rect x="165.80" y="173" width="228.70" height="2.05" fill="url(#gd81)"/><rect x="165.80" y="175" width="228.70" height="2.05" fill="url(#gd82)"/><rect x="165.80" y="177" width="228.70" height="2.05" fill="url(#gd83)"/><rect x="165.80" y="179" width="228.70" height="2.05" fill="url(#gd84)"/><rect x="165.80" y="181" width="228.70" height="2.05" fill="url(#gd85)"/><rect x="165.80" y="183" width="228.70" height="2.05" fill="url(#gd86)"/><rect x="165.80" y="185" width="228.70" height="2.05" fill="url(#gd87)"/><rect x="165.80" y="187" width="228.70" height="2.05" fill="url(#gd88)"/><rect x="165.80" y="189" width="228.70" height="2.05" fill="url(#gd89)"/><rect x="165.80" y="191" width="228.70" height="2.05" fill="url(#gd90)"/><rect x="165.80" y="193" width="228.70" height="2.05" fill="url(#gd91)"/><rect x="165.80" y="195" width="228.70" height="2.05" fill="url(#gd92)"/><rect x="165.80" y="197" width="228.70" height="2.05" fill="url(#gd93)"/><rect x="165.80" y="199" width="228.70" height="2.05" fill="url(#gd94)"/><rect x="165.80" y="201" width="228.70" height="2.05" fill="url(#gd95)"/><rect x="165.80" y="203" width="228.70" height="2.05" fill="url(#gd96)"/></g><rect x="450.20" y="11.60" width="229.25" height="192.80" fill="url(#gPS)"/><rect x="165.80" y="251.90" width="228.80" height="192.90" fill="url(#gEE)"/><rect x="450.20" y="252.00" width="229.25" height="192.80" fill="url(#gY)"/><path d="M165.8 136.6 L166.2 140.2 L166.6 143.6 L167.0 147.0 L167.5 150.9 L168.0 154.2 L168.4 157.6 L169.0 161.0 L169.5 164.4 L170.1 167.8 L170.7 171.2 L171.3 174.5 L171.9 177.9 L172.6 181.3 L173.3 184.3 L174.0 187.6 L174.8 191.0 L175.5 194.2 L176.3 197.3 L177.2 200.6 L178.0 203.5 L178.3 204.5 M166.4 11.7 L166.1 15.1 L165.8 18.9 L165.8 19.0 M209.0 11.7 L209.3 15.6 L209.6 18.9 L209.9 22.3 L210.3 26.2 L210.7 29.6 L211.1 33.4 L211.5 36.8 L211.9 40.2 L212.3 43.6 L212.8 47.5 L213.3 50.8 L213.7 54.2 L214.2 57.6 L214.8 61.0 L215.3 64.4 L215.9 67.8 L216.5 71.1 L217.1 74.5 L217.7 77.9 L218.4 81.3 L219.1 84.7 L219.7 87.6 L220.4 90.9 L221.2 94.3 L222.0 97.6 L222.7 100.6 L223.6 104.0 L224.3 106.9 L225.3 110.3 L226.1 113.2 L227.1 116.6 L227.9 119.5 L228.9 122.4 L230.0 125.7 L231.0 128.6 L232.0 131.5 L233.0 134.4 L234.1 137.3 L235.3 140.2 L236.5 143.1 L237.7 146.0 L239.0 148.9 L240.3 151.8 L241.5 154.2 L242.9 157.1 L244.3 159.8 L245.8 162.5 L247.2 164.9 L248.9 167.8 L250.4 170.2 L252.0 172.6 L253.6 175.0 L255.4 177.4 L257.2 179.9 L259.1 182.3 L260.9 184.4 L262.9 186.6 L265.0 188.8 L267.1 191.0 L269.1 192.9 L271.3 194.8 L273.6 196.8 L276.0 198.7 L278.7 200.6 L281.0 202.2 L283.9 204.0 L284.7 204.5 M274.5 11.7 L275.3 14.6 L276.3 18.0 L277.1 20.9 L278.1 24.3 L278.9 27.2 L279.9 30.1 L280.9 33.4 L281.9 36.3 L282.8 39.2 L283.9 42.3 L285.0 45.5 L286.1 48.4 L287.2 51.3 L288.3 54.2 L289.4 57.1 L290.6 60.0 L291.9 62.9 L293.0 65.7 L294.2 68.3 L295.5 71.1 L296.9 74.0 L298.2 76.7 L299.5 79.3 L301.0 82.2 L302.3 84.7 L303.9 87.6 L305.3 90.0 L306.8 92.6 L308.4 95.3 L310.0 97.7 L311.5 100.1 L313.1 102.5 L314.8 105.0 L316.5 107.4 L318.3 109.8 L320.2 112.2 L322.1 114.6 L324.0 116.9 L325.8 119.0 L327.9 121.4 L329.7 123.3 L332.0 125.7 L334.0 127.7 L336.0 129.6 L338.3 131.7 L340.6 133.7 L342.9 135.7 L345.2 137.5 L347.5 139.3 L350.2 141.2 L352.7 142.9 L355.1 144.6 L357.8 146.3 L360.6 148.0 L363.2 149.4 L365.9 150.9 L368.7 152.3 L371.8 153.8 L375.0 155.2 L377.9 156.4 L380.9 157.6 L384.2 158.9 L387.6 160.0 L390.6 161.0 L393.9 162.0 L394.5 162.2 M362.3 11.7 L363.7 14.1 L365.3 16.9 L366.8 19.4 L368.3 21.8 L369.9 24.4 L371.6 27.1 L373.2 29.6 L374.8 32.0 L376.5 34.4 L378.2 36.8 L380.0 39.2 L381.8 41.7 L383.6 44.0 L385.3 46.2 L387.1 48.4 L389.1 50.8 L391.1 53.1 L392.9 55.2 L394.5 56.9" fill="none" stroke="#000" stroke-opacity="0.72" stroke-width="1.35"/><path d="M640.5 11.6 L637.3 12.6 L634.1 13.6 L630.6 14.6 L627.2 15.7 L623.7 16.7 L620.3 17.8 L616.8 18.8 L613.6 19.8 L610.4 20.8 L607.1 21.8 L603.6 22.9 L600.2 23.9 L596.7 25.0 L593.3 26.0 L589.9 27.1 L586.7 28.0 L583.5 29.0 L580.1 30.1 L576.6 31.1 L573.2 32.2 L569.7 33.2 L566.3 34.3 L563.0 35.3 L559.9 36.2 L556.5 37.3 L553.0 38.3 L549.6 39.4 L546.2 40.4 L542.7 41.5 L539.4 42.5 L536.2 43.5 L532.9 44.5 L529.5 45.5 L526.0 46.6 L522.6 47.7 L519.1 48.7 L515.7 49.8 L512.5 50.7 L509.3 51.7 L505.9 52.7 L502.5 53.8 L499.0 54.9 L495.6 55.9 L492.1 57.0 L488.8 58.0 L485.6 59.0 L482.4 60.0 L478.9 61.0 L475.5 62.1 L472.0 63.1 L468.6 64.2 L465.1 65.2 L461.9 66.2 L458.8 67.2 L455.4 68.2 L451.9 69.3 L450.2 69.8 M679.5 95.1 L676.0 96.1 L672.7 97.1 L669.6 98.1 L666.2 99.1 L662.8 100.2 L659.3 101.2 L655.9 102.3 L652.4 103.3 L649.0 104.4 L645.9 105.3 L642.7 106.3 L639.2 107.4 L635.8 108.4 L632.3 109.5 L628.9 110.5 L625.4 111.6 L622.2 112.6 L619.0 113.6 L615.7 114.6 L612.2 115.6 L608.8 116.7 L605.3 117.7 L601.9 118.8 L598.5 119.8 L595.3 120.8 L592.1 121.8 L588.7 122.8 L585.2 123.9 L581.8 124.9 L578.3 126.0 L574.9 127.1 L571.6 128.1 L568.5 129.0 L565.1 130.0 L561.7 131.1 L558.2 132.2 L554.8 133.2 L551.3 134.3 L547.9 135.3 L544.8 136.3 L541.6 137.2 L538.1 138.3 L534.7 139.4 L531.2 140.4 L527.8 141.5 L524.3 142.5 L521.1 143.5 L517.9 144.5 L514.6 145.5 L511.1 146.6 L507.7 147.6 L504.2 148.7 L500.8 149.7 L497.4 150.8 L494.2 151.7 L491.0 152.7 L487.5 153.8 L484.1 154.8 L480.7 155.9 L477.2 156.9 L473.8 158.0 L470.5 159.0 L467.4 159.9 L464.0 161.0 L460.5 162.0 L457.1 163.1 L453.6 164.1 L450.2 165.2 L450.2 165.2 M679.5 190.5 L676.0 191.5 L672.6 192.6 L669.1 193.6 L665.7 194.7 L662.3 195.7 L659.2 196.7 L655.9 197.7 L652.4 198.7 L649.0 199.8 L645.6 200.8 L642.1 201.9 L638.7 202.9 L635.5 203.9 L633.9 204.4" fill="none" stroke="#000" stroke-opacity="0.72" stroke-width="1.35"/><path d="M177.9 251.9 L177.3 255.3 L176.7 258.7 L176.1 262.1 L175.5 265.4 L175.0 268.7 L174.4 272.0 L173.8 275.3 L173.3 278.6 L172.7 281.9 L172.1 285.3 L171.5 288.6 L170.9 292.0 L170.3 295.4 L169.7 298.8 L169.1 302.2 L168.6 305.6 L168.0 308.9 L167.4 312.3 L166.8 315.7 L166.2 319.1 L165.8 321.4 M221.2 251.9 L220.6 255.3 L220.0 258.7 L219.4 262.1 L218.8 265.4 L218.3 268.8 L217.7 272.2 L217.1 275.6 L216.5 279.0 L215.9 282.4 L215.3 285.7 L214.7 289.1 L214.1 292.5 L213.5 295.9 L213.0 299.3 L212.4 302.7 L211.8 306.0 L211.2 309.4 L210.6 312.8 L210.0 316.2 L209.4 319.6 L208.8 323.0 L208.2 326.4 L207.7 329.6 L207.1 332.9 L206.5 336.2 L205.9 339.5 L205.4 342.8 L204.8 346.2 L204.2 349.6 L203.6 352.9 L203.0 356.3 L202.4 359.7 L201.8 363.1 L201.2 366.5 L200.7 369.9 L200.1 373.2 L199.5 376.6 L198.9 380.0 L198.3 383.4 L197.7 386.8 L197.1 390.2 L196.5 393.6 L195.9 396.9 L195.3 400.3 L194.8 403.7 L194.2 407.1 L193.6 410.5 L193.0 413.9 L192.4 417.2 L191.8 420.6 L191.2 424.0 L190.6 427.4 L190.0 430.8 L189.5 434.2 L188.9 437.5 L188.3 440.9 L187.7 444.3 L187.6 444.8 M264.5 251.9 L263.9 255.3 L263.3 258.7 L262.7 262.1 L262.1 265.4 L261.6 268.8 L261.0 272.1 L260.4 275.4 L259.8 278.7 L259.3 281.9 L258.7 285.3 L258.1 288.6 L257.5 292.0 L256.9 295.4 L256.3 298.8 L255.7 302.2 L255.2 305.6 L254.6 308.9 L254.0 312.3 L253.4 315.7 L252.8 319.1 L252.2 322.5 L251.6 325.9 L251.0 329.3 L250.4 332.6 L249.9 336.0 L249.3 339.4 L248.7 342.8 L248.1 346.2 L247.5 349.6 L246.9 352.9 L246.3 356.3 L245.7 359.7 L245.1 363.1 L244.5 366.5 L244.0 369.9 L243.4 373.2 L242.8 376.6 L242.2 380.0 L241.6 383.4 L241.0 386.8 L240.4 390.2 L239.8 393.6 L239.2 396.9 L238.6 400.3 L238.1 403.7 L237.5 407.0 L236.9 410.3 L236.3 413.6 L235.8 416.9 L235.2 420.2 L234.6 423.5 L234.0 426.9 L233.4 430.3 L232.8 433.7 L232.2 437.1 L231.7 440.4 L231.1 443.8 L230.9 444.8 M307.8 251.9 L307.2 255.3 L306.6 258.7 L306.0 262.1 L305.4 265.4 L304.9 268.8 L304.3 272.2 L303.7 275.6 L303.1 279.0 L302.5 282.4 L301.9 285.7 L301.3 289.1 L300.7 292.5 L300.1 295.9 L299.6 299.3 L299.0 302.7 L298.4 306.0 L297.8 309.4 L297.2 312.8 L296.6 316.2 L296.0 319.6 L295.4 323.0 L294.8 326.4 L294.2 329.7 L293.7 333.0 L293.1 336.3 L292.5 339.6 L292.0 342.9 L291.4 346.2 L290.8 349.6 L290.2 352.9 L289.6 356.3 L289.0 359.7 L288.4 363.1 L287.8 366.5 L287.3 369.9 L286.7 373.2 L286.1 376.6 L285.5 380.0 L284.9 383.4 L284.3 386.8 L283.7 390.2 L283.1 393.6 L282.5 396.9 L282.0 400.3 L281.4 403.7 L280.8 407.1 L280.2 410.5 L279.6 413.9 L279.0 417.2 L278.4 420.6 L277.8 424.0 L277.2 427.4 L276.6 430.8 L276.1 434.2 L275.5 437.5 L274.9 440.9 L274.3 444.3 L274.2 444.8 M351.1 251.9 L350.5 255.3 L349.9 258.7 L349.3 262.1 L348.7 265.4 L348.2 268.8 L347.6 272.1 L347.0 275.4 L346.4 278.7 L345.9 282.0 L345.3 285.3 L344.7 288.6 L344.1 292.0 L343.5 295.4 L342.9 298.8 L342.3 302.2 L341.8 305.6 L341.2 308.9 L340.6 312.3 L340.0 315.7 L339.4 319.1 L338.8 322.5 L338.2 325.9 L337.6 329.3 L337.0 332.6 L336.5 336.0 L335.9 339.4 L335.3 342.8 L334.7 346.2 L334.1 349.6 L333.5 352.9 L332.9 356.3 L332.3 359.7 L331.7 363.1 L331.1 366.5 L330.6 369.9 L330.0 373.2 L329.4 376.6 L328.8 380.0 L328.2 383.4 L327.6 386.8 L327.0 390.2 L326.4 393.6 L325.8 396.9 L325.3 400.3 L324.7 403.7 L324.1 407.1 L323.5 410.4 L322.9 413.7 L322.3 417.0 L321.8 420.3 L321.2 423.6 L320.6 426.9 L320.0 430.3 L319.4 433.7 L318.9 437.1 L318.3 440.4 L317.7 443.8 L317.5 444.8 M394.4 251.9 L393.8 255.3 L393.2 258.7 L392.6 262.1 L392.0 265.4 L391.5 268.8 L390.9 272.2 L390.3 275.6 L389.7 279.0 L389.1 282.4 L388.5 285.7 L387.9 289.1 L387.3 292.5 L386.7 295.9 L386.2 299.3 L385.6 302.7 L385.0 306.0 L384.4 309.4 L383.8 312.8 L383.2 316.2 L382.6 319.6 L382.0 323.0 L381.4 326.4 L380.8 329.7 L380.3 333.1 L379.7 336.4 L379.1 339.7 L378.5 343.0 L378.0 346.2 L377.4 349.6 L376.8 352.9 L376.2 356.3 L375.6 359.7 L375.0 363.1 L374.4 366.5 L373.9 369.9 L373.3 373.2 L372.7 376.6 L372.1 380.0 L371.5 383.4 L370.9 386.8 L370.3 390.2 L369.7 393.6 L369.1 396.9 L368.6 400.3 L368.0 403.7 L367.4 407.1 L366.8 410.5 L366.2 413.9 L365.6 417.2 L365.0 420.6 L364.4 424.0 L363.8 427.4 L363.2 430.8 L362.7 434.2 L362.1 437.5 L361.5 440.9 L360.9 444.3 L360.8 444.8" fill="none" stroke="#000" stroke-opacity="0.72" stroke-width="1.35"/><path d="M450.2 263.4 L450.8 266.5 L451.5 269.9 L452.2 273.3 L452.9 276.6 L453.5 280.0 L454.2 283.4 L454.8 286.3 L455.5 289.7 L456.2 293.1 L456.8 296.5 L457.5 299.8 L458.2 303.2 L458.8 306.3 L459.5 309.5 L460.1 312.9 L460.8 316.3 L461.5 319.6 L462.2 323.0 L462.8 326.3 L463.4 329.3 L464.1 332.7 L464.8 336.1 L465.5 339.5 L466.2 342.8 L466.8 346.2 L467.4 349.2 L468.1 352.5 L468.8 355.9 L469.5 359.3 L470.1 362.7 L470.8 366.0 L471.5 369.3 L472.1 372.3 L472.8 375.7 L473.4 379.1 L474.1 382.5 L474.8 385.8 L475.5 389.2 L476.1 392.1 L476.7 395.5 L477.4 398.9 L478.1 402.3 L478.8 405.7 L479.4 409.0 L480.1 412.2 L480.7 415.3 L481.4 418.7 L482.1 422.1 L482.7 425.5 L483.4 428.9 L484.1 432.2 L484.7 435.1 L485.4 438.5 L486.0 441.9 L486.6 444.8 M486.1 252.0 L486.7 255.4 L487.4 258.8 L488.1 262.1 L488.7 265.1 L489.4 268.4 L490.0 271.8 L490.7 275.2 L491.4 278.6 L492.1 282.0 L492.7 285.2 L493.3 288.2 L494.0 291.6 L494.7 295.0 L495.4 298.4 L496.1 301.8 L496.7 305.2 L497.3 308.1 L498.0 311.4 L498.7 314.8 L499.3 318.2 L500.0 321.6 L500.7 325.0 L501.3 328.1 L502.0 331.2 L502.6 334.6 L503.3 338.0 L504.0 341.4 L504.7 344.8 L505.4 348.1 L505.9 351.1 L506.6 354.4 L507.3 357.8 L508.0 361.2 L508.7 364.6 L509.3 368.0 L510.0 371.0 L510.6 374.3 L511.3 377.6 L512.0 381.0 L512.6 384.4 L513.3 387.8 L514.0 391.0 L514.6 394.1 L515.3 397.4 L515.9 400.8 L516.6 404.2 L517.3 407.6 L518.0 411.0 L518.6 413.9 L519.2 417.3 L519.9 420.6 L520.6 424.0 L521.3 427.4 L522.0 430.8 L522.6 434.0 L523.2 437.1 L523.9 440.5 L524.6 443.8 L524.8 444.8 M524.2 252.0 L524.9 255.4 L525.5 258.3 L526.1 261.7 L526.8 265.0 L527.5 268.4 L528.2 271.8 L528.9 275.2 L529.5 278.3 L530.1 281.5 L530.8 284.9 L531.5 288.2 L532.2 291.6 L532.8 295.0 L533.5 298.4 L534.1 301.3 L534.8 304.7 L535.5 308.1 L536.1 311.4 L536.8 314.8 L537.5 318.2 L538.1 321.3 L538.8 324.5 L539.4 327.9 L540.1 331.2 L540.8 334.6 L541.5 338.0 L542.1 341.3 L542.7 344.3 L543.4 347.7 L544.1 351.1 L544.8 354.4 L545.5 357.8 L546.1 361.2 L546.7 364.2 L547.4 367.5 L548.1 370.9 L548.8 374.3 L549.4 377.6 L550.1 381.0 L550.7 384.2 L551.4 387.3 L552.0 390.7 L552.7 394.1 L553.4 397.4 L554.1 400.8 L554.8 404.2 L555.3 407.1 L556.0 410.5 L556.7 413.9 L557.4 417.3 L558.1 420.6 L558.7 424.0 L559.4 427.1 L560.0 430.3 L560.7 433.7 L561.4 437.1 L562.0 440.5 L562.7 443.8 L562.9 444.8 M562.3 252.0 L563.0 255.4 L563.7 258.8 L564.4 262.1 L565.1 265.5 L565.7 268.6 L566.3 271.8 L567.0 275.2 L567.7 278.6 L568.4 282.0 L569.0 285.3 L569.7 288.7 L570.3 291.6 L571.0 295.0 L571.7 298.4 L572.3 301.8 L573.0 305.2 L573.7 308.5 L574.3 311.6 L575.0 314.8 L575.6 318.2 L576.3 321.6 L577.0 325.0 L577.7 328.3 L578.3 331.6 L578.9 334.6 L579.6 338.0 L580.3 341.4 L581.0 344.8 L581.7 348.2 L582.3 351.5 L582.9 354.5 L583.6 357.8 L584.3 361.2 L585.0 364.6 L585.6 368.0 L586.3 371.4 L586.9 374.5 L587.6 377.6 L588.3 381.0 L588.9 384.4 L589.6 387.8 L590.3 391.2 L591.0 394.5 L591.6 397.4 L592.2 400.8 L592.9 404.2 L593.6 407.6 L594.3 411.0 L594.9 414.4 L595.6 417.4 L596.2 420.6 L596.9 424.0 L597.6 427.4 L598.2 430.8 L598.9 434.2 L599.6 437.4 L600.2 440.5 L600.9 443.8 L601.1 444.8 M600.5 252.0 L601.2 255.4 L601.8 258.8 L602.5 261.8 L603.1 265.0 L603.8 268.4 L604.5 271.8 L605.1 275.2 L605.8 278.6 L606.5 281.8 L607.1 284.9 L607.8 288.2 L608.4 291.6 L609.1 295.0 L609.8 298.4 L610.5 301.8 L611.1 304.7 L611.7 308.1 L612.4 311.4 L613.1 314.8 L613.8 318.2 L614.5 321.6 L615.1 324.7 L615.7 327.9 L616.4 331.2 L617.1 334.6 L617.8 338.0 L618.4 341.4 L619.1 344.8 L619.8 348.2 L620.5 351.5 L621.2 354.9 L621.8 358.3 L622.5 361.7 L623.1 364.8 L623.8 368.0 L624.5 371.4 L625.1 374.7 L625.8 378.1 L626.5 381.5 L627.2 384.8 L627.8 387.8 L628.4 391.2 L629.1 394.5 L629.8 397.9 L630.5 401.3 L631.2 404.7 L631.8 407.7 L632.4 411.0 L633.1 414.4 L633.8 417.7 L634.5 421.1 L635.1 424.5 L635.8 427.7 L636.4 430.8 L637.1 434.2 L637.8 437.6 L638.4 440.9 L639.1 444.3 L639.2 444.8 M638.6 252.0 L639.2 255.0 L639.9 258.3 L640.6 261.7 L641.3 265.0 L641.9 268.4 L642.6 271.8 L643.3 275.0 L643.9 278.1 L644.6 281.5 L645.2 284.9 L645.9 288.2 L646.6 291.6 L647.3 295.0 L647.9 297.9 L648.5 301.3 L649.2 304.7 L649.9 308.1 L650.6 311.4 L651.2 314.8 L651.9 317.9 L652.5 321.1 L653.2 324.5 L653.9 327.9 L654.5 331.2 L655.2 334.6 L655.9 337.9 L656.5 340.9 L657.2 344.3 L657.8 347.7 L658.5 351.1 L659.2 354.4 L659.9 357.8 L660.5 360.8 L661.1 364.1 L661.8 367.5 L662.5 370.9 L663.2 374.3 L663.9 377.6 L664.5 380.9 L665.1 383.9 L665.8 387.3 L666.5 390.7 L667.2 394.1 L667.8 397.4 L668.5 400.8 L669.1 403.7 L669.8 407.1 L670.5 410.5 L671.1 413.9 L671.8 417.3 L672.5 420.6 L673.1 423.8 L673.8 426.9 L674.4 430.3 L675.1 433.7 L675.8 437.1 L676.5 440.5 L677.2 443.8 L677.4 444.8" fill="none" stroke="#000" stroke-opacity="0.72" stroke-width="1.35"/><text x="165.80" y="216.90" font-size="6.1" text-anchor="middle" fill="#333">400</text><text x="159.30" y="206.10" font-size="6.1" text-anchor="end" fill="#333">600</text><text x="222.98" y="216.90" font-size="6.1" text-anchor="middle" fill="#333">500</text><text x="159.30" y="157.90" font-size="6.1" text-anchor="end" fill="#333">800</text><text x="280.15" y="216.90" font-size="6.1" text-anchor="middle" fill="#333">600</text><text x="159.30" y="109.70" font-size="6.1" text-anchor="end" fill="#333">1000</text><text x="337.32" y="216.90" font-size="6.1" text-anchor="middle" fill="#333">700</text><text x="159.30" y="61.50" font-size="6.1" text-anchor="end" fill="#333">1200</text><text x="394.50" y="216.90" font-size="6.1" text-anchor="middle" fill="#333">800</text><text x="159.30" y="13.30" font-size="6.1" text-anchor="end" fill="#333">1400</text><path d="M165.80 204.50 V209.30 M160.10 204.50 H165.80 M222.98 204.50 V209.30 M160.10 156.30 H165.80 M280.15 204.50 V209.30 M160.10 108.10 H165.80 M337.32 204.50 V209.30 M160.10 59.90 H165.80 M394.50 204.50 V209.30 M160.10 11.70 H165.80" stroke="#3a3a3a" stroke-width="1" fill="none"/><rect x="165.80" y="11.70" width="228.70" height="192.80" fill="none" stroke="#505050" stroke-width="1.3"/><text x="280.20" y="7.50" font-size="9.3" text-anchor="middle" fill="#333" textLength="46.7" lengthAdjust="spacingAndGlyphs">Desirability</text><text x="280.15" y="231.00" font-size="7.1" text-anchor="middle" fill="#333">A: Polymer Conc (mg)</text><text transform="translate(131.30 108.10) rotate(-90)" font-size="7.0" text-anchor="middle" fill="#333">B: Stiring speed (rpm)</text><text x="450.20" y="216.80" font-size="6.1" text-anchor="middle" fill="#333">400</text><text x="443.70" y="206.00" font-size="6.1" text-anchor="end" fill="#333">600</text><text x="507.51" y="216.80" font-size="6.1" text-anchor="middle" fill="#333">500</text><text x="443.70" y="157.80" font-size="6.1" text-anchor="end" fill="#333">800</text><text x="564.83" y="216.80" font-size="6.1" text-anchor="middle" fill="#333">600</text><text x="443.70" y="109.60" font-size="6.1" text-anchor="end" fill="#333">1000</text><text x="622.14" y="216.80" font-size="6.1" text-anchor="middle" fill="#333">700</text><text x="443.70" y="61.40" font-size="6.1" text-anchor="end" fill="#333">1200</text><text x="679.45" y="216.80" font-size="6.1" text-anchor="middle" fill="#333">800</text><text x="443.70" y="13.20" font-size="6.1" text-anchor="end" fill="#333">1400</text><path d="M450.20 204.40 V209.20 M444.50 204.40 H450.20 M507.51 204.40 V209.20 M444.50 156.20 H450.20 M564.83 204.40 V209.20 M444.50 108.00 H450.20 M622.14 204.40 V209.20 M444.50 59.80 H450.20 M679.45 204.40 V209.20 M444.50 11.60 H450.20" stroke="#3a3a3a" stroke-width="1" fill="none"/><rect x="450.20" y="11.60" width="229.25" height="192.80" fill="none" stroke="#505050" stroke-width="1.3"/><text x="564.55" y="7.40" font-size="9.3" text-anchor="middle" fill="#333" textLength="72.2" lengthAdjust="spacingAndGlyphs">Particle Size (nm)</text><text x="564.83" y="230.90" font-size="7.1" text-anchor="middle" fill="#333">A: Polymer Conc (mg)</text><text transform="translate(415.70 108.00) rotate(-90)" font-size="7.0" text-anchor="middle" fill="#333">B: Stiring speed (rpm)</text><text x="165.80" y="457.20" font-size="6.1" text-anchor="middle" fill="#333">400</text><text x="159.30" y="446.40" font-size="6.1" text-anchor="end" fill="#333">600</text><text x="223.00" y="457.20" font-size="6.1" text-anchor="middle" fill="#333">500</text><text x="159.30" y="398.18" font-size="6.1" text-anchor="end" fill="#333">800</text><text x="280.20" y="457.20" font-size="6.1" text-anchor="middle" fill="#333">600</text><text x="159.30" y="349.95" font-size="6.1" text-anchor="end" fill="#333">1000</text><text x="337.40" y="457.20" font-size="6.1" text-anchor="middle" fill="#333">700</text><text x="159.30" y="301.73" font-size="6.1" text-anchor="end" fill="#333">1200</text><text x="394.60" y="457.20" font-size="6.1" text-anchor="middle" fill="#333">800</text><text x="159.30" y="253.50" font-size="6.1" text-anchor="end" fill="#333">1400</text><path d="M165.80 444.80 V449.60 M160.10 444.80 H165.80 M223.00 444.80 V449.60 M160.10 396.57 H165.80 M280.20 444.80 V449.60 M160.10 348.35 H165.80 M337.40 444.80 V449.60 M160.10 300.12 H165.80 M394.60 444.80 V449.60 M160.10 251.90 H165.80" stroke="#3a3a3a" stroke-width="1" fill="none"/><rect x="165.80" y="251.90" width="228.80" height="192.90" fill="none" stroke="#505050" stroke-width="1.3"/><text x="279.45" y="247.70" font-size="9.3" text-anchor="middle" fill="#333" textLength="115.4" lengthAdjust="spacingAndGlyphs">Entrapment Efficeiency&#160; (%)</text><text x="280.20" y="471.30" font-size="7.1" text-anchor="middle" fill="#333">A: Polymer Conc (mg)</text><text transform="translate(131.30 348.35) rotate(-90)" font-size="7.0" text-anchor="middle" fill="#333">B: Stiring speed (rpm)</text><text x="450.20" y="457.20" font-size="6.1" text-anchor="middle" fill="#333">400</text><text x="443.70" y="446.40" font-size="6.1" text-anchor="end" fill="#333">600</text><text x="507.51" y="457.20" font-size="6.1" text-anchor="middle" fill="#333">500</text><text x="443.70" y="398.20" font-size="6.1" text-anchor="end" fill="#333">800</text><text x="564.83" y="457.20" font-size="6.1" text-anchor="middle" fill="#333">600</text><text x="443.70" y="350.00" font-size="6.1" text-anchor="end" fill="#333">1000</text><text x="622.14" y="457.20" font-size="6.1" text-anchor="middle" fill="#333">700</text><text x="443.70" y="301.80" font-size="6.1" text-anchor="end" fill="#333">1200</text><text x="679.45" y="457.20" font-size="6.1" text-anchor="middle" fill="#333">800</text><text x="443.70" y="253.60" font-size="6.1" text-anchor="end" fill="#333">1400</text><path d="M450.20 444.80 V449.60 M444.50 444.80 H450.20 M507.51 444.80 V449.60 M444.50 396.60 H450.20 M564.83 444.80 V449.60 M444.50 348.40 H450.20 M622.14 444.80 V449.60 M444.50 300.20 H450.20 M679.45 444.80 V449.60 M444.50 252.00 H450.20" stroke="#3a3a3a" stroke-width="1" fill="none"/><rect x="450.20" y="252.00" width="229.25" height="192.80" fill="none" stroke="#505050" stroke-width="1.3"/><text x="564.65" y="247.80" font-size="9.3" text-anchor="middle" fill="#333" textLength="85.6" lengthAdjust="spacingAndGlyphs">Production yield (%)</text><text x="564.83" y="471.30" font-size="7.1" text-anchor="middle" fill="#333">A: Polymer Conc (mg)</text><text transform="translate(415.70 348.40) rotate(-90)" font-size="7.0" text-anchor="middle" fill="#333">B: Stiring speed (rpm)</text><rect x="167.2" y="169.5" width="10.9" height="8.6" fill="#fff" stroke="#222" stroke-width="1"/><text x="172.65" y="176.07" font-size="6.4" text-anchor="middle" fill="#111" textLength="9.4" lengthAdjust="spacingAndGlyphs">0.2</text><rect x="222.9" y="113.2" width="12.2" height="9.5" fill="#fff" stroke="#222" stroke-width="1"/><text x="229.00" y="120.22" font-size="6.4" text-anchor="middle" fill="#111" textLength="9.4" lengthAdjust="spacingAndGlyphs">0.4</text><rect x="307.7" y="94.3" width="11.2" height="9.0" fill="#fff" stroke="#222" stroke-width="1"/><text x="313.30" y="101.07" font-size="6.4" text-anchor="middle" fill="#111" textLength="9.4" lengthAdjust="spacingAndGlyphs">0.6</text><rect x="371.2" y="26.8" width="12.2" height="9.1" fill="#fff" stroke="#222" stroke-width="1"/><text x="377.30" y="33.62" font-size="6.4" text-anchor="middle" fill="#111" textLength="9.4" lengthAdjust="spacingAndGlyphs">0.8</text><rect x="539.4" y="31.1" width="14.3" height="9.4" fill="#fff" stroke="#222" stroke-width="1"/><text x="546.55" y="38.28" font-size="7.0" text-anchor="middle" fill="#111" textLength="11.6" lengthAdjust="spacingAndGlyphs">200</text><rect x="560.3" y="120.5" width="14.0" height="9.2" fill="#fff" stroke="#222" stroke-width="1"/><text x="567.30" y="127.58" font-size="7.0" text-anchor="middle" fill="#111" textLength="11.6" lengthAdjust="spacingAndGlyphs">300</text><rect x="651.4" y="188.5" width="14.3" height="9.0" fill="#fff" stroke="#222" stroke-width="1"/><text x="658.55" y="195.49" font-size="7.0" text-anchor="middle" fill="#111" textLength="11.6" lengthAdjust="spacingAndGlyphs">400</text><rect x="167.6" y="276.7" width="9.9" height="8.9" fill="#fff" stroke="#222" stroke-width="1"/><text x="172.55" y="283.42" font-size="6.4" text-anchor="middle" fill="#111" textLength="6.6" lengthAdjust="spacingAndGlyphs">78</text><rect x="199.5" y="339.0" width="9.9" height="9.0" fill="#fff" stroke="#222" stroke-width="1"/><text x="204.45" y="345.77" font-size="6.4" text-anchor="middle" fill="#111" textLength="6.6" lengthAdjust="spacingAndGlyphs">80</text><rect x="242.7" y="339.0" width="10.1" height="9.0" fill="#fff" stroke="#222" stroke-width="1"/><text x="247.75" y="345.77" font-size="6.4" text-anchor="middle" fill="#111" textLength="6.6" lengthAdjust="spacingAndGlyphs">82</text><rect x="285.6" y="338.9" width="11.2" height="9.6" fill="#fff" stroke="#222" stroke-width="1"/><text x="291.20" y="345.97" font-size="6.4" text-anchor="middle" fill="#111" textLength="6.6" lengthAdjust="spacingAndGlyphs">84</text><rect x="329.1" y="337.3" width="10.7" height="9.8" fill="#fff" stroke="#222" stroke-width="1"/><text x="334.45" y="344.47" font-size="6.4" text-anchor="middle" fill="#111" textLength="6.6" lengthAdjust="spacingAndGlyphs">86</text><rect x="372.5" y="338.9" width="10.8" height="9.6" fill="#fff" stroke="#222" stroke-width="1"/><text x="377.90" y="345.97" font-size="6.4" text-anchor="middle" fill="#111" textLength="6.6" lengthAdjust="spacingAndGlyphs">88</text><rect x="463.2" y="343.4" width="10.8" height="9.8" fill="#fff" stroke="#222" stroke-width="1"/><text x="468.60" y="350.57" font-size="6.4" text-anchor="middle" fill="#111" textLength="6.6" lengthAdjust="spacingAndGlyphs">64</text><rect x="499.6" y="336.2" width="11.0" height="10.3" fill="#fff" stroke="#222" stroke-width="1"/><text x="505.10" y="343.62" font-size="6.4" text-anchor="middle" fill="#111" textLength="6.6" lengthAdjust="spacingAndGlyphs">66</text><rect x="538.4" y="338.9" width="10.7" height="9.6" fill="#fff" stroke="#222" stroke-width="1"/><text x="543.75" y="345.97" font-size="6.4" text-anchor="middle" fill="#111" textLength="6.6" lengthAdjust="spacingAndGlyphs">68</text><rect x="576.7" y="338.9" width="10.8" height="9.6" fill="#fff" stroke="#222" stroke-width="1"/><text x="582.10" y="345.97" font-size="6.4" text-anchor="middle" fill="#111" textLength="6.6" lengthAdjust="spacingAndGlyphs">70</text><rect x="614.2" y="336.7" width="10.5" height="9.5" fill="#fff" stroke="#222" stroke-width="1"/><text x="619.45" y="343.72" font-size="6.4" text-anchor="middle" fill="#111" textLength="6.6" lengthAdjust="spacingAndGlyphs">72</text><rect x="652.9" y="339.2" width="10.9" height="9.4" fill="#fff" stroke="#222" stroke-width="1"/><text x="658.35" y="346.17" font-size="6.4" text-anchor="middle" fill="#111" textLength="6.6" lengthAdjust="spacingAndGlyphs">74</text><rect x="323.1" y="19.5" width="71.3" height="10.2" fill="#fff" stroke="#888" stroke-width="1"/><text x="324.9" y="27.4" font-size="7" fill="#222" textLength="35.4" lengthAdjust="spacingAndGlyphs">Desirability</text><text x="393.8" y="27.4" font-size="7" text-anchor="end" fill="#222" textLength="29.4" lengthAdjust="spacingAndGlyphs">0.861435</text><rect x="614.2" y="18.7" width="64.7" height="10.8" fill="#fff" stroke="#888" stroke-width="1"/><text x="616.0" y="26.6" font-size="7" fill="#222" textLength="32.2" lengthAdjust="spacingAndGlyphs">Prediction</text><text x="678.3" y="26.6" font-size="7" text-anchor="end" fill="#222" textLength="25.7" lengthAdjust="spacingAndGlyphs">212.522</text><rect x="329.7" y="259.2" width="64.1" height="10.5" fill="#fff" stroke="#888" stroke-width="1"/><text x="331.5" y="267.1" font-size="7" fill="#222" textLength="32.1" lengthAdjust="spacingAndGlyphs">Prediction</text><text x="393.2" y="267.1" font-size="7" text-anchor="end" fill="#222" textLength="25.2" lengthAdjust="spacingAndGlyphs">88.0061</text><rect x="614.3" y="258.8" width="64.9" height="10.8" fill="#fff" stroke="#888" stroke-width="1"/><text x="616.1" y="266.7" font-size="7" fill="#222" textLength="32.1" lengthAdjust="spacingAndGlyphs">Prediction</text><text x="678.6" y="266.7" font-size="7" text-anchor="end" fill="#222" textLength="25.0" lengthAdjust="spacingAndGlyphs">76.1111</text><ellipse cx="165.80" cy="204.50" rx="2.2" ry="2.0" fill="#c80000" stroke="#2a0000" stroke-width="1"/><ellipse cx="165.80" cy="108.10" rx="2.2" ry="2.0" fill="#c80000" stroke="#2a0000" stroke-width="1"/><ellipse cx="165.80" cy="11.70" rx="2.2" ry="2.0" fill="#c80000" stroke="#2a0000" stroke-width="1"/><ellipse cx="280.15" cy="204.50" rx="2.2" ry="2.0" fill="#c80000" stroke="#2a0000" stroke-width="1"/><ellipse cx="280.15" cy="108.10" rx="2.2" ry="2.0" fill="#c80000" stroke="#2a0000" stroke-width="1"/><ellipse cx="280.15" cy="11.70" rx="2.2" ry="2.0" fill="#c80000" stroke="#2a0000" stroke-width="1"/><ellipse cx="394.50" cy="204.50" rx="2.2" ry="2.0" fill="#c80000" stroke="#2a0000" stroke-width="1"/><ellipse cx="394.50" cy="108.10" rx="2.2" ry="2.0" fill="#c80000" stroke="#2a0000" stroke-width="1"/><ellipse cx="394.50" cy="11.70" rx="2.2" ry="2.1" fill="#a0a0a0" stroke="#4a2828" stroke-width="1"/><ellipse cx="450.20" cy="204.40" rx="2.2" ry="2.0" fill="#c80000" stroke="#2a0000" stroke-width="1"/><ellipse cx="450.20" cy="108.00" rx="2.2" ry="2.0" fill="#c80000" stroke="#2a0000" stroke-width="1"/><ellipse cx="450.20" cy="11.60" rx="2.2" ry="2.0" fill="#c80000" stroke="#2a0000" stroke-width="1"/><ellipse cx="564.83" cy="204.40" rx="2.2" ry="2.0" fill="#c80000" stroke="#2a0000" stroke-width="1"/><ellipse cx="564.83" cy="108.00" rx="2.2" ry="2.0" fill="#c80000" stroke="#2a0000" stroke-width="1"/><ellipse cx="564.83" cy="11.60" rx="2.2" ry="2.0" fill="#c80000" stroke="#2a0000" stroke-width="1"/><ellipse cx="679.45" cy="204.40" rx="2.2" ry="2.0" fill="#c80000" stroke="#2a0000" stroke-width="1"/><ellipse cx="679.45" cy="108.00" rx="2.2" ry="2.0" fill="#c80000" stroke="#2a0000" stroke-width="1"/><ellipse cx="679.45" cy="11.60" rx="2.2" ry="2.1" fill="#a0a0a0" stroke="#4a2828" stroke-width="1"/><ellipse cx="165.80" cy="444.80" rx="2.2" ry="2.0" fill="#c80000" stroke="#2a0000" stroke-width="1"/><ellipse cx="165.80" cy="348.35" rx="2.2" ry="2.0" fill="#c80000" stroke="#2a0000" stroke-width="1"/><ellipse cx="165.80" cy="251.90" rx="2.2" ry="2.0" fill="#c80000" stroke="#2a0000" stroke-width="1"/><ellipse cx="280.20" cy="444.80" rx="2.2" ry="2.0" fill="#c80000" stroke="#2a0000" stroke-width="1"/><ellipse cx="280.20" cy="348.35" rx="2.2" ry="2.0" fill="#c80000" stroke="#2a0000" stroke-width="1"/><ellipse cx="280.20" cy="251.90" rx="2.2" ry="2.0" fill="#c80000" stroke="#2a0000" stroke-width="1"/><ellipse cx="394.60" cy="444.80" rx="2.2" ry="2.0" fill="#c80000" stroke="#2a0000" stroke-width="1"/><ellipse cx="394.60" cy="348.35" rx="2.2" ry="2.0" fill="#c80000" stroke="#2a0000" stroke-width="1"/><ellipse cx="394.60" cy="251.90" rx="2.2" ry="2.1" fill="#a0a0a0" stroke="#4a2828" stroke-width="1"/><ellipse cx="450.20" cy="444.80" rx="2.2" ry="2.0" fill="#c80000" stroke="#2a0000" stroke-width="1"/><ellipse cx="450.20" cy="348.40" rx="2.2" ry="2.0" fill="#c80000" stroke="#2a0000" stroke-width="1"/><ellipse cx="450.20" cy="252.00" rx="2.2" ry="2.0" fill="#c80000" stroke="#2a0000" stroke-width="1"/><ellipse cx="564.83" cy="444.80" rx="2.2" ry="2.0" fill="#c80000" stroke="#2a0000" stroke-width="1"/><ellipse cx="564.83" cy="348.40" rx="2.2" ry="2.0" fill="#c80000" stroke="#2a0000" stroke-width="1"/><ellipse cx="564.83" cy="252.00" rx="2.2" ry="2.0" fill="#c80000" stroke="#2a0000" stroke-width="1"/><ellipse cx="679.45" cy="444.80" rx="2.2" ry="2.0" fill="#c80000" stroke="#2a0000" stroke-width="1"/><ellipse cx="679.45" cy="348.40" rx="2.2" ry="2.0" fill="#c80000" stroke="#2a0000" stroke-width="1"/><ellipse cx="679.45" cy="252.00" rx="2.2" ry="2.1" fill="#a0a0a0" stroke="#4a2828" stroke-width="1"/>
<text x="0.5" y="8.8" font-size="9.8" fill="#444" textLength="89.7" lengthAdjust="spacingAndGlyphs">Factor Coding: Actual</text>
<text x="0.6" y="36.8" font-size="8.9" font-weight="bold" fill="#222">All Responses</text>
<ellipse cx="10.6" cy="49.4" rx="4.8" ry="4.8" fill="#c00000" stroke="#300" stroke-width="1"/>
<text x="20.2" y="52.4" font-size="9.7" fill="#c83232" textLength="58.2" lengthAdjust="spacingAndGlyphs">Design Points</text>
<text x="0.8" y="80.9" font-size="9" fill="#5050ff">0</text>
<rect x="9.8" y="72.7" width="32.8" height="11.6" fill="url(#leg)" stroke="#333" stroke-width="1"/>
<text x="46.6" y="80.9" font-size="9" fill="#ff5a5a">1</text>
<text x="0.6" y="95.8" font-size="9.4" fill="#444">X1 = A</text>
<text x="0.6" y="110" font-size="9.4" fill="#444">X2 = B</text>
</svg></body></html>
